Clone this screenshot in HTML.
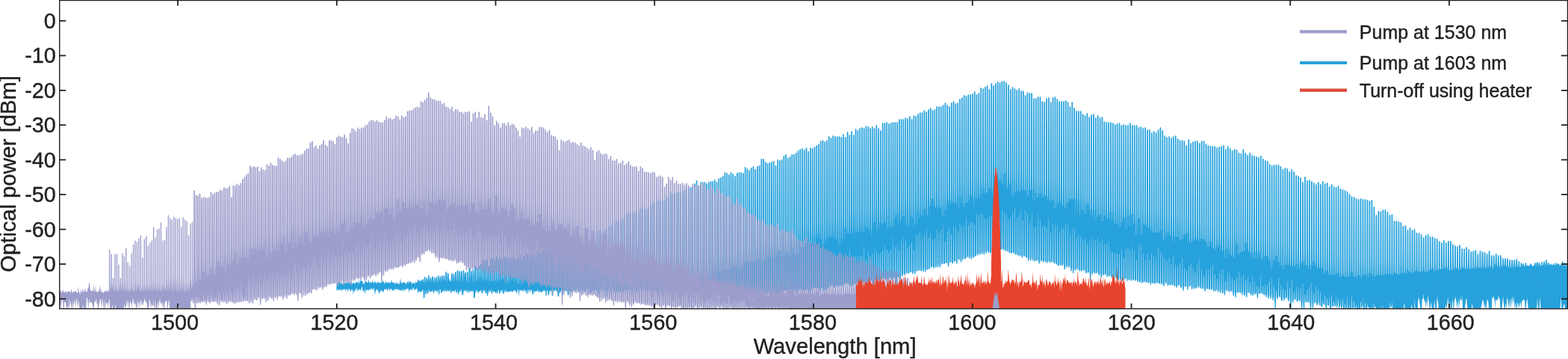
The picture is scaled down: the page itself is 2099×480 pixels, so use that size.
<!DOCTYPE html>
<html lang="en">
<head>
<meta charset="utf-8">
<title>Optical spectra</title>
<style>
html,body{margin:0;padding:0;background:#fff;}
body{width:2099px;height:480px;overflow:hidden;}
svg{display:block;}
text{font-family:"Liberation Sans",sans-serif;fill:#231f20;stroke:#231f20;stroke-width:0.4px;}
.tk text{font-size:28.8px;}
.lb{font-size:29.2px;}
.lg text{font-size:25px;}
</style>
</head>
<body>
<svg width="2099" height="480" viewBox="0 0 2099 480">
<rect width="2099" height="480" fill="#fff"/>
<defs><clipPath id="c"><rect x="79.7" y="0.5" width="2018.8" height="412.3"/></clipPath></defs>
<g clip-path="url(#c)" stroke-linejoin="round">
<g id="blue" fill="#27a2dc" stroke="#27a2dc">
<path d="M450.5 377.7L451.3 378.9L452.1 379.2L452.9 379.2L453.7 376.8L454.5 378.2L455.3 375.4L456.1 379.7L456.9 377.4L457.7 378.2L458.5 380.5L459.3 378.5L460.1 376.6L460.9 378L461.7 379L462.5 376.4L463.3 379.4L464.1 377.1L464.9 379.3L465.7 376.7L466.5 376.4L467.3 380.1L468.1 378.1L468.9 377.5L469.7 378.1L470.5 378.5L471.3 380.1L472.1 377.9L472.9 378.9L473.7 376.2L474.5 380.8L475.3 378.6L476.1 377.9L476.9 377.3L477.7 376.8L478.5 379L479.3 375.3L480.1 381.1L480.9 374.1L481.7 379.2L482.5 374.1L483.3 375.3L484.1 376.1L484.9 374.4L485.7 378.7L486.5 378.5L487.3 381.2L488.1 377.3L488.9 375.6L489.7 377L490.5 376.1L491.3 377.9L492.1 377.7L492.9 377L493.7 373.1L494.5 378.4L495.3 376.4L496.1 379.6L496.9 376L497.7 378.6L498.5 374.7L499.3 378.2L500.1 377.1L500.9 379.5L501.7 374.6L502.5 377.4L503.3 376.7L504.1 379.7L504.9 377.2L505.7 377.7L506.5 377.4L507.3 376.6L508.1 379.6L508.9 377.7L509.7 377L510.5 379.6L511.3 372.2L512.1 377.9L512.9 375.1L513.7 376.6L514.5 379.7L515.3 378.5L516.1 377L516.9 376.2L517.7 377.9L518.5 378L519.3 378.2L520.1 377.6L520.9 377L521.7 379.4L522.5 377.3L523.3 377.9L524.1 373.2L524.9 378L525.7 377.7L526.5 377.3L527.3 379.9L528.1 376.3L528.9 379.5L529.7 378.9L530.5 378.8L531.3 376.9L532.1 378.9L532.9 379.9L533.7 379L534.5 380.6L535.3 376.7L536.1 371.7L536.9 378.5L537.7 379.1L538.5 377.4L539.3 378.4L540.1 376.7L540.9 377.6L541.7 378.3L542.5 377.8L543.3 380.2L544.1 378.9L544.9 377.2L545.7 376.1L546.5 379.8L547.3 375L548.1 376.5L548.9 378.1L549.7 375.6L550.5 376.8L551.3 380.2L552.1 379.3L552.9 377.2L553.7 378.4L554.5 378.4L555.3 380.1L556.1 376.9L556.9 376.4L557.7 377.9L558.5 378.1L559.3 373.8L560.1 373.8L560.9 375.9L561.7 375.1L562.5 376.4L563.3 378.2L564.1 374.2L564.9 376.4L565.7 376.6L566.5 375.3L567.3 379L568.1 377.6L568.9 374.5L569.7 378.3L570.5 377L571.3 375.3L572.1 375.7L572.9 377L573.7 380L574.5 375.6L575.3 377.4L576.1 377.2L576.9 376.7L577.7 377.8L578.5 378.6L579.3 377.7L580.1 378.1L580.9 377.2L581.7 378L582.5 378L583.3 378L584.1 378.6L584.9 379.1L585.7 378.3L586.5 378.1L587.3 376.7L588.1 376L588.9 372.7L589.7 377.8L590.5 382.3L591.3 377.3L592.1 374.8L592.9 377.4L593.7 374.8L594.5 377L595.3 376.3L596.1 377.7L596.9 379.5L597.7 379.1L598.5 377.7L599.3 378.1L600.1 378.2L600.9 378.4L601.7 371.8L602.5 375.9L603.3 376.7L604.1 376.7L604.9 376.3L605.7 376.4L606.5 376L607.3 377.3L608.1 375.6L608.9 376.1L609.7 378.1L610.5 375.9L611.3 379.3L612.1 375.8L612.9 378.2L613.7 377.9L614.5 379.7L615.3 374.8L616.1 378.2L616.9 372.5L617.7 373.8L618.5 379.8L619.3 378.8L620.1 378L620.9 375.9L621.7 379.2L622.5 378.2L623.3 377.3L624.1 377.1L624.9 376.8L625.7 378.9L626.5 379.3L627.3 376.2L628.1 377.4L628.9 375.8L629.7 377.6L630.5 376.2L631.3 375.2L632.1 376L632.9 378.4L633.7 377.3L634.5 376.5L635.3 375.9L636.1 380.6L636.9 375.7L637.7 377.7L638.5 375.2L639.3 376.4L640.1 374L640.9 378.6L641.7 378.4L642.5 377.5L643.3 379.2L644.1 379.8L644.9 375.6L645.7 379.7L646.5 376.9L647.3 376.9L648.1 377.8L648.9 378.3L649.7 376.6L650.5 376.2L651.3 377.2L652.1 376.9L652.9 374.8L653.7 376.7L654.5 379.1L655.3 380.9L656.1 372.4L656.9 372L657.7 376.5L658.5 376.9L659.3 379.9L660.1 379.9L660.9 379.6L661.7 377L662.5 376.8L663.3 376.1L664.1 377.4L664.9 378.4L665.7 377.6L666.5 376.5L667.3 379.5L668.1 380.9L668.9 377.8L669.7 377.9L670.5 379.9L671.3 378.4L672.1 376.9L672.9 377.1L673.7 379.8L674.5 379.7L675.3 377.7L676.1 378.2L676.9 378L677.7 379.1L678.5 380.2L679.3 378.8L680.1 374.4L680.9 379.3L681.7 379.7L682.5 377.6L683.3 376.4L684.1 376.1L684.9 379.7L685.7 378.1L686.5 380.1L687.3 380.8L688.1 376.8L688.9 378.2L689.7 377L690.5 372.1L691.3 380.7L692.1 376.9L692.9 378.6L693.7 380.9L694.5 379.5L695.3 377.9L696.1 379.9L696.9 379.5L697.7 382.3L698.5 373.4L699.3 379.1L700.1 379.9L700.9 379.5L701.7 378.6L702.5 380.3L703.3 376.3L704.1 376.9L704.9 381.9L705.7 382.5L706.5 380L707.3 379.9L708.1 378.7L708.9 376.7L709.7 375L710.5 380.9L711.3 380.7L712.1 374.9L712.9 378.1L713.7 380.6L714.5 377.7L715.3 380.1L716.1 377L716.9 376.5L717.7 378.3L718.5 378.4L719.3 380.2L720.1 376L720.9 380.5L721.7 378.7L722.5 376.9L723.3 379.1L724.1 380.1L724.9 378.5L725.7 377.2L726.5 382.1L727.3 378.3L728.1 377.1L728.9 379.1L729.7 379.5L730.5 378.6L731.3 378.4L732.1 378.8L732.9 380.1L733.7 380.9L734.5 379.9L735.3 379.8L736.1 380.7L736.9 377.7L737.7 379.8L738.5 381.7L739.3 378.5L740.1 376.8L740.9 379.8L741.7 381.3L742.5 377.8L743.3 377.9L744.1 381.5L744.9 378.8L745.7 378.4L746.5 379.7L747.3 374.2L748.1 380.7L748.9 382.2L749.7 379.5L750.5 376.1L751.3 375.6L752.1 379.6L752.9 382.8L753.7 379.8L754.5 380L755.3 381.2L756.1 378.8L756.9 376.7L757.7 377L758.5 379.4L759.3 379.2L759.3 388.1L758.5 386.5L757.7 383.6L756.9 388.7L756.1 386.1L755.3 387.9L754.5 387.4L753.7 388L752.9 387.6L752.1 389.7L751.3 386.4L750.5 384.8L749.7 384L748.9 389.6L748.1 386.5L747.3 388.2L746.5 388.2L745.7 390.9L744.9 389L744.1 386.4L743.3 386L742.5 387.5L741.7 385.2L740.9 385.3L740.1 387.4L739.3 386.6L738.5 388.3L737.7 387.6L736.9 389.8L736.1 387.4L735.3 389.4L734.5 391.3L733.7 386.7L732.9 388.9L732.1 387.9L731.3 384.8L730.5 389.4L729.7 388.7L728.9 388.1L728.1 386.4L727.3 389L726.5 387.3L725.7 383.9L724.9 391.7L724.1 389.8L723.3 388.9L722.5 388.5L721.7 388.2L720.9 385.1L720.1 388.9L719.3 385.3L718.5 388L717.7 385.7L716.9 388.9L716.1 389.5L715.3 389.2L714.5 388.4L713.7 388.8L712.9 389.1L712.1 387.6L711.3 385.6L710.5 385.9L709.7 386.1L708.9 386.5L708.1 394.5L707.3 383.8L706.5 386.7L705.7 390.4L704.9 388.6L704.1 387.5L703.3 386.9L702.5 385.2L701.7 386.3L700.9 386.9L700.1 385.6L699.3 385.4L698.5 389.2L697.7 387.1L696.9 388.5L696.1 387.3L695.3 389.1L694.5 397.2L693.7 387L692.9 386.5L692.1 390.2L691.3 392.6L690.5 387.4L689.7 386.1L688.9 388.2L688.1 386.9L687.3 385L686.5 384.8L685.7 387.3L684.9 386.4L684.1 388.1L683.3 387L682.5 386.6L681.7 384.1L680.9 386.8L680.1 388.1L679.3 384.9L678.5 387.7L677.7 387.2L676.9 387.7L676.1 388.6L675.3 388.3L674.5 387.7L673.7 390L672.9 388.7L672.1 386.5L671.3 388.6L670.5 387.9L669.7 386.9L668.9 386.8L668.1 387L667.3 387.7L666.5 387.2L665.7 388.6L664.9 386.3L664.1 388.8L663.3 388.1L662.5 388.5L661.7 388.4L660.9 385.8L660.1 384.9L659.3 387.2L658.5 386.2L657.7 385.5L656.9 387.3L656.1 384.6L655.3 387.7L654.5 387.3L653.7 388.8L652.9 395.4L652.1 387.5L651.3 386.2L650.5 391.8L649.7 390.5L648.9 385.7L648.1 385.4L647.3 385.2L646.5 388.3L645.7 387.3L644.9 389.6L644.1 388.5L643.3 386.7L642.5 386.4L641.7 390L640.9 389.2L640.1 387.1L639.3 388.6L638.5 388.2L637.7 388.1L636.9 386.4L636.1 390.2L635.3 388L634.5 389.1L633.7 388.5L632.9 386.1L632.1 389.2L631.3 387.9L630.5 389L629.7 389.4L628.9 387.6L628.1 388.9L627.3 386.4L626.5 388.5L625.7 386.1L624.9 387.1L624.1 390.2L623.3 388.4L622.5 385.1L621.7 390.1L620.9 388.3L620.1 390.7L619.3 388.1L618.5 389L617.7 385.2L616.9 388.8L616.1 388.3L615.3 389.8L614.5 387.7L613.7 388.6L612.9 384L612.1 388.9L611.3 388.9L610.5 386.9L609.7 387.1L608.9 385.8L608.1 386.9L607.3 387.3L606.5 388.3L605.7 388.9L604.9 389.1L604.1 384.1L603.3 386.7L602.5 384.2L601.7 389.5L600.9 385.9L600.1 390.1L599.3 387L598.5 388.9L597.7 387.8L596.9 384.9L596.1 386.9L595.3 389.9L594.5 388L593.7 382.8L592.9 385.1L592.1 387.4L591.3 390L590.5 390.9L589.7 386.4L588.9 386.9L588.1 387.2L587.3 388.5L586.5 385.6L585.7 390.3L584.9 388.3L584.1 389.4L583.3 386.6L582.5 389.3L581.7 388.7L580.9 388.3L580.1 389.3L579.3 387.6L578.5 387.9L577.7 386L576.9 387.6L576.1 383.3L575.3 387.5L574.5 385L573.7 389.1L572.9 387.7L572.1 387.1L571.3 387.8L570.5 386.9L569.7 388.9L568.9 386.2L568.1 392.8L567.3 387.1L566.5 387.1L565.7 387.3L564.9 385.7L564.1 390.9L563.3 390.9L562.5 388.6L561.7 387.9L560.9 386.2L560.1 386L559.3 393.5L558.5 387.8L557.7 384.7L556.9 387.6L556.1 386.3L555.3 387.8L554.5 387.9L553.7 384.7L552.9 384.7L552.1 389L551.3 385.8L550.5 389.2L549.7 386.2L548.9 387.3L548.1 387.4L547.3 391.5L546.5 385.7L545.7 385.2L544.9 386.5L544.1 387L543.3 385.7L542.5 389.3L541.7 386.8L540.9 386.9L540.1 390.8L539.3 385.3L538.5 389.4L537.7 386.9L536.9 389.8L536.1 387.3L535.3 388.3L534.5 388.3L533.7 386.2L532.9 387.7L532.1 387.8L531.3 385.3L530.5 387.3L529.7 387.1L528.9 386.5L528.1 388.9L527.3 386.1L526.5 388.8L525.7 388.6L524.9 388.9L524.1 386.3L523.3 386.3L522.5 386.6L521.7 390L520.9 385.2L520.1 386L519.3 388.2L518.5 388.4L517.7 385.2L516.9 388L516.1 386L515.3 386.5L514.5 387L513.7 389.6L512.9 390.9L512.1 389.7L511.3 387.2L510.5 389.9L509.7 388L508.9 388.9L508.1 392.4L507.3 392.4L506.5 389.2L505.7 388.3L504.9 386.9L504.1 386.6L503.3 388.9L502.5 390.2L501.7 395.8L500.9 384.5L500.1 386.3L499.3 388.8L498.5 386.3L497.7 384.7L496.9 388.5L496.1 385.5L495.3 387.6L494.5 386.5L493.7 389.2L492.9 387L492.1 388.6L491.3 387.5L490.5 387.3L489.7 392.2L488.9 384.9L488.1 394.4L487.3 387.3L486.5 389.8L485.7 389.5L484.9 384.8L484.1 383L483.3 388.8L482.5 388.2L481.7 386.8L480.9 386L480.1 389.9L479.3 386.9L478.5 389.5L477.7 384.3L476.9 387.1L476.1 389.6L475.3 385.6L474.5 390.8L473.7 387.9L472.9 394.6L472.1 387.7L471.3 387.6L470.5 386.7L469.7 389.8L468.9 389.8L468.1 387L467.3 385.8L466.5 387.2L465.7 391.1L464.9 386.3L464.1 386.8L463.3 387L462.5 390L461.7 386.2L460.9 386.5L460.1 388.3L459.3 386.2L458.5 388.2L457.7 386.7L456.9 390.5L456.1 385.7L455.3 387.8L454.5 387.6L453.7 388.6L452.9 386.1L452.1 388.1L451.3 387.4L450.5 389.5Z" stroke="none"/>
<path d="M1770 380.9L1770.9 383L1771.8 381.4L1772.7 380.9L1773.6 379.2L1774.5 378.7L1775.4 379.4L1776.3 377.6L1777.2 377.1L1778.1 378.3L1779 375.5L1779.9 378.2L1780.8 379.5L1781.7 375.1L1782.6 377.3L1783.5 376.2L1784.4 378.3L1785.3 376.9L1786.2 378L1787.1 375.4L1788 376.4L1788.9 374.6L1789.8 375.2L1790.7 374.2L1791.6 373.8L1792.5 376.3L1793.4 376.1L1794.3 375L1795.2 375.2L1796.1 375.1L1797 375.2L1797.9 371.9L1798.8 375.3L1799.7 372.9L1800.6 369.9L1801.5 375.8L1802.4 372.1L1803.3 376.5L1804.2 372.8L1805.1 372L1806 375.4L1806.9 371.7L1807.8 373.7L1808.7 370.7L1809.6 373.8L1810.5 370.9L1811.4 371.1L1812.3 376L1813.2 370.4L1814.1 372.7L1815 374.2L1815.9 372.4L1816.8 372.1L1817.7 367.8L1818.6 371.3L1819.5 374L1820.4 368.8L1821.3 370.1L1822.2 373.4L1823.1 372.9L1824 370.1L1824.9 371L1825.8 370.1L1826.7 371.3L1827.6 370.8L1828.5 371.7L1829.4 370.6L1830.3 370.8L1831.2 372.1L1832.1 370.9L1833 368.1L1833.9 368.5L1834.8 369.1L1835.7 372.1L1836.6 368.2L1837.5 369.5L1838.4 365.4L1839.3 368.1L1840.2 369.7L1841.1 371L1842 370.6L1842.9 367.8L1843.8 371.9L1844.7 368.4L1845.6 370.3L1846.5 367.9L1847.4 370.6L1848.3 369.2L1849.2 368L1850.1 368.8L1851 366L1851.9 368.6L1852.8 366.5L1853.7 367.4L1854.6 369.9L1855.5 367.5L1856.4 366.3L1857.3 365.7L1858.2 367.7L1859.1 365.4L1860 365.9L1860.9 367.8L1861.8 366.8L1862.7 367.8L1863.6 367.7L1864.5 368.7L1865.4 366.5L1866.3 365.9L1867.2 368.5L1868.1 369.1L1869 367.5L1869.9 368.1L1870.8 368.2L1871.7 367.8L1872.6 367.5L1873.5 367.4L1874.4 365.5L1875.3 365.3L1876.2 367.1L1877.1 367.7L1878 367.5L1878.9 365.9L1879.8 364L1880.7 366.8L1881.6 364.3L1882.5 367.4L1883.4 363.8L1884.3 366.7L1885.2 366.7L1886.1 365.9L1887 368.7L1887.9 362L1888.8 366.7L1889.7 365.3L1890.6 364.4L1891.5 365.2L1892.4 364.2L1893.3 364.5L1894.2 363L1895.1 363.1L1896 367.2L1896.9 366.9L1897.8 364L1898.7 364.8L1899.6 361.7L1900.5 366.1L1901.4 362.5L1902.3 364L1903.2 366.4L1904.1 363.1L1905 365L1905.9 362.5L1906.8 364.3L1907.7 363.6L1908.6 365L1909.5 364.5L1910.4 363.5L1911.3 363.1L1912.2 364.1L1913.1 364.1L1914 359.9L1914.9 364.2L1915.8 360.5L1916.7 363.8L1917.6 362.5L1918.5 362L1919.4 363.4L1920.3 361.7L1921.2 362.1L1922.1 362.5L1923 360.3L1923.9 359.8L1924.8 363.9L1925.7 361.9L1926.6 362.2L1927.5 362.7L1928.4 362.8L1929.3 361.4L1930.2 362.2L1931.1 361.6L1932 361L1932.9 361.1L1933.8 360.3L1934.7 361.8L1935.6 363.2L1936.5 364.5L1937.4 360.2L1938.3 360.1L1939.2 360.1L1940.1 361.1L1941 362.4L1941.9 359.7L1942.8 361.3L1943.7 360.9L1944.6 359.8L1945.5 359.4L1946.4 361.6L1947.3 361.5L1948.2 360.6L1949.1 360.8L1950 358L1950.9 358.2L1951.8 360.8L1952.7 360.3L1953.6 361.2L1954.5 361.2L1955.4 358.9L1956.3 360.9L1957.2 357.8L1958.1 359L1959 356.9L1959.9 360.7L1960.8 357.1L1961.7 361L1962.6 357.2L1963.5 358.8L1964.4 359.2L1965.3 363.9L1966.2 357.9L1967.1 360L1968 361L1968.9 359.3L1969.8 357.3L1970.7 358.9L1971.6 359.2L1972.5 359.1L1973.4 359.8L1974.3 356.7L1975.2 355.3L1976.1 360.6L1977 355.5L1977.9 359L1978.8 358.9L1979.7 358L1980.6 356.8L1981.5 357.8L1982.4 358.2L1983.3 357.2L1984.2 357.9L1985.1 360.3L1986 355L1986.9 359.8L1987.8 358.8L1988.7 359.8L1989.6 358.8L1990.5 360L1991.4 357L1992.3 357L1993.2 357.6L1994.1 360.4L1995 356.7L1995.9 360.1L1996.8 356.4L1997.7 357.7L1998.6 360.6L1999.5 358.1L2000.4 356.6L2001.3 351.3L2002.2 358.1L2003.1 357.1L2004 359.3L2004.9 356L2005.8 356.9L2006.7 357.6L2007.6 358.2L2008.5 353.6L2009.4 358.2L2010.3 357.8L2011.2 355.8L2012.1 357L2013 355L2013.9 354.6L2014.8 358.5L2015.7 355.5L2016.6 357.7L2017.5 356.2L2018.4 357.4L2019.3 356L2020.2 358.9L2021.1 354.1L2022 357.4L2022.9 358.9L2023.8 354.9L2024.7 354.3L2025.6 357.9L2026.5 356.8L2027.4 356L2028.3 358.2L2029.2 356.6L2030.1 357.3L2031 356.1L2031.9 355.8L2032.8 356.9L2033.7 355.5L2034.6 358.4L2035.5 356.3L2036.4 355.4L2037.3 353.3L2038.2 353.5L2039.1 357.1L2040 355.3L2040.9 355.9L2041.8 356.1L2042.7 357.5L2043.6 356L2044.5 354.6L2045.4 354.7L2046.3 355.7L2047.2 354.4L2048.1 357.1L2049 354.6L2049.9 352.4L2050.8 355.2L2051.7 356.1L2052.6 356.6L2053.5 353.4L2054.4 356.5L2055.3 356.7L2056.2 355.3L2057.1 355.8L2058 356.1L2058.9 351.4L2059.8 357L2060.7 355.8L2061.6 354.8L2062.5 355.7L2063.4 356.4L2064.3 355.9L2065.2 354.6L2066.1 353.6L2067 354L2067.9 357L2068.8 353.5L2069.7 355.9L2070.6 354.1L2071.5 353L2072.4 354.4L2073.3 354.8L2074.2 353.9L2075.1 354.4L2076 352.9L2076.9 352.3L2077.8 355.4L2078.7 354.1L2079.6 354.2L2080.5 354.4L2081.4 354.3L2082.3 355.8L2083.2 354L2084.1 355L2085 356.3L2085.9 354.2L2086.8 354.7L2087.7 355.5L2088.6 352.7L2089.5 354.9L2090.4 353.4L2091.3 351.8L2092.2 352.4L2093.1 355.7L2094 353.4L2094.9 354.7L2095.8 355.6L2096.7 355.4L2097.6 351L2098.5 354.2L2098.5 413L2097.6 413L2096.7 413L2095.8 413L2094.9 413L2094 405.8L2093.1 408.1L2092.2 413L2091.3 413L2090.4 413L2089.5 394.4L2088.6 413L2087.7 413L2086.8 413L2085.9 413L2085 413L2084.1 413L2083.2 413L2082.3 413L2081.4 413L2080.5 413L2079.6 413L2078.7 413L2077.8 413L2076.9 413L2076 413L2075.1 413L2074.2 413L2073.3 413L2072.4 413L2071.5 413L2070.6 413L2069.7 413L2068.8 413L2067.9 413L2067 413L2066.1 413L2065.2 413L2064.3 413L2063.4 413L2062.5 413L2061.6 395.7L2060.7 413L2059.8 413L2058.9 413L2058 397.8L2057.1 413L2056.2 413L2055.3 413L2054.4 413L2053.5 413L2052.6 413L2051.7 413L2050.8 413L2049.9 413L2049 413L2048.1 413L2047.2 413L2046.3 413L2045.4 409.6L2044.5 399.3L2043.6 402.3L2042.7 413L2041.8 413L2040.9 401.4L2040 401.1L2039.1 400.1L2038.2 403L2037.3 401.7L2036.4 413L2035.5 403.9L2034.6 405.4L2033.7 413L2032.8 404.1L2031.9 413L2031 402.1L2030.1 413L2029.2 413L2028.3 404.1L2027.4 413L2026.5 396.9L2025.6 405.4L2024.7 393.7L2023.8 413L2022.9 396.2L2022 406.5L2021.1 413L2020.2 400.5L2019.3 413L2018.4 399.8L2017.5 398.1L2016.6 413L2015.7 405L2014.8 413L2013.9 413L2013 406.7L2012.1 393.3L2011.2 405.6L2010.3 413L2009.4 413L2008.5 413L2007.6 397.4L2006.7 397L2005.8 393.2L2004.9 400L2004 399.6L2003.1 403L2002.2 399.2L2001.3 413L2000.4 395.2L1999.5 397.1L1998.6 394.9L1997.7 393.9L1996.8 413L1995.9 413L1995 413L1994.1 413L1993.2 413L1992.3 404.6L1991.4 396.5L1990.5 403.9L1989.6 413L1988.7 413L1987.8 405L1986.9 413L1986 404.4L1985.1 399.6L1984.2 403.6L1983.3 406L1982.4 413L1981.5 413L1980.6 413L1979.7 413L1978.8 413L1977.9 413L1977 413L1976.1 413L1975.2 413L1974.3 413L1973.4 413L1972.5 413L1971.6 413L1970.7 405.3L1969.8 413L1968.9 413L1968 413L1967.1 413L1966.2 413L1965.3 413L1964.4 413L1963.5 400.6L1962.6 398.4L1961.7 406.3L1960.8 413L1959.9 413L1959 413L1958.1 413L1957.2 393L1956.3 396L1955.4 400.5L1954.5 396.7L1953.6 413L1952.7 398.5L1951.8 413L1950.9 402L1950 413L1949.1 398L1948.2 396.3L1947.3 394.9L1946.4 413L1945.5 413L1944.6 395.1L1943.7 413L1942.8 413L1941.9 413L1941 402.4L1940.1 401.8L1939.2 413L1938.3 396L1937.4 406.2L1936.5 413L1935.6 406.5L1934.7 413L1933.8 413L1932.9 413L1932 413L1931.1 413L1930.2 413L1929.3 413L1928.4 413L1927.5 413L1926.6 413L1925.7 413L1924.8 394L1923.9 394L1923 413L1922.1 413L1921.2 413L1920.3 400.4L1919.4 413L1918.5 413L1917.6 413L1916.7 413L1915.8 401.8L1914.9 413L1914 413L1913.1 406L1912.2 399.9L1911.3 393.3L1910.4 413L1909.5 393.4L1908.6 413L1907.7 403.2L1906.8 402.7L1905.9 393.2L1905 394.2L1904.1 393.6L1903.2 413L1902.3 413L1901.4 413L1900.5 405.5L1899.6 399.1L1898.7 394.2L1897.8 413L1896.9 413L1896 413L1895.1 413L1894.2 393.7L1893.3 413L1892.4 413L1891.5 413L1890.6 413L1889.7 406.4L1888.8 413L1887.9 413L1887 413L1886.1 413L1885.2 413L1884.3 413L1883.4 413L1882.5 413L1881.6 413L1880.7 413L1879.8 404.1L1878.9 413L1878 413L1877.1 413L1876.2 413L1875.3 413L1874.4 413L1873.5 413L1872.6 413L1871.7 413L1870.8 413L1869.9 413L1869 413L1868.1 413L1867.2 413L1866.3 413L1865.4 401.6L1864.5 413L1863.6 406L1862.7 400.9L1861.8 413L1860.9 401.5L1860 413L1859.1 413L1858.2 413L1857.3 413L1856.4 400.8L1855.5 413L1854.6 413L1853.7 413L1852.8 413L1851.9 413L1851 408L1850.1 413L1849.2 403.9L1848.3 413L1847.4 413L1846.5 408.2L1845.6 413L1844.7 413L1843.8 413L1842.9 413L1842 413L1841.1 406.6L1840.2 413L1839.3 406.1L1838.4 397.1L1837.5 404.3L1836.6 413L1835.7 401.7L1834.8 413L1833.9 413L1833 413L1832.1 398.5L1831.2 413L1830.3 405.7L1829.4 401.5L1828.5 413L1827.6 406.1L1826.7 399.5L1825.8 407.3L1824.9 413L1824 395.5L1823.1 398.3L1822.2 404.5L1821.3 402.8L1820.4 413L1819.5 404.9L1818.6 413L1817.7 395.2L1816.8 413L1815.9 413L1815 404.2L1814.1 413L1813.2 401L1812.3 404.1L1811.4 405.9L1810.5 413L1809.6 394.4L1808.7 399L1807.8 399.7L1806.9 413L1806 401.9L1805.1 413L1804.2 413L1803.3 393.6L1802.4 402.4L1801.5 413L1800.6 405.9L1799.7 405.6L1798.8 405.8L1797.9 398.3L1797 404.1L1796.1 413L1795.2 394.8L1794.3 406.4L1793.4 396.7L1792.5 404.5L1791.6 399.2L1790.7 401.5L1789.8 413L1788.9 406.3L1788 391.3L1787.1 400.1L1786.2 403.1L1785.3 403.8L1784.4 399.4L1783.5 394.1L1782.6 396.2L1781.7 393L1780.8 400.9L1779.9 405.8L1779 390.8L1778.1 392.1L1777.2 394.2L1776.3 400.7L1775.4 397.2L1774.5 398.9L1773.6 395.1L1772.7 393.5L1771.8 390.3L1770.9 404.1L1770 401.5Z" stroke="none"/>
<path d="M562.3 381L564.9 381L564.9 378L567.5 378L567.5 379L570 379L570 378L572.6 378L572.6 375L575.2 375L575.2 377L577.8 377L577.8 378L580.4 378L580.4 379L582.9 379L582.9 378L585.5 378L585.5 382L588.1 382L588.1 380L590.7 380L590.7 376L593.3 376L593.3 375L595.9 375L595.9 376L598.5 376L598.5 377L601 377L601 379L603.6 379L603.6 383L606.2 383L606.2 376L608.8 376L608.8 374L611.4 374L611.4 376L614 376L614 378L616.6 378L616.6 379L619.2 379L619.2 377L621.8 377L621.8 381L624.4 381L624.4 379L627 379L627 381L629.6 381L629.6 380L632.2 380L632.2 380L634.8 380L634.8 380L637.4 380L637.4 376L640 376L640 371L642.6 371L642.6 381L645.2 381L645.2 374L647.8 374L647.8 375L650.4 375L650.4 379L653 379L653 382L655.6 382L655.6 380L658.2 380L658.2 376L660.8 376L660.8 379L663.4 379L663.4 375L666 375L666 376L668.7 376L668.7 381L671.3 381L671.3 374L673.9 374L673.9 372L676.5 372L676.5 375L679.1 375L679.1 379L681.7 379L681.7 375L684.3 375L684.3 376L686.9 376L686.9 378L689.6 378L689.6 372L692.2 372L692.2 383L694.8 383L694.8 374L697.4 374L697.4 381L700 381L700 373L702.7 373L702.7 377L705.3 377L705.3 378L707.9 378L707.9 379L710.5 379L710.5 380L713.2 380L713.2 377L715.8 377L715.8 372L718.4 372L718.4 377L721 377L721 376L723.7 376L723.7 375L726.3 375L726.3 379L728.9 379L728.9 373L731.6 373L731.6 382L734.2 382L734.2 377L736.8 377L736.8 376L739.5 376L739.5 378L742.1 378L742.1 379L744.7 379L744.7 375L747.4 375L747.4 378L750 378L750 377L752.6 377L752.6 375L755.3 375L755.3 377L757.9 377L757.9 375L760.5 375L760.5 377L763.2 377L763.2 375L765.8 375L765.8 378L768.5 378L768.5 379L771.1 379L771.1 380L773.8 380L773.8 378L776.4 378L776.4 374L779.1 374L779.1 375L781.7 375L781.7 373L784.3 373L784.3 379L787 379L787 373L789.6 373L789.6 379L792.3 379L792.3 378L794.9 378L794.9 375L797.6 375L797.6 375L800.2 375L800.2 375L802.9 375L802.9 375L805.6 375L805.6 375L808.2 375L808.2 372L810.9 372L810.9 380L813.5 380L813.5 377L816.2 377L816.2 377L818.8 377L818.8 379L821.5 379L821.5 375L824.2 375L824.2 374L826.8 374L826.8 372L829.5 372L829.5 373L832.1 373L832.1 376L834.8 376L834.8 375L837.5 375L837.5 373L840.1 373L840.1 373L842.8 373L842.8 371L845.5 371L845.5 371L848.1 371L848.1 376L850.8 376L850.8 375L853.5 375L853.5 373L856.2 373L856.2 374L858.8 374L858.8 377L861.5 377L861.5 375L864.2 375L864.2 375L866.8 375L866.8 371L869.5 371L869.5 375L872.2 375L872.2 371L874.9 371L874.9 375L877.5 375L877.5 372L880.2 372L880.2 376L882.9 376L882.9 373L885.6 373L885.6 369L888.3 369L888.3 373L891 373L891 374L893.6 374L893.6 375L896.3 375L896.3 376L899 376L899 374L901.7 374L901.7 377L904.4 377L904.4 369L907.1 369L907.1 372L909.7 372L909.7 369L912.4 369L912.4 371L915.1 371L915.1 369L917.8 369L917.8 370L920.5 370L920.5 375L923.2 375L923.2 372L925.9 372L925.9 375L928.6 375L928.6 373L931.3 373L931.3 374L934 374L934 375L936.7 375L936.7 369L939.4 369L939.4 369L942.1 369L942.1 372L944.8 372L944.8 369L947.5 369L947.5 366L950.2 366L950.2 374L952.9 374L952.9 362L955.6 362L955.6 365L958.3 365L958.3 365L961 365L961 363L963.7 363L963.7 364L966.4 364L966.4 362L969.1 362L969.1 362L971.8 362L971.8 361L974.5 361L974.5 359L977.2 359L977.2 360L979.9 360L979.9 355L982.7 355L982.7 358L985.4 358L985.4 354L988.1 354L988.1 359L990.8 359L990.8 359L993.5 359L993.5 353L996.2 353L996.2 350L998.9 350L998.9 349L1001.7 349L1001.7 351L1004.4 351L1004.4 351L1007.1 351L1007.1 351L1009.8 351L1009.8 352L1012.5 352L1012.5 348L1015.3 348L1015.3 346L1018 346L1018 356L1020.7 356L1020.7 347L1023.4 347L1023.4 347L1026.2 347L1026.2 343L1028.9 343L1028.9 345L1031.6 345L1031.6 343L1034.3 343L1034.3 345L1037.1 345L1037.1 341L1039.8 341L1039.8 335L1042.5 335L1042.5 335L1045.3 335L1045.3 343L1048 343L1048 341L1050.7 341L1050.7 337L1053.5 337L1053.5 339L1056.2 339L1056.2 342L1058.9 342L1058.9 331L1061.7 331L1061.7 340L1064.4 340L1064.4 342L1067.2 342L1067.2 339L1069.9 339L1069.9 330L1072.6 330L1072.6 334L1075.4 334L1075.4 330L1078.1 330L1078.1 324L1080.9 324L1080.9 325L1083.6 325L1083.6 325L1086.3 325L1086.3 325L1089.1 325L1089.1 326L1091.8 326L1091.8 317L1094.6 317L1094.6 313L1097.3 313L1097.3 319L1100.1 319L1100.1 329L1102.8 329L1102.8 322L1105.6 322L1105.6 324L1108.3 324L1108.3 317L1111.1 317L1111.1 316L1113.9 316L1113.9 318L1116.6 318L1116.6 320L1119.4 320L1119.4 320L1122.1 320L1122.1 329L1124.9 329L1124.9 324L1127.6 324L1127.6 320L1130.4 320L1130.4 305L1133.2 305L1133.2 312L1135.9 312L1135.9 312L1138.7 312L1138.7 306L1141.4 306L1141.4 313L1144.2 313L1144.2 309L1147 309L1147 310L1149.7 310L1149.7 311L1152.5 311L1152.5 305L1155.3 305L1155.3 311L1158 311L1158 304L1160.8 304L1160.8 307L1163.6 307L1163.6 308L1166.4 308L1166.4 319L1169.1 319L1169.1 297L1171.9 297L1171.9 313L1174.7 313L1174.7 304L1177.5 304L1177.5 297L1180.2 297L1180.2 300L1183 300L1183 297L1185.8 297L1185.8 306L1188.6 306L1188.6 304L1191.3 304L1191.3 303L1194.1 303L1194.1 304L1196.9 304L1196.9 291L1199.7 291L1199.7 286L1202.5 286L1202.5 299L1205.3 299L1205.3 294L1208 294L1208 289L1210.8 289L1210.8 301L1213.6 301L1213.6 305L1216.4 305L1216.4 301L1219.2 301L1219.2 290L1222 290L1222 304L1224.8 304L1224.8 300L1227.6 300L1227.6 283L1230.4 283L1230.4 291L1233.1 291L1233.1 288L1235.9 288L1235.9 280L1238.7 280L1238.7 289L1241.5 289L1241.5 288L1244.3 288L1244.3 275L1247.1 275L1247.1 266L1249.9 266L1249.9 277L1252.7 277L1252.7 279L1255.5 279L1255.5 275L1258.3 275L1258.3 278L1261.1 278L1261.1 288L1263.9 288L1263.9 281L1266.7 281L1266.7 273L1269.5 273L1269.5 268L1272.4 268L1272.4 272L1275.2 272L1275.2 270L1278 270L1278 272L1280.8 272L1280.8 278L1283.6 278L1283.6 263L1286.4 263L1286.4 272L1289.2 272L1289.2 277L1292 277L1292 271L1294.8 271L1294.8 269L1297.7 269L1297.7 261L1300.5 261L1300.5 263L1303.3 263L1303.3 276L1306.1 276L1306.1 265L1308.9 265L1308.9 265L1311.7 265L1311.7 260L1314.6 260L1314.6 250L1317.4 250L1317.4 259L1320.2 259L1320.2 257L1323 257L1323 251L1325.9 251L1325.9 260L1328.7 260L1328.7 254L1331.5 254L1331.5 238L1334.3 238L1334.3 244L1337.2 244L1337.2 240L1340 240L1340 246L1342.8 246L1342.8 232L1345.6 232L1345.6 251L1348.5 251L1348.5 252L1351.3 252L1351.3 245L1354.1 245L1354.1 262L1357 262L1357 257L1359.8 257L1359.8 255L1362.7 255L1362.7 256L1365.5 256L1365.5 255L1368.3 255L1368.3 253L1371.2 253L1371.2 255L1374 255L1374 262L1376.8 262L1376.8 254L1379.7 254L1379.7 254L1382.5 254L1382.5 268L1385.4 268L1385.4 258L1388.2 258L1388.2 264L1391.1 264L1391.1 258L1393.9 258L1393.9 264L1396.8 264L1396.8 261L1399.6 261L1399.6 262L1402.5 262L1402.5 267L1405.3 267L1405.3 270L1408.2 270L1408.2 267L1411 267L1411 278L1413.9 278L1413.9 272L1416.7 272L1416.7 269L1419.6 269L1419.6 273L1422.4 273L1422.4 275L1425.3 275L1425.3 279L1428.2 279L1428.2 271L1431 271L1431 266L1433.9 266L1433.9 267L1436.7 267L1436.7 266L1439.6 266L1439.6 285L1442.5 285L1442.5 268L1445.3 268L1445.3 288L1448.2 288L1448.2 281L1451.1 281L1451.1 286L1453.9 286L1453.9 273L1456.8 273L1456.8 281L1459.7 281L1459.7 290L1462.5 290L1462.5 280L1465.4 280L1465.4 295L1468.3 295L1468.3 290L1471.1 290L1471.1 287L1474 287L1474 296L1476.9 296L1476.9 288L1479.8 288L1479.8 291L1482.6 291L1482.6 293L1485.5 293L1485.5 284L1488.4 284L1488.4 294L1491.3 294L1491.3 299L1494.2 299L1494.2 299L1497 299L1497 304L1499.9 304L1499.9 297L1502.8 297L1502.8 291L1505.7 291L1505.7 307L1508.6 307L1508.6 288L1511.5 288L1511.5 302L1514.3 302L1514.3 286L1517.2 286L1517.2 299L1520.1 299L1520.1 314L1523 314L1523 292L1525.9 292L1525.9 313L1528.8 313L1528.8 301L1531.7 301L1531.7 300L1534.6 300L1534.6 304L1537.5 304L1537.5 304L1540.4 304L1540.4 309L1543.3 309L1543.3 311L1546.2 311L1546.2 311L1549.1 311L1549.1 311L1552 311L1552 308L1554.9 308L1554.9 321L1557.8 321L1557.8 318L1560.7 318L1560.7 311L1563.6 311L1563.6 314L1566.5 314L1566.5 316L1569.4 316L1569.4 324L1572.3 324L1572.3 316L1575.2 316L1575.2 317L1578.1 317L1578.1 321L1581 321L1581 320L1583.9 320L1583.9 314L1586.8 314L1586.8 312L1589.7 312L1589.7 325L1592.7 325L1592.7 323L1595.6 323L1595.6 323L1598.5 323L1598.5 321L1601.4 321L1601.4 319L1604.3 319L1604.3 322L1607.2 322L1607.2 319L1610.2 319L1610.2 320L1613.1 320L1613.1 324L1616 324L1616 330L1618.9 330L1618.9 323L1621.8 323L1621.8 332L1624.8 332L1624.8 334L1627.7 334L1627.7 330L1630.6 330L1630.6 327L1633.5 327L1633.5 335L1636.5 335L1636.5 336L1639.4 336L1639.4 345L1642.3 345L1642.3 333L1645.3 333L1645.3 340L1648.2 340L1648.2 342L1651.1 342L1651.1 345L1654.1 345L1654.1 326L1657 326L1657 340L1659.9 340L1659.9 337L1662.9 337L1662.9 336L1665.8 336L1665.8 325L1668.7 325L1668.7 335L1671.7 335L1671.7 338L1674.6 338L1674.6 345L1677.6 345L1677.6 337L1680.5 337L1680.5 346L1683.5 346L1683.5 336L1686.4 336L1686.4 344L1689.3 344L1689.3 348L1692.3 348L1692.3 342L1695.2 342L1695.2 343L1698.2 343L1698.2 348L1701.1 348L1701.1 358L1704.1 358L1704.1 348L1707 348L1707 342L1710 342L1710 350L1713 350L1713 355L1715.9 355L1715.9 359L1718.9 359L1718.9 354L1721.8 354L1721.8 354L1724.8 354L1724.8 354L1727.7 354L1727.7 356L1730.7 356L1730.7 356L1733.7 356L1733.7 353L1736.6 353L1736.6 359L1739.6 359L1739.6 353L1742.5 353L1742.5 349L1745.5 349L1745.5 355L1748.5 355L1748.5 355L1751.4 355L1751.4 360L1754.4 360L1754.4 355L1757.4 355L1757.4 350L1760.3 350L1760.3 355L1763.3 355L1763.3 359L1766.3 359L1766.3 358L1769.3 358L1769.3 359L1772.2 359L1772.2 366L1775.2 366L1775.2 362L1778.2 362L1778.2 367L1781.2 367L1781.2 367L1784.1 367L1784.1 368L1787.1 368L1787.1 366L1790.1 366L1790.1 365L1793.1 365L1793.1 370L1796.1 370L1796.1 367L1799.1 367L1799.1 370L1802 370L1802 370L1805 370L1805 369L1808 369L1808 364L1811 364L1811 370L1814 370L1814 371L1817 371L1817 368L1820 368L1820 372L1823 372L1823 368L1825.9 368L1825.9 367L1828.9 367L1828.9 370L1831.9 370L1831.9 365L1834.9 365L1834.9 369L1837.9 369L1837.9 373L1840.9 373L1840.9 369L1843.9 369L1843.9 367L1846.9 367L1846.9 369L1849.9 369L1849.9 370L1852.9 370L1852.9 367L1855.9 367L1855.9 367L1858.9 367L1858.9 368L1861.9 368L1861.9 369L1864.9 369L1864.9 365L1867.9 365L1867.9 366L1871 366L1871 369L1874 369L1874 366L1877 366L1877 365L1880 365L1880 370L1883 370L1883 362L1886 362L1886 364L1889 364L1889 366L1892 366L1892 367L1895.1 367L1895.1 362L1898.1 362L1898.1 364L1901.1 364L1901.1 365L1904.1 365L1904.1 362L1907.1 362L1907.1 364L1910.1 364L1910.1 363L1913.2 363L1913.2 361L1916.2 361L1916.2 359L1919.2 359L1919.2 363L1922.2 363L1922.2 363L1925.3 363L1925.3 360L1928.3 360L1928.3 360L1931.3 360L1931.3 359L1934.4 359L1934.4 357L1937.4 357L1937.4 361L1940.4 361L1940.4 362L1943.4 362L1943.4 363L1946.5 363L1946.5 358L1949.5 358L1949.5 362L1952.6 362L1952.6 361L1955.6 361L1955.6 359L1958.6 359L1958.6 361L1961.7 361L1961.7 359L1964.7 359L1964.7 363L1967.7 363L1967.7 359L1970.8 359L1970.8 361L1973.8 361L1973.8 365L1976.9 365L1976.9 360L1979.9 360L1979.9 359L1983 359L1983 360L1986 360L1986 358L1989.1 358L1989.1 359L1992.1 359L1992.1 361L1995.2 361L1995.2 356L1998.2 356L1998.2 361L2001.3 361L2001.3 357L2004.3 357L2004.3 355L2007.4 355L2007.4 362L2010.4 362L2010.4 355L2013.5 355L2013.5 357L2016.5 357L2016.5 359L2019.6 359L2019.6 358L2022.7 358L2022.7 361L2025.7 361L2025.7 358L2028.8 358L2028.8 357L2031.8 357L2031.8 357L2034.9 357L2034.9 357L2038 357L2038 359L2041 359L2041 356L2044.1 356L2044.1 359L2047.2 359L2047.2 358L2050.2 358L2050.2 356L2053.3 356L2053.3 358L2056.4 358L2056.4 352L2059.5 352L2059.5 357L2062.5 357L2062.5 355L2065.6 355L2065.6 355L2068.7 355L2068.7 352L2071.8 352L2071.8 357L2074.8 357L2074.8 361L2077.9 361L2077.9 356L2081 356L2081 356L2084.1 356L2084.1 353L2087.2 353L2087.2 359L2090.2 359L2090.2 357L2093.3 357L2093.3 396L2090.2 396L2090.2 391L2087.2 391L2087.2 387L2084.1 387L2084.1 393L2081 393L2081 392L2077.9 392L2077.9 390L2074.8 390L2074.8 392L2071.8 392L2071.8 386L2068.7 386L2068.7 389L2065.6 389L2065.6 392L2062.5 392L2062.5 387L2059.5 387L2059.5 391L2056.4 391L2056.4 391L2053.3 391L2053.3 387L2050.2 387L2050.2 390L2047.2 390L2047.2 387L2044.1 387L2044.1 386L2041 386L2041 389L2038 389L2038 393L2034.9 393L2034.9 391L2031.8 391L2031.8 392L2028.8 392L2028.8 392L2025.7 392L2025.7 387L2022.7 387L2022.7 390L2019.6 390L2019.6 393L2016.5 393L2016.5 392L2013.5 392L2013.5 390L2010.4 390L2010.4 394L2007.4 394L2007.4 390L2004.3 390L2004.3 395L2001.3 395L2001.3 391L1998.2 391L1998.2 395L1995.2 395L1995.2 395L1992.1 395L1992.1 396L1989.1 396L1989.1 388L1986 388L1986 395L1983 395L1983 385L1979.9 385L1979.9 390L1976.9 390L1976.9 394L1973.8 394L1973.8 391L1970.8 391L1970.8 388L1967.7 388L1967.7 393L1964.7 393L1964.7 388L1961.7 388L1961.7 394L1958.6 394L1958.6 390L1955.6 390L1955.6 387L1952.6 387L1952.6 387L1949.5 387L1949.5 390L1946.5 390L1946.5 392L1943.4 392L1943.4 392L1940.4 392L1940.4 393L1937.4 393L1937.4 393L1934.4 393L1934.4 390L1931.3 390L1931.3 390L1928.3 390L1928.3 395L1925.3 395L1925.3 386L1922.2 386L1922.2 391L1919.2 391L1919.2 391L1916.2 391L1916.2 387L1913.2 387L1913.2 392L1910.1 392L1910.1 390L1907.1 390L1907.1 392L1904.1 392L1904.1 392L1901.1 392L1901.1 389L1898.1 389L1898.1 390L1895.1 390L1895.1 392L1892 392L1892 389L1889 389L1889 395L1886 395L1886 392L1883 392L1883 389L1880 389L1880 391L1877 391L1877 389L1874 389L1874 389L1871 389L1871 390L1867.9 390L1867.9 387L1864.9 387L1864.9 392L1861.9 392L1861.9 389L1858.9 389L1858.9 386L1855.9 386L1855.9 396L1852.9 396L1852.9 392L1849.9 392L1849.9 390L1846.9 390L1846.9 389L1843.9 389L1843.9 390L1840.9 390L1840.9 391L1837.9 391L1837.9 385L1834.9 385L1834.9 386L1831.9 386L1831.9 394L1828.9 394L1828.9 392L1825.9 392L1825.9 393L1823 393L1823 391L1820 391L1820 398L1817 398L1817 392L1814 392L1814 389L1811 389L1811 388L1808 388L1808 391L1805 391L1805 390L1802 390L1802 390L1799.1 390L1799.1 387L1796.1 387L1796.1 391L1793.1 391L1793.1 388L1790.1 388L1790.1 390L1787.1 390L1787.1 382L1784.1 382L1784.1 390L1781.2 390L1781.2 391L1778.2 391L1778.2 389L1775.2 389L1775.2 387L1772.2 387L1772.2 392L1769.3 392L1769.3 391L1766.3 391L1766.3 387L1763.3 387L1763.3 383L1760.3 383L1760.3 392L1757.4 392L1757.4 378L1754.4 378L1754.4 384L1751.4 384L1751.4 388L1748.5 388L1748.5 394L1745.5 394L1745.5 379L1742.5 379L1742.5 385L1739.6 385L1739.6 387L1736.6 387L1736.6 383L1733.7 383L1733.7 391L1730.7 391L1730.7 374L1727.7 374L1727.7 384L1724.8 384L1724.8 375L1721.8 375L1721.8 388L1718.9 388L1718.9 386L1715.9 386L1715.9 381L1713 381L1713 372L1710 372L1710 389L1707 389L1707 382L1704.1 382L1704.1 372L1701.1 372L1701.1 376L1698.2 376L1698.2 381L1695.2 381L1695.2 380L1692.3 380L1692.3 382L1689.3 382L1689.3 368L1686.4 368L1686.4 384L1683.5 384L1683.5 382L1680.5 382L1680.5 376L1677.6 376L1677.6 370L1674.6 370L1674.6 377L1671.7 377L1671.7 370L1668.7 370L1668.7 374L1665.8 374L1665.8 367L1662.9 367L1662.9 369L1659.9 369L1659.9 364L1657 364L1657 370L1654.1 370L1654.1 375L1651.1 375L1651.1 372L1648.2 372L1648.2 367L1645.3 367L1645.3 363L1642.3 363L1642.3 376L1639.4 376L1639.4 360L1636.5 360L1636.5 361L1633.5 361L1633.5 365L1630.6 365L1630.6 373L1627.7 373L1627.7 367L1624.8 367L1624.8 354L1621.8 354L1621.8 357L1618.9 357L1618.9 361L1616 361L1616 359L1613.1 359L1613.1 368L1610.2 368L1610.2 359L1607.2 359L1607.2 347L1604.3 347L1604.3 353L1601.4 353L1601.4 364L1598.5 364L1598.5 358L1595.6 358L1595.6 352L1592.7 352L1592.7 356L1589.7 356L1589.7 362L1586.8 362L1586.8 358L1583.9 358L1583.9 346L1581 346L1581 352L1578.1 352L1578.1 356L1575.2 356L1575.2 354L1572.3 354L1572.3 343L1569.4 343L1569.4 353L1566.5 353L1566.5 345L1563.6 345L1563.6 349L1560.7 349L1560.7 346L1557.8 346L1557.8 341L1554.9 341L1554.9 337L1552 337L1552 332L1549.1 332L1549.1 344L1546.2 344L1546.2 342L1543.3 342L1543.3 339L1540.4 339L1540.4 347L1537.5 347L1537.5 339L1534.6 339L1534.6 348L1531.7 348L1531.7 339L1528.8 339L1528.8 328L1525.9 328L1525.9 326L1523 326L1523 348L1520.1 348L1520.1 335L1517.2 335L1517.2 330L1514.3 330L1514.3 335L1511.5 335L1511.5 332L1508.6 332L1508.6 332L1505.7 332L1505.7 345L1502.8 345L1502.8 334L1499.9 334L1499.9 340L1497 340L1497 339L1494.2 339L1494.2 339L1491.3 339L1491.3 337L1488.4 337L1488.4 337L1485.5 337L1485.5 322L1482.6 322L1482.6 326L1479.8 326L1479.8 326L1476.9 326L1476.9 320L1474 320L1474 324L1471.1 324L1471.1 318L1468.3 318L1468.3 321L1465.4 321L1465.4 321L1462.5 321L1462.5 316L1459.7 316L1459.7 323L1456.8 323L1456.8 325L1453.9 325L1453.9 319L1451.1 319L1451.1 321L1448.2 321L1448.2 316L1445.3 316L1445.3 313L1442.5 313L1442.5 318L1439.6 318L1439.6 305L1436.7 305L1436.7 305L1433.9 305L1433.9 313L1431 313L1431 301L1428.2 301L1428.2 300L1425.3 300L1425.3 306L1422.4 306L1422.4 303L1419.6 303L1419.6 311L1416.7 311L1416.7 302L1413.9 302L1413.9 301L1411 301L1411 299L1408.2 299L1408.2 311L1405.3 311L1405.3 291L1402.5 291L1402.5 304L1399.6 304L1399.6 302L1396.8 302L1396.8 303L1393.9 303L1393.9 295L1391.1 295L1391.1 283L1388.2 283L1388.2 303L1385.4 303L1385.4 304L1382.5 304L1382.5 285L1379.7 285L1379.7 296L1376.8 296L1376.8 285L1374 285L1374 282L1371.2 282L1371.2 294L1368.3 294L1368.3 280L1365.5 280L1365.5 285L1362.7 285L1362.7 291L1359.8 291L1359.8 278L1357 278L1357 283L1354.1 283L1354.1 291L1351.3 291L1351.3 294L1348.5 294L1348.5 286L1345.6 286L1345.6 284L1342.8 284L1342.8 280L1340 280L1340 296L1337.2 296L1337.2 280L1334.3 280L1334.3 277L1331.5 277L1331.5 293L1328.7 293L1328.7 288L1325.9 288L1325.9 288L1323 288L1323 293L1320.2 293L1320.2 292L1317.4 292L1317.4 287L1314.6 287L1314.6 285L1311.7 285L1311.7 287L1308.9 287L1308.9 286L1306.1 286L1306.1 300L1303.3 300L1303.3 297L1300.5 297L1300.5 297L1297.7 297L1297.7 301L1294.8 301L1294.8 291L1292 291L1292 301L1289.2 301L1289.2 303L1286.4 303L1286.4 299L1283.6 299L1283.6 309L1280.8 309L1280.8 303L1278 303L1278 302L1275.2 302L1275.2 313L1272.4 313L1272.4 304L1269.5 304L1269.5 309L1266.7 309L1266.7 323L1263.9 323L1263.9 301L1261.1 301L1261.1 307L1258.3 307L1258.3 312L1255.5 312L1255.5 306L1252.7 306L1252.7 319L1249.9 319L1249.9 321L1247.1 321L1247.1 313L1244.3 313L1244.3 318L1241.5 318L1241.5 307L1238.7 307L1238.7 312L1235.9 312L1235.9 317L1233.1 317L1233.1 310L1230.4 310L1230.4 313L1227.6 313L1227.6 314L1224.8 314L1224.8 334L1222 334L1222 324L1219.2 324L1219.2 327L1216.4 327L1216.4 332L1213.6 332L1213.6 322L1210.8 322L1210.8 317L1208 317L1208 321L1205.3 321L1205.3 334L1202.5 334L1202.5 326L1199.7 326L1199.7 330L1196.9 330L1196.9 318L1194.1 318L1194.1 333L1191.3 333L1191.3 338L1188.6 338L1188.6 334L1185.8 334L1185.8 329L1183 329L1183 335L1180.2 335L1180.2 338L1177.5 338L1177.5 340L1174.7 340L1174.7 336L1171.9 336L1171.9 332L1169.1 332L1169.1 339L1166.4 339L1166.4 343L1163.6 343L1163.6 336L1160.8 336L1160.8 347L1158 347L1158 328L1155.3 328L1155.3 342L1152.5 342L1152.5 342L1149.7 342L1149.7 343L1147 343L1147 342L1144.2 342L1144.2 347L1141.4 347L1141.4 354L1138.7 354L1138.7 334L1135.9 334L1135.9 346L1133.2 346L1133.2 351L1130.4 351L1130.4 351L1127.6 351L1127.6 349L1124.9 349L1124.9 349L1122.1 349L1122.1 349L1119.4 349L1119.4 349L1116.6 349L1116.6 363L1113.9 363L1113.9 358L1111.1 358L1111.1 351L1108.3 351L1108.3 349L1105.6 349L1105.6 352L1102.8 352L1102.8 356L1100.1 356L1100.1 352L1097.3 352L1097.3 363L1094.6 363L1094.6 353L1091.8 353L1091.8 353L1089.1 353L1089.1 358L1086.3 358L1086.3 362L1083.6 362L1083.6 354L1080.9 354L1080.9 361L1078.1 361L1078.1 363L1075.4 363L1075.4 356L1072.6 356L1072.6 364L1069.9 364L1069.9 375L1067.2 375L1067.2 372L1064.4 372L1064.4 363L1061.7 363L1061.7 364L1058.9 364L1058.9 364L1056.2 364L1056.2 363L1053.5 363L1053.5 366L1050.7 366L1050.7 371L1048 371L1048 369L1045.3 369L1045.3 370L1042.5 370L1042.5 374L1039.8 374L1039.8 377L1037.1 377L1037.1 374L1034.3 374L1034.3 370L1031.6 370L1031.6 374L1028.9 374L1028.9 372L1026.2 372L1026.2 375L1023.4 375L1023.4 374L1020.7 374L1020.7 375L1018 375L1018 372L1015.3 372L1015.3 378L1012.5 378L1012.5 376L1009.8 376L1009.8 378L1007.1 378L1007.1 376L1004.4 376L1004.4 376L1001.7 376L1001.7 376L998.9 376L998.9 378L996.2 378L996.2 376L993.5 376L993.5 379L990.8 379L990.8 380L988.1 380L988.1 381L985.4 381L985.4 384L982.7 384L982.7 379L979.9 379L979.9 383L977.2 383L977.2 381L974.5 381L974.5 381L971.8 381L971.8 386L969.1 386L969.1 384L966.4 384L966.4 385L963.7 385L963.7 385L961 385L961 389L958.3 389L958.3 386L955.6 386L955.6 385L952.9 385L952.9 386L950.2 386L950.2 387L947.5 387L947.5 387L944.8 387L944.8 386L942.1 386L942.1 387L939.4 387L939.4 386L936.7 386L936.7 385L934 385L934 383L931.3 383L931.3 386L928.6 386L928.6 389L925.9 389L925.9 385L923.2 385L923.2 387L920.5 387L920.5 388L917.8 388L917.8 388L915.1 388L915.1 385L912.4 385L912.4 389L909.7 389L909.7 387L907.1 387L907.1 389L904.4 389L904.4 384L901.7 384L901.7 388L899 388L899 392L896.3 392L896.3 388L893.6 388L893.6 389L891 389L891 384L888.3 384L888.3 385L885.6 385L885.6 388L882.9 388L882.9 391L880.2 391L880.2 390L877.5 390L877.5 389L874.9 389L874.9 387L872.2 387L872.2 388L869.5 388L869.5 387L866.8 387L866.8 389L864.2 389L864.2 384L861.5 384L861.5 386L858.8 386L858.8 386L856.2 386L856.2 388L853.5 388L853.5 389L850.8 389L850.8 384L848.1 384L848.1 387L845.5 387L845.5 387L842.8 387L842.8 387L840.1 387L840.1 389L837.5 389L837.5 383L834.8 383L834.8 389L832.1 389L832.1 390L829.5 390L829.5 387L826.8 387L826.8 391L824.2 391L824.2 390L821.5 390L821.5 383L818.8 383L818.8 383L816.2 383L816.2 385L813.5 385L813.5 388L810.9 388L810.9 383L808.2 383L808.2 384L805.6 384L805.6 386L802.9 386L802.9 389L800.2 389L800.2 388L797.6 388L797.6 387L794.9 387L794.9 388L792.3 388L792.3 391L789.6 391L789.6 386L787 386L787 386L784.3 386L784.3 389L781.7 389L781.7 388L779.1 388L779.1 386L776.4 386L776.4 384L773.8 384L773.8 387L771.1 387L771.1 388L768.5 388L768.5 383L765.8 383L765.8 390L763.2 390L763.2 388L760.5 388L760.5 385L757.9 385L757.9 388L755.3 388L755.3 385L752.6 385L752.6 387L750 387L750 386L747.4 386L747.4 384L744.7 384L744.7 384L742.1 384L742.1 388L739.5 388L739.5 387L736.8 387L736.8 386L734.2 386L734.2 383L731.6 383L731.6 385L728.9 385L728.9 387L726.3 387L726.3 384L723.7 384L723.7 384L721 384L721 385L718.4 385L718.4 389L715.8 389L715.8 388L713.2 388L713.2 387L710.5 387L710.5 387L707.9 387L707.9 385L705.3 385L705.3 387L702.7 387L702.7 380L700 380L700 385L697.4 385L697.4 383L694.8 383L694.8 383L692.2 383L692.2 388L689.6 388L689.6 387L686.9 387L686.9 390L684.3 390L684.3 389L681.7 389L681.7 390L679.1 390L679.1 387L676.5 387L676.5 379L673.9 379L673.9 386L671.3 386L671.3 387L668.7 387L668.7 385L666 385L666 384L663.4 384L663.4 390L660.8 390L660.8 388L658.2 388L658.2 387L655.6 387L655.6 385L653 385L653 385L650.4 385L650.4 387L647.8 387L647.8 387L645.2 387L645.2 383L642.6 383L642.6 384L640 384L640 388L637.4 388L637.4 391L634.8 391L634.8 382L632.2 382L632.2 387L629.6 387L629.6 388L627 388L627 386L624.4 386L624.4 382L621.8 382L621.8 385L619.2 385L619.2 383L616.6 383L616.6 385L614 385L614 386L611.4 386L611.4 384L608.8 384L608.8 389L606.2 389L606.2 387L603.6 387L603.6 388L601 388L601 387L598.5 387L598.5 386L595.9 386L595.9 383L593.3 383L593.3 386L590.7 386L590.7 385L588.1 385L588.1 387L585.5 387L585.5 386L582.9 386L582.9 388L580.4 388L580.4 386L577.8 386L577.8 390L575.2 390L575.2 386L572.6 386L572.6 388L570 388L570 385L567.5 385L567.5 387L564.9 387L564.9 389L562.3 389Z" stroke="none"/>
<path d="M559.72 390L560.21 389L560.91 377L561.11 377L561.81 390L562.29 389L562.78 388L563.48 375L563.78 375L564.14 379L564.38 385L564.87 388L565.16 387L565.36 381L566.06 374L566.36 374L566.72 378L566.96 388L567.45 398L567.94 397L568.18 378L568.54 371L568.94 371L569.3 380L569.54 381L569.74 386L570.03 393L570.52 392L570.76 382L571.12 372L571.42 372L572.12 388L572.61 392L573.1 391L573.34 377L573.7 369L574.1 369L574.46 380L574.7 386L575.19 389L575.48 387L575.68 384L575.92 376L576.28 372L576.68 372L577.04 378L577.28 384L577.48 386L577.77 389L578.26 388L578.5 374L578.86 370L579.26 370L579.62 377L579.86 385L580.35 391L580.85 390L581.09 383L581.45 372L581.85 372L582.21 377L582.45 387L582.94 388L583.23 387L583.43 379L583.67 378L584.03 371L584.43 371L584.79 377L585.03 387L585.52 390L585.81 388L586.01 382L586.25 377L586.61 369L587.01 369L587.37 384L587.61 393L588.11 387L588.4 386L588.6 381L589.3 370L589.6 370L589.96 373L590.2 385L590.69 391L591.19 390L591.43 379L591.79 369L592.19 369L592.55 380L592.79 389L593.28 389L593.77 388L594.01 374L594.37 369L594.77 369L595.13 378L595.37 385L595.87 389L596.36 386L596.6 382L596.96 364L597.36 364L597.72 371L597.96 389L598.46 389L598.95 386L599.19 382L599.55 366L599.95 366L600.31 374L600.55 381L600.75 389L601.04 389L601.54 388L602.24 376L602.44 376L603.14 383L603.34 384L603.63 391L604.13 390L604.37 372L604.73 366L605.13 366L605.49 386L605.73 387L606.23 389L606.72 385L606.96 372L607.32 367L607.72 367L608.08 374L608.32 387L608.82 389L609.11 387L609.31 380L609.55 379L609.91 364L610.31 364L610.67 378L610.91 391L611.41 389L611.71 390L611.91 383L612.15 379L612.51 362L612.91 362L613.27 376L613.51 393L614 390L614.5 389L614.74 377L615.1 363L615.5 363L615.86 371L616.1 384L616.3 389L616.6 388L616.89 386L617.09 384L617.33 378L617.69 363L618.09 363L618.45 376L618.69 392L619.19 394L619.69 393L619.93 379L620.29 362L620.69 362L621.05 369L621.29 377L621.49 387L621.79 388L622.29 387L622.53 370L622.89 365L623.29 365L623.65 382L623.89 383L624.09 388L624.38 389L624.88 388L625.12 377L625.48 364L625.88 364L626.24 379L626.48 391L626.98 389L627.48 386L627.72 381L627.88 370L627.98 363L628.05 359L628.48 359L628.84 371L629.08 382L629.28 390L629.58 389L630.08 388L630.32 372L630.68 363L631.08 363L631.44 378L631.68 388L632.18 389L632.68 388L632.92 372L633.28 361L633.68 361L634.04 372L634.28 391L634.78 398L635.28 397L635.52 381L635.68 370L635.78 363L635.85 356L636.31 356L636.38 364L636.48 384L636.64 384L636.88 385L637.38 388L637.88 386L638.12 374L638.48 359L638.91 359L638.98 367L639.08 376L639.24 381L639.48 383L639.68 387L639.98 391L640.48 390L640.72 378L640.88 375L640.98 362L641.05 356L641.48 356L641.84 372L642.08 388L642.58 389L643.08 387L643.32 377L643.48 371L643.58 358L643.65 354L644.11 354L644.18 360L644.28 370L644.44 379L644.68 385L645.19 392L645.69 391L645.93 375L646.09 368L646.19 355L646.26 348L646.72 348L646.79 352L646.89 364L647.05 375L647.29 382L647.49 387L647.79 389L648.09 386L648.29 384L648.53 378L648.69 375L648.79 359L648.86 350L649.32 350L649.39 356L649.49 361L649.65 371L649.89 386L650.39 392L650.9 391L651.14 387L651.3 375L651.4 364L651.47 348L651.93 348L652 354L652.1 370L652.26 375L652.5 395L653 388L653.3 387L653.5 380L653.74 375L654.1 356L654.5 356L654.86 375L655.1 390L655.61 389L656.11 388L656.35 380L656.51 378L656.61 358L656.68 346L657.14 346L657.21 354L657.31 373L657.47 377L657.71 387L658.21 392L658.72 391L658.96 378L659.12 376L659.22 353L659.29 346L659.75 346L659.82 357L659.92 371L660.08 381L660.32 389L660.82 389L661.13 388L661.33 382L661.57 380L661.73 374L661.83 356L661.9 348L662.36 348L662.43 355L662.53 370L662.69 373L662.93 390L663.43 391L663.93 390L664.17 389L664.33 376L664.43 356L664.5 344L664.96 344L665.03 355L665.13 371L665.29 378L665.53 392L666.04 388L666.35 388L666.55 383L666.79 379L666.95 377L667.05 357L667.12 348L667.58 348L667.65 359L667.75 370L667.91 375L668.15 388L668.65 392L669.16 391L669.4 372L669.56 371L669.66 354L669.73 344L670.19 344L670.26 352L670.36 368L670.52 373L670.76 389L671.26 388L671.57 386L671.77 383L672.01 382L672.17 371L672.27 354L672.34 347L672.8 347L672.87 354L672.97 371L673.13 373L673.37 391L673.87 392L674.38 391L674.62 384L674.78 376L674.88 355L674.95 344L675.41 344L675.48 351L675.58 370L675.74 372L675.98 382L676.18 387L676.49 390L676.79 386L676.99 381L677.23 376L677.39 372L677.49 351L677.56 344L678.02 344L678.09 355L678.19 371L678.35 377L678.59 390L679.1 389L679.61 387L679.85 386L680.01 377L680.11 359L680.18 346L680.64 346L680.71 358L680.81 372L680.97 382L681.21 388L681.72 390L682.22 389L682.46 375L682.62 365L682.72 349L682.79 344L683.25 344L683.32 356L683.42 371L683.58 376L683.82 386L684.33 388L684.64 387L684.84 380L685.08 375L685.24 366L685.34 355L685.41 346L685.87 346L685.94 357L686.04 362L686.2 374L686.44 386L686.95 389L687.26 387L687.46 380L687.7 375L687.86 370L687.96 356L688.03 344L688.49 344L688.56 357L688.66 374L688.82 379L689.06 387L689.57 389L690.07 386L690.31 385L690.47 381L690.57 359L690.64 348L691.1 348L691.17 362L691.27 375L691.43 382L691.67 391L692.18 388L692.69 386L692.93 382L693.09 378L693.19 357L693.26 346L693.72 346L693.79 359L693.89 382L694.05 384L694.29 385L694.8 388L695.31 386L695.55 383L695.71 379L695.81 352L695.88 341L696.34 341L696.41 351L696.51 372L696.67 380L696.91 381L697.11 385L697.42 388L697.93 385L698.17 383L698.33 380L698.43 361L698.5 347L698.96 347L699.03 355L699.13 371L699.29 375L699.53 386L700.04 389L700.55 387L700.79 378L700.95 367L701.05 352L701.12 343L701.58 343L701.65 354L701.75 370L701.91 379L702.15 384L702.35 387L702.66 389L703.18 388L703.42 376L703.58 371L703.68 355L703.75 339L704.21 339L704.28 350L704.38 370L704.54 377L704.78 386L705.29 392L705.8 391L706.04 377L706.2 376L706.3 354L706.37 341L706.83 341L706.9 355L707 380L707.16 386L707.4 387L707.91 387L708.22 387L708.42 384L708.66 379L708.82 368L708.92 351L708.99 341L709.45 341L709.52 354L709.62 370L709.78 376L710.02 382L710.22 386L710.53 389L711.05 385L711.29 378L711.45 372L711.55 349L711.62 342L712.08 342L712.15 352L712.25 372L712.41 375L712.65 389L713.16 393L713.67 392L713.91 376L714.07 369L714.17 352L714.24 341L714.7 341L714.77 350L714.87 367L715.03 375L715.27 385L715.78 390L716.3 389L716.54 371L716.7 360L716.8 353L716.87 345L717.33 345L717.4 352L717.5 367L717.66 372L717.9 388L718.41 389L718.92 387L719.16 373L719.32 373L719.42 348L719.49 337L719.95 337L720.02 350L720.12 363L720.28 377L720.52 387L721.04 390L721.55 389L721.79 376L721.95 366L722.05 351L722.12 340L722.58 340L722.65 355L722.75 374L722.91 383L723.15 389L723.67 390L723.98 386L724.18 380L724.42 373L724.58 362L724.68 349L724.75 337L725.21 337L725.28 349L725.38 370L725.54 375L725.78 390L726.29 389L726.81 388L727.05 371L727.21 366L727.31 346L727.38 335L727.84 335L727.91 349L728.01 368L728.17 379L728.41 383L728.61 387L728.92 388L729.24 388L729.44 384L729.68 375L729.84 366L729.94 346L730.01 335L730.47 335L730.54 350L730.64 368L730.8 379L731.04 395L731.56 389L732.07 387L732.31 372L732.47 363L732.57 347L732.64 335L733.1 335L733.17 345L733.27 368L733.43 373L733.67 378L733.87 388L734.19 394L734.7 393L734.94 377L735.1 369L735.2 350L735.27 337L735.73 337L735.8 346L735.9 370L736.06 373L736.3 388L736.82 389L737.14 387L737.34 380L737.58 376L737.74 370L737.84 351L737.91 336L738.37 336L738.44 350L738.54 368L738.7 376L738.94 388L739.45 395L739.97 394L740.21 376L740.37 367L740.47 349L740.54 337L741 337L741.07 347L741.17 372L741.33 373L741.57 386L742.09 389L742.6 388L742.84 381L743 369L743.1 353L743.17 337L743.63 337L743.7 351L743.8 373L743.96 382L744.2 383L744.4 387L744.72 388L745.04 387L745.24 382L745.48 377L745.64 368L745.74 351L745.81 336L746.27 336L746.34 351L746.44 364L746.6 369L746.84 393L747.36 396L747.87 395L748.11 378L748.27 371L748.37 347L748.44 335L748.9 335L748.97 350L749.07 367L749.23 378L749.47 391L749.99 389L750.51 388L750.75 374L750.91 366L751.01 346L751.08 333L751.54 333L751.61 344L751.71 364L751.87 375L752.11 387L752.63 395L753.15 394L753.39 381L753.55 378L753.65 347L753.72 333L754.18 333L754.25 348L754.35 372L754.51 375L754.75 385L755.27 389L755.59 388L755.79 381L756.03 375L756.19 371L756.29 345L756.36 332L756.82 332L756.89 346L756.99 371L757.15 379L757.39 386L757.91 388L758.23 389L758.43 383L758.67 375L758.83 369L758.93 344L759 331L759.46 331L759.53 345L759.63 374L759.79 384L760.03 391L760.55 394L761.07 393L761.31 377L761.47 373L761.57 343L761.64 329L762.1 329L762.17 342L762.27 371L762.43 377L762.67 380L762.87 386L763.19 390L763.51 387L763.71 382L763.95 375L764.11 362L764.21 344L764.28 330L764.74 330L764.81 347L764.91 369L765.07 380L765.31 389L765.83 390L766.15 388L766.35 383L766.59 376L766.75 366L766.85 342L766.92 329L767.38 329L767.45 341L767.55 378L767.71 382L767.95 383L768.15 388L768.47 389L768.99 388L769.23 377L769.39 363L769.49 345L769.56 331L770.02 331L770.09 344L770.19 365L770.35 368L770.59 389L771.12 389L771.64 386L771.88 381L772.04 371L772.14 345L772.21 327L772.67 327L772.74 341L772.84 362L773 375L773.24 377L773.44 386L773.76 390L774.28 389L774.52 382L774.68 372L774.78 342L774.85 326L775.31 326L775.38 344L775.48 374L775.64 383L775.88 384L776.08 386L776.41 391L776.93 390L777.17 378L777.33 362L777.43 341L777.5 322L777.96 322L778.03 340L778.13 369L778.29 381L778.53 389L779.05 389L779.57 387L779.81 382L779.97 372L780.07 344L780.14 323L780.6 323L780.67 337L780.77 367L780.93 371L781.17 388L781.7 387L782.02 386L782.22 382L782.46 371L782.62 360L782.72 340L782.79 324L783.25 324L783.32 343L783.42 365L783.58 380L783.82 389L784.35 389L784.67 387L784.87 383L785.11 377L785.27 370L785.37 338L785.44 324L785.9 324L785.97 342L786.07 367L786.23 378L786.47 388L786.99 389L787.32 387L787.52 383L787.76 372L787.92 361L788.02 336L788.09 320L788.55 320L788.62 337L788.72 370L788.88 372L789.12 392L789.64 390L790.17 389L790.41 374L790.57 363L790.67 336L790.74 322L791.2 322L791.27 339L791.37 372L791.53 382L791.77 385L792.29 390L792.82 389L793.06 381L793.22 372L793.32 339L793.39 319L793.85 319L793.92 337L794.02 372L794.18 384L794.42 389L794.94 389L795.47 388L795.71 375L795.87 361L795.97 337L796.04 318L796.5 318L796.57 332L796.67 366L796.83 372L797.07 379L797.27 386L797.6 389L798.12 387L798.36 382L798.52 376L798.62 335L798.69 314L799.15 314L799.22 333L799.32 367L799.48 380L799.72 389L800.25 395L800.78 394L801.02 372L801.18 357L801.28 334L801.35 309L801.81 309L801.88 329L801.98 360L802.14 372L802.38 391L802.9 388L803.23 388L803.43 380L803.67 369L803.83 353L803.93 327L804 309L804.46 309L804.53 330L804.63 363L804.79 377L805.03 389L805.56 389L806.08 385L806.32 373L806.48 365L806.58 330L806.65 311L807.11 311L807.18 328L807.28 361L807.44 374L807.68 382L807.88 389L808.21 390L808.74 389L808.98 379L809.14 367L809.24 328L809.31 307L809.77 307L809.84 331L809.94 365L810.1 378L810.34 391L810.87 389L811.2 385L811.4 383L811.64 375L811.8 362L811.9 327L811.97 307L812.43 307L812.5 331L812.6 358L812.76 375L813 396L813.53 389L814.05 388L814.29 376L814.45 369L814.55 329L814.62 303L815.08 303L815.15 322L815.25 365L815.41 377L815.65 389L816.18 395L816.71 394L816.95 374L817.11 362L817.21 325L817.28 302L817.74 302L817.81 320L817.91 366L818.07 376L818.31 388L818.84 391L819.37 390L819.61 380L819.77 361L819.87 325L819.94 298L820.4 298L820.47 319L820.57 360L820.73 375L820.97 382L821.17 386L821.5 389L821.83 388L822.03 382L822.27 374L822.43 367L822.53 323L822.6 300L823.06 300L823.13 322L823.23 359L823.39 372L823.63 389L824.16 389L824.49 388L824.69 382L824.93 368L825.09 352L825.19 318L825.26 295L825.72 295L825.79 320L825.89 362L826.05 382L826.29 383L826.49 387L826.82 393L827.35 392L827.59 377L827.75 362L827.85 321L827.92 296L828.38 296L828.45 320L828.55 362L828.71 375L828.95 390L829.48 390L830.02 389L830.26 373L830.42 356L830.52 318L830.59 295L831.05 295L831.12 318L831.22 355L831.38 371L831.62 385L831.82 386L832.15 390L832.68 389L832.92 376L833.08 362L833.18 318L833.25 292L833.71 292L833.78 317L833.88 358L834.04 377L834.28 391L834.81 392L835.34 391L835.58 379L835.74 356L835.84 315L835.91 289L836.37 289L836.44 316L836.54 357L836.7 372L836.94 385L837.14 387L837.48 389L838.01 388L838.25 372L838.41 359L838.51 313L838.58 287L839.04 287L839.11 315L839.21 369L839.37 382L839.61 389L840.14 389L840.47 386L840.67 384L840.91 380L841.07 363L841.17 313L841.24 284L841.7 284L841.77 315L841.87 361L842.03 383L842.27 384L842.47 387L842.81 388L843.14 388L843.34 383L843.58 377L843.74 360L843.84 314L843.91 286L844.37 286L844.44 309L844.54 360L844.7 371L844.94 384L845.14 388L845.48 394L846.01 393L846.25 375L846.41 356L846.51 309L846.58 284L847.04 284L847.11 310L847.21 358L847.37 373L847.61 386L848.14 392L848.68 391L848.92 370L849.08 353L849.18 311L849.25 286L849.71 286L849.78 315L849.88 358L850.04 374L850.28 389L850.81 389L851.35 388L851.59 368L851.75 353L851.85 308L851.92 282L852.38 282L852.45 309L852.55 362L852.71 373L852.95 388L853.48 392L853.82 387L854.02 382L854.26 381L854.42 360L854.52 317L854.59 284L855.05 284L855.12 312L855.22 363L855.38 378L855.62 383L855.82 386L856.15 390L856.49 387L856.69 382L856.93 376L857.09 358L857.19 311L857.26 279L857.72 279L857.79 308L857.89 362L858.05 380L858.29 381L858.49 386L858.82 389L859.36 387L859.6 375L859.76 357L859.86 305L859.93 276L860.39 276L860.46 305L860.56 361L860.72 380L860.96 382L861.16 386L861.5 389L862.03 385L862.27 371L862.43 349L862.53 303L862.6 278L863.06 278L863.13 309L863.23 358L863.39 378L863.63 384L863.83 386L864.17 390L864.71 386L864.95 376L865.11 365L865.21 307L865.28 280L865.74 280L865.81 306L865.91 358L866.07 373L866.31 385L866.84 392L867.38 391L867.62 377L867.78 361L867.88 306L867.95 278L868.41 278L868.48 308L868.58 351L868.74 372L868.98 384L869.18 387L869.52 388L869.86 386L870.06 384L870.3 373L870.46 351L870.56 306L870.63 277L871.09 277L871.16 307L871.26 356L871.42 379L871.66 386L872.19 389L872.73 387L872.97 368L873.13 349L873.23 303L873.3 272L873.76 272L873.83 303L873.93 356L874.09 376L874.33 392L874.87 388L875.21 388L875.41 385L875.65 375L875.81 359L875.91 301L875.98 270L876.44 270L876.51 304L876.61 366L876.77 385L877.01 386L877.55 389L877.89 388L878.09 380L878.33 379L878.49 363L878.59 306L878.66 270L879.12 270L879.19 302L879.29 354L879.45 374L879.69 384L879.89 386L880.23 398L880.77 397L881.01 382L881.17 362L881.27 299L881.34 267L881.8 267L881.87 297L881.97 353L882.13 370L882.37 389L882.91 390L883.45 389L883.69 366L883.85 350L883.95 298L884.02 269L884.48 269L884.55 302L884.65 356L884.81 379L885.05 384L885.25 387L885.59 390L885.93 388L886.13 383L886.37 380L886.53 365L886.63 303L886.7 268L887.16 268L887.23 302L887.33 353L887.49 372L887.73 384L887.93 387L888.27 393L888.81 392L889.05 373L889.21 356L889.31 297L889.38 268L889.84 268L889.91 298L890.01 351L890.17 375L890.41 384L890.61 388L890.95 389L891.29 385L891.49 385L891.73 367L891.89 351L891.99 292L892.06 262L892.52 262L892.59 297L892.69 353L892.85 374L893.09 387L893.63 389L894.17 388L894.41 371L894.57 353L894.67 298L894.74 265L895.2 265L895.27 298L895.37 365L895.53 379L895.77 383L895.97 387L896.32 389L896.86 386L897.1 365L897.26 349L897.36 290L897.43 257L897.89 257L897.96 289L898.06 353L898.22 374L898.46 391L899 389L899.54 388L899.78 374L899.94 350L900.04 296L900.11 259L900.57 259L900.64 292L900.74 342L900.9 368L901.14 386L901.69 390L902.03 388L902.23 385L902.47 373L902.63 347L902.73 292L902.8 259L903.26 259L903.33 296L903.43 352L903.59 378L903.83 389L904.37 389L904.92 387L905.16 371L905.32 349L905.42 292L905.49 258L905.95 258L906.02 291L906.12 349L906.28 368L906.52 390L907.06 390L907.6 389L907.84 373L908 355L908.1 291L908.17 257L908.63 257L908.7 291L908.8 355L908.96 370L909.2 387L909.75 391L910.29 390L910.53 376L910.69 351L910.79 296L910.86 259L911.32 259L911.39 289L911.49 343L911.65 371L911.89 388L912.44 390L912.98 389L913.22 367L913.38 348L913.48 289L913.55 255L914.01 255L914.08 291L914.18 359L914.34 375L914.58 385L914.78 388L915.13 390L915.47 390L915.67 382L915.91 368L916.07 343L916.17 285L916.24 255L916.7 255L916.77 290L916.87 354L917.03 376L917.27 385L917.47 390L917.82 388L918.16 388L918.36 382L918.6 370L918.76 353L918.86 285L918.93 251L919.39 251L919.46 287L919.56 350L919.72 375L919.96 385L920.16 387L920.51 392L921.05 391L921.29 371L921.45 349L921.55 289L921.62 252L922.08 252L922.15 288L922.25 351L922.41 376L922.65 392L923.2 390L923.75 388L923.99 376L924.15 356L924.25 291L924.32 251L924.78 251L924.85 285L924.95 348L925.11 367L925.35 390L925.89 391L926.44 390L926.68 371L926.84 350L926.94 285L927.01 250L927.47 250L927.54 286L927.64 347L927.8 367L928.04 389L928.59 391L929.13 389L929.37 372L929.53 351L929.63 283L929.7 246L930.16 246L930.23 285L930.33 351L930.49 378L930.73 383L930.93 390L931.28 395L931.83 390L932.07 371L932.23 348L932.33 277L932.4 242L932.86 242L932.93 283L933.03 352L933.19 372L933.43 394L933.98 390L934.53 388L934.77 368L934.93 346L935.03 283L935.1 249L935.56 249L935.63 288L935.73 353L935.89 376L936.13 383L936.33 389L936.68 391L937.22 388L937.46 373L937.62 356L937.72 286L937.79 244L938.25 244L938.32 281L938.42 344L938.58 368L938.82 381L939.02 392L939.37 389L939.72 389L939.92 384L940.16 367L940.32 345L940.42 279L940.49 244L940.95 244L941.02 284L941.12 349L941.28 371L941.52 394L942.07 390L942.42 390L942.62 387L942.86 373L943.02 349L943.12 285L943.19 244L943.65 244L943.72 281L943.82 351L943.98 370L944.22 387L944.42 391L944.77 391L945.12 390L945.32 387L945.56 363L945.72 348L945.82 282L945.89 246L946.35 246L946.42 286L946.52 354L946.68 373L946.92 377L947.12 390L947.47 400L947.82 390L948.02 383L948.26 372L948.42 344L948.52 280L948.59 244L949.05 244L949.12 282L949.22 349L949.38 367L949.62 388L950.17 392L950.52 389L950.72 387L950.96 362L951.12 341L951.22 279L951.29 243L951.75 243L951.82 278L951.92 341L952.08 364L952.32 390L952.87 391L953.22 390L953.42 388L953.66 367L953.82 343L953.92 283L953.99 243L954.45 243L954.52 278L954.62 346L954.78 366L955.02 386L955.22 389L955.58 391L955.93 390L956.13 383L956.37 360L956.53 340L956.63 275L956.7 241L957.16 241L957.23 277L957.33 341L957.49 368L957.73 384L957.93 391L958.28 392L958.63 390L958.83 386L959.07 364L959.23 343L959.33 281L959.4 244L959.86 244L959.93 280L960.03 336L960.19 355L960.43 383L960.63 390L960.98 394L961.34 389L961.54 386L961.78 361L961.94 335L962.04 275L962.11 239L962.57 239L962.64 277L962.74 343L962.9 363L963.14 385L963.34 391L963.69 393L964.04 392L964.24 383L964.48 361L964.64 344L964.74 275L964.81 238L965.27 238L965.34 270L965.44 341L965.6 361L965.84 381L966.04 391L966.4 393L966.75 392L966.95 386L967.19 357L967.35 336L967.45 271L967.52 236L967.98 236L968.05 271L968.15 339L968.31 360L968.55 388L968.75 392L969.1 394L969.46 391L969.66 377L969.9 367L970.06 341L970.16 273L970.23 231L970.69 231L970.76 265L970.86 331L971.02 351L971.26 386L971.46 391L971.81 392L972.17 392L972.37 383L972.61 358L972.77 332L972.87 271L972.94 232L973.4 232L973.47 273L973.57 345L973.73 367L973.97 382L974.17 392L974.52 390L974.88 391L975.08 383L975.32 364L975.48 341L975.58 273L975.65 234L976.11 234L976.18 271L976.28 334L976.44 360L976.68 393L977.23 392L977.59 392L977.79 380L978.03 356L978.19 333L978.29 270L978.36 231L978.82 231L978.89 267L978.99 338L979.15 360L979.39 383L979.59 391L979.94 392L980.3 392L980.5 381L980.74 366L980.9 339L981 274L981.07 233L981.53 233L981.6 268L981.7 338L981.86 362L982.1 377L982.3 392L982.65 394L983.01 391L983.21 387L983.45 359L983.61 336L983.71 272L983.78 236L984.24 236L984.31 271L984.41 334L984.57 357L984.81 385L985.01 393L985.36 394L985.72 391L985.92 382L986.16 361L986.32 339L986.42 269L986.49 232L986.95 232L987.02 273L987.12 333L987.28 353L987.52 381L987.72 392L988.08 396L988.44 392L988.64 384L988.88 351L989.04 328L989.14 264L989.21 231L989.67 231L989.74 265L989.84 337L990 358L990.24 380L990.44 394L990.79 394L991.15 391L991.35 378L991.59 358L991.75 337L991.85 269L991.92 231L992.38 231L992.45 268L992.55 334L992.71 355L992.95 379L993.15 391L993.51 393L993.87 394L994.07 376L994.31 360L994.47 343L994.57 272L994.64 232L995.1 232L995.17 266L995.27 333L995.43 351L995.67 382L995.87 393L996.22 393L996.58 392L996.78 383L997.02 351L997.18 329L997.28 261L997.35 224L997.81 224L997.88 267L997.98 337L998.14 361L998.38 387L998.58 393L998.94 392L999.3 393L999.5 380L999.74 353L999.9 333L1000 263L1000.07 226L1000.53 226L1000.6 264L1000.7 334L1000.86 358L1001.1 382L1001.3 392L1001.66 391L1002.02 391L1002.22 382L1002.46 356L1002.62 335L1002.72 266L1002.79 228L1003.25 228L1003.32 264L1003.42 324L1003.58 345L1003.82 385L1004.02 393L1004.38 391L1004.74 391L1004.94 379L1005.18 359L1005.34 332L1005.44 266L1005.51 225L1005.97 225L1006.04 260L1006.14 325L1006.3 350L1006.54 385L1006.74 392L1007.1 394L1007.46 394L1007.66 374L1007.9 354L1008.06 329L1008.16 261L1008.23 223L1008.69 223L1008.76 259L1008.86 332L1009.02 348L1009.26 377L1009.46 391L1009.82 395L1010.18 390L1010.38 372L1010.62 341L1010.78 317L1010.88 257L1010.95 227L1011.41 227L1011.48 261L1011.58 328L1011.74 344L1011.98 385L1012.18 391L1012.54 391L1012.9 393L1013.1 379L1013.34 349L1013.5 326L1013.6 264L1013.67 223L1014.13 223L1014.2 261L1014.3 328L1014.46 350L1014.7 377L1014.9 392L1015.26 391L1015.62 390L1015.82 370L1016.06 349L1016.22 324L1016.32 264L1016.39 222L1016.85 222L1016.92 262L1017.02 325L1017.18 345L1017.42 375L1017.62 391L1017.98 393L1018.35 390L1018.55 375L1018.79 343L1018.95 317L1019.05 253L1019.12 213L1019.58 213L1019.65 254L1019.75 325L1019.91 353L1020.15 370L1020.35 391L1020.71 391L1021.07 391L1021.27 378L1021.51 344L1021.67 320L1021.77 256L1021.84 213L1022.3 213L1022.37 253L1022.47 317L1022.63 343L1022.87 374L1023.07 391L1023.43 392L1023.79 391L1023.99 375L1024.23 345L1024.39 318L1024.49 255L1024.56 217L1025.02 217L1025.09 254L1025.19 322L1025.35 344L1025.59 376L1025.79 392L1026.16 393L1026.52 390L1026.72 375L1026.96 343L1027.12 322L1027.22 255L1027.29 219L1027.75 219L1027.82 257L1027.92 326L1028.08 343L1028.32 380L1028.52 390L1028.88 388L1029.25 389L1029.45 373L1029.69 340L1029.85 317L1029.95 255L1030.02 218L1030.48 218L1030.55 256L1030.65 321L1030.81 341L1031.05 375L1031.25 387L1031.61 392L1031.98 388L1032.18 367L1032.42 337L1032.58 314L1032.68 254L1032.75 217L1033.21 217L1033.28 256L1033.38 318L1033.54 343L1033.78 366L1033.98 389L1034.34 391L1034.7 390L1034.9 372L1035.14 343L1035.3 320L1035.4 254L1035.47 216L1035.93 216L1036 255L1036.1 315L1036.26 339L1036.5 371L1036.7 389L1037.07 394L1037.43 389L1037.63 366L1037.87 343L1038.03 319L1038.13 259L1038.2 222L1038.66 222L1038.73 257L1038.83 325L1038.99 340L1039.23 368L1039.43 390L1039.8 392L1040.17 388L1040.37 365L1040.61 337L1040.77 310L1040.87 250L1040.94 214L1041.4 214L1041.47 249L1041.57 321L1041.73 344L1041.97 377L1042.17 388L1042.53 393L1042.9 390L1043.1 365L1043.34 344L1043.5 323L1043.6 255L1043.67 215L1044.13 215L1044.2 254L1044.3 322L1044.46 340L1044.7 363L1044.9 390L1045.26 390L1045.63 389L1045.83 365L1046.07 331L1046.23 312L1046.33 251L1046.4 214L1046.86 214L1046.93 253L1047.03 313L1047.19 341L1047.43 376L1047.63 388L1048 390L1048.36 388L1048.56 370L1048.8 340L1048.96 314L1049.06 247L1049.13 209L1049.59 209L1049.66 247L1049.76 309L1049.92 338L1050.16 368L1050.36 387L1050.73 388L1051.1 388L1051.3 371L1051.54 336L1051.7 319L1051.8 244L1051.87 207L1052.33 207L1052.4 249L1052.5 320L1052.66 342L1052.9 373L1053.1 387L1053.46 388L1053.83 386L1054.03 368L1054.27 337L1054.43 316L1054.53 248L1054.6 212L1055.06 212L1055.13 250L1055.23 315L1055.39 337L1055.63 369L1055.83 386L1056.2 388L1056.57 388L1056.77 364L1057.01 344L1057.17 321L1057.27 253L1057.34 210L1057.8 210L1057.87 250L1057.97 310L1058.13 329L1058.37 365L1058.57 387L1058.94 388L1059.3 388L1059.5 364L1059.74 333L1059.9 314L1060 245L1060.07 207L1060.53 207L1060.6 247L1060.7 318L1060.86 342L1061.1 370L1061.3 387L1061.67 389L1062.04 387L1062.24 375L1062.48 331L1062.64 308L1062.74 240L1062.81 207L1063.27 207L1063.34 243L1063.44 307L1063.6 333L1063.84 366L1064.04 387L1064.41 386L1064.78 388L1064.98 367L1065.22 330L1065.38 312L1065.48 245L1065.55 205L1066.01 205L1066.08 243L1066.18 314L1066.34 333L1066.58 368L1066.78 387L1067.15 391L1067.52 386L1067.72 364L1067.96 338L1068.12 310L1068.22 243L1068.29 202L1068.75 202L1068.82 242L1068.92 299L1069.08 323L1069.32 373L1069.52 387L1069.89 385L1070.26 386L1070.46 353L1070.7 335L1070.86 311L1070.96 240L1071.03 200L1071.49 200L1071.56 238L1071.66 317L1071.82 334L1072.06 365L1072.26 385L1072.63 387L1073 385L1073.2 364L1073.44 328L1073.6 303L1073.7 237L1073.77 199L1074.23 199L1074.3 236L1074.4 307L1074.56 330L1074.8 360L1075 386L1075.37 388L1075.74 385L1075.94 360L1076.18 327L1076.34 302L1076.44 239L1076.51 201L1076.97 201L1077.04 240L1077.14 301L1077.3 329L1077.54 353L1077.74 387L1078.12 388L1078.49 386L1078.69 363L1078.93 330L1079.09 309L1079.19 238L1079.26 198L1079.72 198L1079.79 235L1079.89 301L1080.05 323L1080.29 364L1080.49 386L1080.86 386L1081.23 385L1081.43 357L1081.67 325L1081.83 301L1081.93 241L1082 203L1082.46 203L1082.53 243L1082.63 306L1082.79 327L1083.03 361L1083.23 385L1083.6 390L1083.98 386L1084.18 358L1084.42 327L1084.58 303L1084.68 234L1084.75 198L1085.21 198L1085.28 238L1085.38 303L1085.54 327L1085.78 362L1085.98 382L1086.35 387L1086.72 384L1086.92 356L1087.16 325L1087.32 302L1087.42 236L1087.49 199L1087.95 199L1088.02 235L1088.12 300L1088.28 321L1088.52 360L1088.72 385L1089.1 381L1089.47 383L1089.67 357L1089.91 320L1090.07 298L1090.17 231L1090.24 197L1090.7 197L1090.77 235L1090.87 302L1091.03 321L1091.27 356L1091.47 384L1091.84 385L1092.22 384L1092.42 365L1092.66 323L1092.82 297L1092.92 233L1092.99 195L1093.45 195L1093.52 229L1093.62 299L1093.78 321L1094.02 359L1094.22 385L1094.59 385L1094.96 383L1095.16 357L1095.4 325L1095.56 301L1095.66 237L1095.73 193L1096.19 193L1096.26 231L1096.36 295L1096.52 322L1096.76 350L1096.96 383L1097.34 387L1097.71 384L1097.91 362L1098.15 317L1098.31 296L1098.41 227L1098.48 189L1098.94 189L1099.01 228L1099.11 300L1099.27 321L1099.51 352L1099.71 384L1100.09 385L1100.46 383L1100.66 349L1100.9 320L1101.06 294L1101.16 230L1101.23 188L1101.69 188L1101.76 228L1101.86 301L1102.02 321L1102.26 349L1102.46 383L1102.84 389L1103.22 383L1103.42 355L1103.66 324L1103.82 301L1103.92 229L1103.99 190L1104.45 190L1104.52 230L1104.62 299L1104.78 322L1105.02 355L1105.22 384L1105.59 387L1105.97 383L1106.17 355L1106.41 324L1106.57 302L1106.67 225L1106.74 188L1107.2 188L1107.27 229L1107.37 299L1107.53 324L1107.77 345L1107.97 383L1108.34 385L1108.72 382L1108.92 356L1109.16 312L1109.32 288L1109.42 219L1109.49 183L1109.95 183L1110.02 223L1110.12 294L1110.28 321L1110.52 350L1110.72 382L1111.1 383L1111.47 383L1111.67 348L1111.91 317L1112.07 294L1112.17 226L1112.24 185L1112.7 185L1112.77 228L1112.87 298L1113.03 317L1113.27 356L1113.47 380L1113.85 381L1114.23 381L1114.43 344L1114.67 314L1114.83 294L1114.93 223L1115 182L1115.46 182L1115.53 220L1115.63 293L1115.79 315L1116.03 349L1116.23 383L1116.61 384L1116.99 381L1117.19 354L1117.43 318L1117.59 298L1117.69 227L1117.76 183L1118.22 183L1118.29 224L1118.39 298L1118.55 323L1118.79 356L1118.99 382L1119.36 382L1119.74 380L1119.94 358L1120.18 317L1120.34 290L1120.44 228L1120.51 183L1120.97 183L1121.04 223L1121.14 297L1121.3 322L1121.54 358L1121.74 381L1122.12 383L1122.5 380L1122.7 351L1122.94 315L1123.1 292L1123.2 220L1123.27 183L1123.73 183L1123.8 219L1123.9 284L1124.06 314L1124.3 347L1124.5 379L1124.88 381L1125.26 382L1125.46 347L1125.7 318L1125.86 294L1125.96 225L1126.03 184L1126.49 184L1126.56 225L1126.66 297L1126.82 319L1127.06 349L1127.26 379L1127.64 382L1128.02 379L1128.22 345L1128.46 311L1128.62 295L1128.72 221L1128.79 180L1129.25 180L1129.32 220L1129.42 287L1129.58 315L1129.82 349L1130.02 379L1130.4 380L1130.78 378L1130.98 347L1131.22 321L1131.38 297L1131.48 224L1131.55 184L1132.01 184L1132.08 224L1132.18 287L1132.34 314L1132.58 345L1132.78 378L1133.16 378L1133.54 378L1133.74 344L1133.98 318L1134.14 291L1134.24 219L1134.31 177L1134.77 177L1134.84 218L1134.94 292L1135.1 314L1135.34 342L1135.54 376L1135.92 380L1136.3 379L1136.5 343L1136.74 317L1136.9 293L1137 221L1137.07 181L1137.53 181L1137.6 217L1137.7 284L1137.86 308L1138.1 340L1138.3 377L1138.68 382L1139.06 379L1139.26 347L1139.5 308L1139.66 280L1139.76 215L1139.83 176L1140.29 176L1140.36 212L1140.46 281L1140.62 303L1140.86 339L1141.06 378L1141.45 381L1141.83 378L1142.03 341L1142.27 314L1142.43 296L1142.53 223L1142.6 181L1143.06 181L1143.13 217L1143.23 281L1143.39 301L1143.63 341L1143.83 378L1144.21 379L1144.59 377L1144.79 339L1145.03 309L1145.19 284L1145.29 212L1145.36 173L1145.82 173L1145.89 212L1145.99 286L1146.15 307L1146.39 350L1146.59 377L1146.97 378L1147.36 375L1147.56 339L1147.8 313L1147.96 288L1148.06 218L1148.13 175L1148.59 175L1148.66 218L1148.76 290L1148.92 313L1149.16 340L1149.36 377L1149.74 377L1150.12 378L1150.32 346L1150.56 307L1150.72 282L1150.82 212L1150.89 172L1151.35 172L1151.42 214L1151.52 286L1151.68 313L1151.92 344L1152.12 376L1152.51 379L1152.89 376L1153.09 341L1153.33 304L1153.49 284L1153.59 209L1153.66 171L1154.12 171L1154.19 212L1154.29 281L1154.45 309L1154.69 338L1154.89 377L1155.28 374L1155.66 376L1155.86 341L1156.1 305L1156.26 285L1156.36 213L1156.43 172L1156.89 172L1156.96 209L1157.06 282L1157.22 303L1157.46 334L1157.66 376L1158.04 375L1158.43 376L1158.63 334L1158.87 309L1159.03 285L1159.13 210L1159.2 169L1159.66 169L1159.73 210L1159.83 275L1159.99 308L1160.23 345L1160.43 375L1160.81 379L1161.2 375L1161.4 332L1161.64 311L1161.8 289L1161.9 214L1161.97 170L1162.43 170L1162.5 212L1162.6 282L1162.76 308L1163 343L1163.2 375L1163.59 376L1163.97 374L1164.17 331L1164.41 305L1164.57 287L1164.67 212L1164.74 172L1165.2 172L1165.27 213L1165.37 282L1165.53 306L1165.77 336L1165.97 374L1166.36 374L1166.74 375L1166.94 334L1167.18 309L1167.34 287L1167.44 209L1167.51 170L1167.97 170L1168.04 211L1168.14 278L1168.3 301L1168.54 345L1168.74 374L1169.13 382L1169.52 374L1169.72 345L1169.96 307L1170.12 284L1170.22 214L1170.29 172L1170.75 172L1170.82 207L1170.92 274L1171.08 294L1171.32 335L1171.52 371L1171.9 374L1172.29 374L1172.49 330L1172.73 302L1172.89 278L1172.99 208L1173.06 168L1173.52 168L1173.59 206L1173.69 279L1173.85 299L1174.09 336L1174.29 375L1174.68 375L1175.06 373L1175.26 334L1175.5 297L1175.66 271L1175.76 207L1175.83 172L1176.29 172L1176.36 211L1176.46 288L1176.62 307L1176.86 334L1177.06 373L1177.45 371L1177.84 374L1178.04 336L1178.28 303L1178.44 279L1178.54 215L1178.61 175L1179.07 175L1179.14 217L1179.24 280L1179.4 303L1179.64 328L1179.84 373L1180.23 370L1180.62 372L1180.82 331L1181.06 302L1181.22 280L1181.32 206L1181.39 165L1181.85 165L1181.92 205L1182.02 273L1182.18 300L1182.42 331L1182.62 369L1183.01 372L1183.39 371L1183.59 329L1183.83 299L1183.99 275L1184.09 205L1184.16 165L1184.62 165L1184.69 203L1184.79 276L1184.95 303L1185.19 331L1185.39 371L1185.78 373L1186.17 372L1186.37 327L1186.61 296L1186.77 271L1186.87 202L1186.94 164L1187.4 164L1187.47 200L1187.57 274L1187.73 302L1187.97 334L1188.17 371L1188.56 373L1188.95 371L1189.15 321L1189.39 301L1189.55 280L1189.65 205L1189.72 166L1190.18 166L1190.25 207L1190.35 275L1190.51 302L1190.75 327L1190.95 371L1191.34 371L1191.73 370L1191.93 333L1192.17 302L1192.33 269L1192.43 207L1192.5 165L1192.96 165L1193.03 205L1193.13 280L1193.29 303L1193.53 330L1193.73 371L1194.12 374L1194.51 370L1194.71 332L1194.95 303L1195.11 278L1195.21 205L1195.28 164L1195.74 164L1195.81 205L1195.91 271L1196.07 292L1196.31 333L1196.51 369L1196.9 371L1197.3 368L1197.5 327L1197.74 301L1197.9 278L1198 204L1198.07 164L1198.53 164L1198.6 203L1198.7 277L1198.86 296L1199.1 326L1199.3 367L1199.69 379L1200.08 368L1200.28 331L1200.52 298L1200.68 275L1200.78 206L1200.85 164L1201.31 164L1201.38 206L1201.48 271L1201.64 297L1201.88 331L1202.08 368L1202.47 370L1202.86 369L1203.06 324L1203.3 300L1203.46 275L1203.56 204L1203.63 160L1204.09 160L1204.16 201L1204.26 270L1204.42 301L1204.66 322L1204.86 370L1205.25 373L1205.65 366L1205.85 329L1206.09 293L1206.25 268L1206.35 199L1206.42 160L1206.88 160L1206.95 200L1207.05 269L1207.21 291L1207.45 327L1207.65 366L1208.04 369L1208.43 366L1208.63 327L1208.87 295L1209.03 275L1209.13 199L1209.2 160L1209.66 160L1209.73 197L1209.83 269L1209.99 293L1210.23 328L1210.43 365L1210.83 367L1211.22 367L1211.42 316L1211.66 295L1211.82 269L1211.92 201L1211.99 158L1212.45 158L1212.52 197L1212.62 267L1212.78 293L1213.02 322L1213.22 364L1213.61 365L1214.01 365L1214.21 315L1214.45 294L1214.61 268L1214.71 199L1214.78 159L1215.24 159L1215.31 202L1215.41 267L1215.57 292L1215.81 323L1216.01 365L1216.4 365L1216.8 363L1217 325L1217.24 296L1217.4 276L1217.5 197L1217.57 156L1218.03 156L1218.1 195L1218.2 266L1218.36 289L1218.6 323L1218.8 364L1219.19 362L1219.58 363L1219.78 319L1220.02 291L1220.18 266L1220.28 200L1220.35 160L1220.81 160L1220.88 200L1220.98 277L1221.14 298L1221.38 317L1221.58 362L1221.98 366L1222.37 362L1222.57 322L1222.81 287L1222.97 265L1223.07 195L1223.14 155L1223.6 155L1223.67 196L1223.77 273L1223.93 295L1224.17 323L1224.37 362L1224.77 366L1225.17 362L1225.37 317L1225.61 286L1225.77 262L1225.87 192L1225.94 156L1226.4 156L1226.47 194L1226.57 269L1226.73 295L1226.97 322L1227.17 362L1227.56 362L1227.96 361L1228.16 317L1228.4 287L1228.56 262L1228.66 197L1228.73 153L1229.19 153L1229.26 199L1229.36 268L1229.52 298L1229.76 316L1229.96 361L1230.35 360L1230.75 361L1230.95 316L1231.19 287L1231.35 264L1231.45 192L1231.52 151L1231.98 151L1232.05 190L1232.15 267L1232.31 288L1232.55 320L1232.75 361L1233.15 362L1233.55 360L1233.75 320L1233.99 283L1234.15 257L1234.25 189L1234.32 151L1234.78 151L1234.85 193L1234.95 262L1235.11 287L1235.35 319L1235.55 358L1235.94 363L1236.34 360L1236.54 308L1236.78 287L1236.94 258L1237.04 191L1237.11 148L1237.57 148L1237.64 189L1237.74 258L1237.9 289L1238.14 320L1238.34 358L1238.74 363L1239.14 360L1239.34 311L1239.58 287L1239.74 263L1239.84 191L1239.91 150L1240.37 150L1240.44 187L1240.54 261L1240.7 283L1240.94 314L1241.14 360L1241.53 359L1241.93 360L1242.13 316L1242.37 280L1242.53 265L1242.63 188L1242.7 147L1243.16 147L1243.23 190L1243.33 262L1243.49 289L1243.73 307L1243.93 359L1244.33 359L1244.73 356L1244.93 315L1245.17 284L1245.33 262L1245.43 189L1245.5 145L1245.96 145L1246.03 189L1246.13 259L1246.29 287L1246.53 312L1246.73 356L1247.13 357L1247.53 355L1247.73 311L1247.97 290L1248.13 269L1248.23 188L1248.3 148L1248.76 148L1248.83 192L1248.93 265L1249.09 287L1249.33 316L1249.53 356L1249.93 358L1250.33 357L1250.53 311L1250.77 284L1250.93 266L1251.03 187L1251.1 147L1251.56 147L1251.63 189L1251.73 263L1251.89 286L1252.13 314L1252.33 355L1252.73 357L1253.13 355L1253.33 312L1253.57 278L1253.73 254L1253.83 185L1253.9 143L1254.36 143L1254.43 183L1254.53 250L1254.69 278L1254.93 311L1255.13 354L1255.53 357L1255.93 354L1256.13 314L1256.37 283L1256.53 259L1256.63 184L1256.7 143L1257.16 143L1257.23 182L1257.33 260L1257.49 286L1257.73 307L1257.93 352L1258.33 357L1258.73 354L1258.93 304L1259.17 285L1259.33 255L1259.43 186L1259.5 143L1259.96 143L1260.03 184L1260.13 259L1260.29 286L1260.53 308L1260.73 352L1261.13 353L1261.54 352L1261.74 310L1261.98 282L1262.14 255L1262.24 187L1262.31 141L1262.77 141L1262.84 184L1262.94 257L1263.1 279L1263.34 310L1263.54 352L1263.94 352L1264.34 352L1264.54 305L1264.78 278L1264.94 253L1265.04 173L1265.11 138L1265.57 138L1265.64 182L1265.74 255L1265.9 283L1266.14 302L1266.34 351L1266.74 351L1267.15 351L1267.35 305L1267.59 277L1267.75 252L1267.85 185L1267.92 141L1268.38 141L1268.45 181L1268.55 254L1268.71 280L1268.95 306L1269.15 352L1269.55 356L1269.95 351L1270.15 301L1270.39 274L1270.55 247L1270.65 185L1270.72 143L1271.18 143L1271.25 185L1271.35 256L1271.51 273L1271.75 310L1271.95 350L1272.35 350L1272.76 350L1272.96 300L1273.2 277L1273.36 252L1273.46 179L1273.53 138L1273.99 138L1274.06 182L1274.16 257L1274.32 280L1274.56 311L1274.76 351L1275.16 352L1275.57 350L1275.77 311L1276.01 267L1276.17 239L1276.27 176L1276.34 136L1276.8 136L1276.87 184L1276.97 254L1277.13 280L1277.37 307L1277.57 349L1277.97 349L1278.37 348L1278.57 298L1278.81 272L1278.97 255L1279.07 180L1279.14 139L1279.6 139L1279.67 178L1279.77 246L1279.93 271L1280.17 304L1280.37 348L1280.78 352L1281.18 348L1281.38 307L1281.62 273L1281.78 255L1281.88 175L1281.95 138L1282.41 138L1282.48 179L1282.58 242L1282.74 268L1282.98 305L1283.18 346L1283.59 344L1283.99 347L1284.19 303L1284.43 275L1284.59 240L1284.69 180L1284.76 133L1285.22 133L1285.29 175L1285.39 247L1285.55 269L1285.79 294L1285.99 345L1286.4 350L1286.81 346L1287.01 299L1287.25 268L1287.41 241L1287.51 175L1287.58 131L1288.04 131L1288.11 175L1288.21 244L1288.37 269L1288.61 300L1288.81 347L1289.21 344L1289.62 344L1289.82 297L1290.06 266L1290.22 244L1290.32 168L1290.39 128L1290.85 128L1290.92 169L1291.02 244L1291.18 274L1291.42 307L1291.62 346L1292.03 343L1292.43 345L1292.63 296L1292.87 271L1293.03 249L1293.13 172L1293.2 129L1293.66 129L1293.73 174L1293.83 245L1293.99 270L1294.23 302L1294.43 344L1294.84 343L1295.25 342L1295.45 293L1295.69 266L1295.85 237L1295.95 169L1296.02 127L1296.48 127L1296.55 173L1296.65 244L1296.81 268L1297.05 296L1297.25 343L1297.65 345L1298.06 342L1298.26 295L1298.5 272L1298.66 244L1298.76 167L1298.83 127L1299.29 127L1299.36 169L1299.46 242L1299.62 269L1299.86 295L1300.06 342L1300.47 346L1300.88 341L1301.08 289L1301.32 264L1301.48 241L1301.58 166L1301.65 126L1302.11 126L1302.18 167L1302.28 239L1302.44 265L1302.68 288L1302.88 342L1303.29 344L1303.7 343L1303.9 298L1304.14 269L1304.3 246L1304.4 168L1304.47 123L1304.93 123L1305 166L1305.1 232L1305.26 262L1305.5 294L1305.7 342L1306.1 342L1306.51 339L1306.71 295L1306.95 263L1307.11 239L1307.21 163L1307.28 127L1307.74 127L1307.81 169L1307.91 233L1308.07 259L1308.31 286L1308.51 338L1308.92 341L1309.33 338L1309.53 291L1309.77 256L1309.93 232L1310.03 168L1310.1 125L1310.56 125L1310.63 169L1310.73 244L1310.89 262L1311.13 288L1311.33 338L1311.74 340L1312.15 338L1312.35 291L1312.59 258L1312.75 236L1312.85 160L1312.92 118L1313.38 118L1313.45 162L1313.55 237L1313.71 261L1313.95 292L1314.15 336L1314.56 339L1314.97 337L1315.17 291L1315.41 262L1315.57 237L1315.67 158L1315.74 119L1316.2 119L1316.27 164L1316.37 239L1316.53 263L1316.77 292L1316.97 337L1317.38 340L1317.8 336L1318 294L1318.24 260L1318.4 237L1318.5 160L1318.57 117L1319.03 117L1319.1 159L1319.2 239L1319.36 264L1319.6 291L1319.8 336L1320.21 338L1320.62 335L1320.82 289L1321.06 260L1321.22 234L1321.32 158L1321.39 115L1321.85 115L1321.92 160L1322.02 229L1322.18 258L1322.42 289L1322.62 335L1323.03 337L1323.44 337L1323.64 287L1323.88 259L1324.04 234L1324.14 161L1324.21 120L1324.67 120L1324.74 158L1324.84 227L1325 249L1325.24 293L1325.44 336L1325.85 338L1326.27 337L1326.47 295L1326.71 248L1326.87 222L1326.97 153L1327.04 112L1327.5 112L1327.57 154L1327.67 220L1327.83 250L1328.07 282L1328.27 335L1328.68 334L1329.09 332L1329.29 277L1329.53 248L1329.69 221L1329.79 155L1329.86 115L1330.32 115L1330.39 157L1330.49 231L1330.65 248L1330.89 283L1331.09 334L1331.51 337L1331.92 333L1332.12 286L1332.36 242L1332.52 216L1332.62 151L1332.69 112L1333.15 112L1333.22 151L1333.32 223L1333.48 249L1333.72 285L1333.92 334L1334.33 336L1334.75 333L1334.95 284L1335.19 246L1335.35 218L1335.45 150L1335.52 110L1335.98 110L1336.05 148L1336.15 229L1336.31 253L1336.55 289L1336.75 331L1337.16 334L1337.57 332L1337.77 283L1338.01 245L1338.17 221L1338.27 152L1338.34 111L1338.8 111L1338.87 154L1338.97 217L1339.13 243L1339.37 288L1339.57 333L1339.99 331L1340.4 333L1340.6 291L1340.84 247L1341 223L1341.1 148L1341.17 109L1341.63 109L1341.7 150L1341.8 219L1341.96 244L1342.2 285L1342.4 332L1342.82 333L1343.23 333L1343.43 283L1343.67 250L1343.83 222L1343.93 151L1344 109L1344.46 109L1344.53 151L1344.63 223L1344.79 245L1345.03 281L1345.23 334L1345.65 335L1346.07 334L1346.27 279L1346.51 245L1346.67 220L1346.77 151L1346.84 111L1347.3 111L1347.37 150L1347.47 221L1347.63 247L1347.87 294L1348.07 335L1348.48 333L1348.9 336L1349.1 277L1349.34 248L1349.5 234L1349.6 156L1349.67 114L1350.13 114L1350.2 155L1350.3 225L1350.46 250L1350.7 291L1350.9 335L1351.31 338L1351.73 336L1351.93 284L1352.17 254L1352.33 231L1352.43 160L1352.5 120L1352.96 120L1353.03 155L1353.13 227L1353.29 252L1353.53 280L1353.73 338L1354.15 338L1354.56 336L1354.76 283L1355 251L1355.16 224L1355.26 157L1355.33 117L1355.79 117L1355.86 157L1355.96 224L1356.12 253L1356.36 291L1356.56 337L1356.98 338L1357.4 338L1357.6 285L1357.84 251L1358 229L1358.1 156L1358.17 119L1358.63 119L1358.7 158L1358.8 227L1358.96 253L1359.2 282L1359.4 340L1359.82 340L1360.24 339L1360.44 291L1360.68 252L1360.84 228L1360.94 161L1361.01 121L1361.47 121L1361.54 165L1361.64 223L1361.8 250L1362.04 290L1362.24 340L1362.65 341L1363.07 341L1363.27 295L1363.51 263L1363.67 237L1363.77 165L1363.84 119L1364.3 119L1364.37 163L1364.47 231L1364.63 257L1364.87 289L1365.07 340L1365.49 342L1365.91 340L1366.11 290L1366.35 258L1366.51 235L1366.61 166L1366.68 122L1367.14 122L1367.21 164L1367.31 227L1367.47 249L1367.71 288L1367.91 341L1368.33 344L1368.75 342L1368.95 292L1369.19 255L1369.35 232L1369.45 160L1369.52 122L1369.98 122L1370.05 165L1370.15 236L1370.31 261L1370.55 290L1370.75 341L1371.17 342L1371.59 342L1371.79 292L1372.03 258L1372.19 240L1372.29 169L1372.36 128L1372.82 128L1372.89 165L1372.99 236L1373.15 259L1373.39 282L1373.59 343L1374.01 344L1374.43 344L1374.63 293L1374.87 253L1375.03 232L1375.13 163L1375.2 124L1375.66 124L1375.73 166L1375.83 232L1375.99 261L1376.23 287L1376.43 345L1376.85 348L1377.27 344L1377.47 289L1377.71 262L1377.87 236L1377.97 166L1378.04 125L1378.5 125L1378.57 166L1378.67 239L1378.83 261L1379.07 297L1379.27 344L1379.69 348L1380.11 344L1380.31 296L1380.55 260L1380.71 232L1380.81 168L1380.88 125L1381.34 125L1381.41 164L1381.51 238L1381.67 258L1381.91 295L1382.11 344L1382.53 348L1382.96 344L1383.16 295L1383.4 258L1383.56 235L1383.66 170L1383.73 132L1384.19 132L1384.26 171L1384.36 233L1384.52 257L1384.76 306L1384.96 347L1385.38 349L1385.8 347L1386 300L1386.24 259L1386.4 238L1386.5 173L1386.57 132L1387.03 132L1387.1 177L1387.2 251L1387.36 277L1387.6 286L1387.8 348L1388.22 348L1388.65 347L1388.85 299L1389.09 265L1389.25 244L1389.35 170L1389.42 130L1389.88 130L1389.95 173L1390.05 245L1390.21 272L1390.45 299L1390.65 349L1391.07 352L1391.49 346L1391.69 299L1391.93 261L1392.09 236L1392.19 168L1392.26 130L1392.72 130L1392.79 169L1392.89 236L1393.05 260L1393.29 292L1393.49 349L1393.92 348L1394.34 347L1394.54 294L1394.78 262L1394.94 245L1395.04 174L1395.11 136L1395.57 136L1395.64 172L1395.74 239L1395.9 259L1396.14 298L1396.34 349L1396.76 350L1397.19 348L1397.39 298L1397.63 266L1397.79 242L1397.89 176L1397.96 137L1398.42 137L1398.49 176L1398.59 249L1398.75 273L1398.99 301L1399.19 348L1399.61 349L1400.04 350L1400.24 302L1400.48 274L1400.64 246L1400.74 174L1400.81 132L1401.27 132L1401.34 173L1401.44 243L1401.6 267L1401.84 297L1402.04 351L1402.46 350L1402.89 349L1403.09 306L1403.33 274L1403.49 250L1403.59 172L1403.66 131L1404.12 131L1404.19 172L1404.29 240L1404.45 263L1404.69 293L1404.89 349L1405.31 347L1405.74 351L1405.94 301L1406.18 270L1406.34 245L1406.44 178L1406.51 137L1406.97 137L1407.04 175L1407.14 241L1407.3 272L1407.54 299L1407.74 350L1408.16 349L1408.59 349L1408.79 302L1409.03 267L1409.19 242L1409.29 171L1409.36 131L1409.82 131L1409.89 170L1409.99 243L1410.15 269L1410.39 308L1410.59 350L1411.02 349L1411.44 352L1411.64 296L1411.88 281L1412.04 255L1412.14 173L1412.21 130L1412.67 130L1412.74 170L1412.84 237L1413 261L1413.24 307L1413.44 351L1413.87 352L1414.3 353L1414.5 304L1414.74 271L1414.9 243L1415 175L1415.07 133L1415.53 133L1415.6 174L1415.7 251L1415.86 270L1416.1 308L1416.3 354L1416.72 355L1417.15 354L1417.35 310L1417.59 270L1417.75 242L1417.85 174L1417.92 136L1418.38 136L1418.45 175L1418.55 252L1418.71 271L1418.95 304L1419.15 354L1419.58 354L1420.01 354L1420.21 303L1420.45 266L1420.61 239L1420.71 173L1420.78 136L1421.24 136L1421.31 176L1421.41 246L1421.57 274L1421.81 300L1422.01 355L1422.44 352L1422.86 353L1423.06 305L1423.3 275L1423.46 258L1423.56 181L1423.63 136L1424.09 136L1424.16 175L1424.26 248L1424.42 276L1424.66 300L1424.86 355L1425.29 360L1425.72 355L1425.92 303L1426.16 276L1426.32 247L1426.42 175L1426.49 135L1426.95 135L1427.02 180L1427.12 250L1427.28 278L1427.52 304L1427.72 354L1428.15 357L1428.58 355L1428.78 309L1429.02 280L1429.18 256L1429.28 182L1429.35 137L1429.81 137L1429.88 181L1429.98 249L1430.14 275L1430.38 305L1430.58 355L1431.01 357L1431.44 354L1431.64 315L1431.88 274L1432.04 256L1432.14 182L1432.21 143L1432.67 143L1432.74 180L1432.84 250L1433 275L1433.24 305L1433.44 356L1433.87 362L1434.3 358L1434.5 310L1434.74 276L1434.9 246L1435 177L1435.07 137L1435.53 137L1435.6 179L1435.7 255L1435.86 281L1436.1 315L1436.3 357L1436.73 365L1437.16 358L1437.36 307L1437.6 271L1437.76 249L1437.86 183L1437.93 145L1438.39 145L1438.46 188L1438.56 252L1438.72 274L1438.96 310L1439.16 359L1439.59 361L1440.02 359L1440.22 314L1440.46 277L1440.62 255L1440.72 190L1440.79 149L1441.25 149L1441.32 184L1441.42 247L1441.58 274L1441.82 308L1442.02 357L1442.46 360L1442.89 359L1443.09 312L1443.33 275L1443.49 250L1443.59 190L1443.66 149L1444.12 149L1444.19 186L1444.29 256L1444.45 275L1444.69 317L1444.89 360L1445.32 362L1445.75 362L1445.95 319L1446.19 275L1446.35 247L1446.45 185L1446.52 149L1446.98 149L1447.05 186L1447.15 254L1447.31 279L1447.55 314L1447.75 360L1448.18 362L1448.62 359L1448.82 322L1449.06 275L1449.22 256L1449.32 187L1449.39 153L1449.85 153L1449.92 189L1450.02 256L1450.18 279L1450.42 316L1450.62 361L1451.05 360L1451.48 361L1451.68 317L1451.92 278L1452.08 259L1452.18 192L1452.25 155L1452.71 155L1452.78 195L1452.88 264L1453.04 282L1453.28 317L1453.48 362L1453.92 365L1454.35 363L1454.55 321L1454.79 285L1454.95 261L1455.05 191L1455.12 152L1455.58 152L1455.65 192L1455.75 264L1455.91 283L1456.15 318L1456.35 364L1456.79 364L1457.22 363L1457.42 326L1457.66 281L1457.82 262L1457.92 193L1457.99 157L1458.45 157L1458.52 193L1458.62 269L1458.78 288L1459.02 323L1459.22 363L1459.65 376L1460.09 360L1460.29 318L1460.53 287L1460.69 263L1460.79 194L1460.86 154L1461.32 154L1461.39 198L1461.49 264L1461.65 292L1461.89 327L1462.09 366L1462.52 364L1462.96 363L1463.16 328L1463.4 288L1463.56 263L1463.66 192L1463.73 153L1464.19 153L1464.26 191L1464.36 258L1464.52 282L1464.76 325L1464.96 363L1465.39 365L1465.83 365L1466.03 318L1466.27 287L1466.43 263L1466.53 199L1466.6 158L1467.06 158L1467.13 195L1467.23 256L1467.39 281L1467.63 326L1467.83 365L1468.27 364L1468.7 363L1468.9 324L1469.14 291L1469.3 265L1469.4 198L1469.47 155L1469.93 155L1470 199L1470.1 264L1470.26 288L1470.5 327L1470.7 366L1471.14 367L1471.57 367L1471.77 325L1472.01 291L1472.17 268L1472.27 198L1472.34 158L1472.8 158L1472.87 202L1472.97 268L1473.13 294L1473.37 323L1473.57 364L1474.01 371L1474.45 366L1474.65 319L1474.89 286L1475.05 263L1475.15 196L1475.22 157L1475.68 157L1475.75 196L1475.85 261L1476.01 283L1476.25 325L1476.45 366L1476.89 368L1477.32 365L1477.52 317L1477.76 293L1477.92 269L1478.02 199L1478.09 163L1478.55 163L1478.62 202L1478.72 266L1478.88 289L1479.12 326L1479.32 367L1479.76 367L1480.2 365L1480.4 325L1480.64 283L1480.8 259L1480.9 198L1480.97 164L1481.43 164L1481.5 200L1481.6 272L1481.76 295L1482 321L1482.2 370L1482.64 369L1483.08 368L1483.28 325L1483.52 294L1483.68 268L1483.78 204L1483.85 164L1484.31 164L1484.38 202L1484.48 265L1484.64 288L1484.88 329L1485.08 369L1485.52 368L1485.95 367L1486.15 322L1486.39 301L1486.55 279L1486.65 206L1486.72 164L1487.18 164L1487.25 203L1487.35 273L1487.51 299L1487.75 330L1487.95 369L1488.39 371L1488.83 370L1489.03 325L1489.27 294L1489.43 273L1489.53 205L1489.6 165L1490.06 165L1490.13 205L1490.23 271L1490.39 295L1490.63 333L1490.83 369L1491.27 371L1491.71 369L1491.91 329L1492.15 291L1492.31 269L1492.41 203L1492.48 167L1492.94 167L1493.01 206L1493.11 266L1493.27 294L1493.51 334L1493.71 371L1494.15 372L1494.59 369L1494.79 331L1495.03 295L1495.19 269L1495.29 204L1495.36 166L1495.82 166L1495.89 198L1495.99 260L1496.15 287L1496.39 328L1496.59 372L1497.03 374L1497.47 372L1497.67 336L1497.91 294L1498.07 271L1498.17 201L1498.24 165L1498.7 165L1498.77 205L1498.87 275L1499.03 297L1499.27 332L1499.47 371L1499.92 374L1500.36 370L1500.56 331L1500.8 296L1500.96 271L1501.06 208L1501.13 168L1501.59 168L1501.66 205L1501.76 269L1501.92 295L1502.16 333L1502.36 373L1502.8 375L1503.24 373L1503.44 328L1503.68 301L1503.84 279L1503.94 207L1504.01 167L1504.47 167L1504.54 207L1504.64 269L1504.8 295L1505.04 333L1505.24 373L1505.68 373L1506.13 372L1506.33 330L1506.57 298L1506.73 276L1506.83 208L1506.9 168L1507.36 168L1507.43 205L1507.53 267L1507.69 293L1507.93 330L1508.13 371L1508.57 372L1509.01 375L1509.21 327L1509.45 302L1509.61 275L1509.71 205L1509.78 168L1510.24 168L1510.31 204L1510.41 276L1510.57 295L1510.81 337L1511.01 373L1511.45 374L1511.9 373L1512.1 336L1512.34 304L1512.5 276L1512.6 207L1512.67 165L1513.13 165L1513.2 208L1513.3 276L1513.46 301L1513.7 334L1513.9 373L1514.34 375L1514.79 373L1514.99 336L1515.23 303L1515.39 280L1515.49 210L1515.56 168L1516.02 168L1516.09 204L1516.19 277L1516.35 300L1516.59 341L1516.79 374L1517.23 374L1517.67 372L1517.87 334L1518.11 305L1518.27 278L1518.37 210L1518.44 168L1518.9 168L1518.97 203L1519.07 274L1519.23 295L1519.47 337L1519.67 375L1520.12 372L1520.56 374L1520.76 334L1521 302L1521.16 279L1521.26 208L1521.33 168L1521.79 168L1521.86 207L1521.96 267L1522.12 302L1522.36 336L1522.56 374L1523.01 376L1523.45 375L1523.65 339L1523.89 301L1524.05 275L1524.15 210L1524.22 171L1524.68 171L1524.75 211L1524.85 279L1525.01 301L1525.25 339L1525.45 377L1525.9 377L1526.34 375L1526.54 340L1526.78 307L1526.94 282L1527.04 211L1527.11 170L1527.57 170L1527.64 209L1527.74 276L1527.9 299L1528.14 340L1528.34 374L1528.79 378L1529.24 376L1529.44 340L1529.68 297L1529.84 278L1529.94 211L1530.01 172L1530.47 172L1530.54 208L1530.64 287L1530.8 307L1531.04 341L1531.24 377L1531.68 376L1532.13 375L1532.33 335L1532.57 303L1532.73 280L1532.83 214L1532.9 171L1533.36 171L1533.43 209L1533.53 281L1533.69 303L1533.93 346L1534.13 377L1534.58 377L1535.02 376L1535.22 343L1535.46 306L1535.62 286L1535.72 213L1535.79 174L1536.25 174L1536.32 212L1536.42 283L1536.58 310L1536.82 340L1537.02 378L1537.47 377L1537.92 377L1538.12 337L1538.36 306L1538.52 283L1538.62 214L1538.69 174L1539.15 174L1539.22 215L1539.32 283L1539.48 307L1539.72 342L1539.92 377L1540.37 380L1540.82 376L1541.02 338L1541.26 302L1541.42 279L1541.52 218L1541.59 178L1542.05 178L1542.12 221L1542.22 289L1542.38 317L1542.62 342L1542.82 378L1543.26 376L1543.71 378L1543.91 341L1544.15 312L1544.31 285L1544.41 214L1544.48 176L1544.94 176L1545.01 216L1545.11 281L1545.27 308L1545.51 340L1545.71 379L1546.16 375L1546.61 378L1546.81 346L1547.05 308L1547.21 284L1547.31 220L1547.38 178L1547.84 178L1547.91 216L1548.01 285L1548.17 310L1548.41 345L1548.61 376L1549.06 378L1549.51 378L1549.71 341L1549.95 309L1550.11 285L1550.21 215L1550.28 174L1550.74 174L1550.81 212L1550.91 285L1551.07 311L1551.31 342L1551.51 377L1551.96 379L1552.41 378L1552.61 343L1552.85 310L1553.01 288L1553.11 216L1553.18 171L1553.64 171L1553.71 211L1553.81 275L1553.97 306L1554.21 348L1554.41 378L1554.86 380L1555.31 377L1555.51 345L1555.75 301L1555.91 277L1556.01 214L1556.08 175L1556.54 175L1556.61 213L1556.71 286L1556.87 310L1557.11 338L1557.31 379L1557.76 382L1558.21 381L1558.41 343L1558.65 313L1558.81 288L1558.91 214L1558.98 182L1559.44 182L1559.51 223L1559.61 286L1559.77 309L1560.01 343L1560.21 378L1560.66 378L1561.12 378L1561.32 352L1561.56 309L1561.72 286L1561.82 222L1561.89 184L1562.35 184L1562.42 221L1562.52 295L1562.68 311L1562.92 342L1563.12 381L1563.57 381L1564.02 380L1564.22 346L1564.46 316L1564.62 296L1564.72 225L1564.79 183L1565.25 183L1565.32 218L1565.42 296L1565.58 315L1565.82 345L1566.02 381L1566.47 381L1566.93 380L1567.13 349L1567.37 311L1567.53 291L1567.63 225L1567.7 185L1568.16 185L1568.23 228L1568.33 291L1568.49 316L1568.73 339L1568.93 380L1569.38 381L1569.83 380L1570.03 346L1570.27 312L1570.43 288L1570.53 222L1570.6 183L1571.06 183L1571.13 219L1571.23 291L1571.39 312L1571.63 351L1571.83 381L1572.28 382L1572.74 382L1572.94 347L1573.18 318L1573.34 295L1573.44 223L1573.51 182L1573.97 182L1574.04 219L1574.14 287L1574.3 316L1574.54 346L1574.74 382L1575.19 384L1575.65 381L1575.85 349L1576.09 308L1576.25 286L1576.35 220L1576.42 186L1576.88 186L1576.95 223L1577.05 292L1577.21 313L1577.45 353L1577.65 381L1578.1 380L1578.55 381L1578.75 354L1578.99 309L1579.15 294L1579.25 223L1579.32 188L1579.78 188L1579.85 227L1579.95 298L1580.11 323L1580.35 351L1580.55 382L1581.01 384L1581.46 384L1581.66 348L1581.9 316L1582.06 296L1582.16 224L1582.23 188L1582.69 188L1582.76 225L1582.86 297L1583.02 321L1583.26 353L1583.46 382L1583.92 388L1584.38 382L1584.58 351L1584.82 318L1584.98 295L1585.08 228L1585.15 189L1585.61 189L1585.68 231L1585.78 298L1585.94 320L1586.18 354L1586.38 383L1586.83 382L1587.29 382L1587.49 350L1587.73 325L1587.89 301L1587.99 234L1588.06 195L1588.52 195L1588.59 231L1588.69 286L1588.85 312L1589.09 351L1589.29 382L1589.74 387L1590.2 381L1590.4 351L1590.64 321L1590.8 291L1590.9 228L1590.97 187L1591.43 187L1591.5 226L1591.6 298L1591.76 321L1592 347L1592.2 382L1592.66 382L1593.11 382L1593.31 359L1593.55 318L1593.71 295L1593.81 227L1593.88 192L1594.34 192L1594.41 233L1594.51 296L1594.67 322L1594.91 347L1595.11 382L1595.57 386L1596.03 383L1596.23 359L1596.47 322L1596.63 294L1596.73 232L1596.8 190L1597.26 190L1597.33 230L1597.43 298L1597.59 319L1597.83 356L1598.03 384L1598.49 386L1598.94 385L1599.14 352L1599.38 322L1599.54 293L1599.64 227L1599.71 189L1600.17 189L1600.24 225L1600.34 302L1600.5 322L1600.74 358L1600.94 384L1601.4 385L1601.86 385L1602.06 357L1602.3 320L1602.46 299L1602.56 232L1602.63 189L1603.09 189L1603.16 229L1603.26 296L1603.42 322L1603.66 362L1603.86 381L1604.32 383L1604.78 384L1604.98 362L1605.22 327L1605.38 303L1605.48 232L1605.55 192L1606.01 192L1606.08 230L1606.18 296L1606.34 319L1606.58 358L1606.78 383L1607.24 385L1607.7 385L1607.9 360L1608.14 321L1608.3 294L1608.4 226L1608.47 189L1608.93 189L1609 229L1609.1 297L1609.26 324L1609.5 359L1609.7 383L1610.16 386L1610.62 385L1610.82 361L1611.06 328L1611.22 308L1611.32 229L1611.39 189L1611.85 189L1611.92 228L1612.02 298L1612.18 322L1612.42 357L1612.62 386L1613.08 389L1613.54 384L1613.74 357L1613.98 329L1614.14 313L1614.24 236L1614.31 193L1614.77 193L1614.84 227L1614.94 300L1615.1 324L1615.34 361L1615.54 386L1616 386L1616.46 385L1616.66 363L1616.9 332L1617.06 300L1617.16 237L1617.23 195L1617.69 195L1617.76 239L1617.86 304L1618.02 332L1618.26 358L1618.46 386L1618.92 387L1619.38 386L1619.58 367L1619.82 324L1619.98 305L1620.08 235L1620.15 196L1620.61 196L1620.68 236L1620.78 305L1620.94 327L1621.18 362L1621.38 386L1621.84 387L1622.31 386L1622.51 359L1622.75 331L1622.91 303L1623.01 237L1623.08 196L1623.54 196L1623.61 232L1623.71 305L1623.87 326L1624.11 360L1624.31 385L1624.77 389L1625.23 386L1625.43 358L1625.67 335L1625.83 303L1625.93 236L1626 196L1626.46 196L1626.53 236L1626.63 307L1626.79 332L1627.03 364L1627.23 389L1627.69 386L1628.16 387L1628.36 368L1628.6 338L1628.76 313L1628.86 238L1628.93 198L1629.39 198L1629.46 237L1629.56 312L1629.72 332L1629.96 364L1630.16 386L1630.62 390L1631.08 388L1631.28 369L1631.52 333L1631.68 310L1631.78 237L1631.85 197L1632.31 197L1632.38 237L1632.48 308L1632.64 332L1632.88 364L1633.08 387L1633.55 391L1634.01 387L1634.21 363L1634.45 329L1634.61 306L1634.71 233L1634.78 196L1635.24 196L1635.31 239L1635.41 303L1635.57 332L1635.81 365L1636.01 388L1636.47 392L1636.94 390L1637.14 363L1637.38 334L1637.54 308L1637.64 236L1637.71 195L1638.17 195L1638.24 241L1638.34 316L1638.5 341L1638.74 375L1638.94 387L1639.4 394L1639.87 387L1640.07 366L1640.31 328L1640.47 307L1640.57 238L1640.64 200L1641.1 200L1641.17 240L1641.27 303L1641.43 333L1641.67 363L1641.87 388L1642.33 386L1642.8 388L1643 361L1643.24 337L1643.4 308L1643.5 238L1643.57 196L1644.03 196L1644.1 239L1644.2 304L1644.36 341L1644.6 370L1644.8 387L1645.26 390L1645.73 389L1645.93 366L1646.17 335L1646.33 312L1646.43 241L1646.5 199L1646.96 199L1647.03 241L1647.13 308L1647.29 337L1647.53 366L1647.73 389L1648.2 389L1648.66 389L1648.86 373L1649.1 340L1649.26 317L1649.36 244L1649.43 202L1649.89 202L1649.96 241L1650.06 315L1650.22 336L1650.46 371L1650.66 389L1651.13 395L1651.6 390L1651.8 373L1652.04 339L1652.2 315L1652.3 239L1652.37 200L1652.83 200L1652.9 243L1653 308L1653.16 330L1653.4 367L1653.6 391L1654.06 397L1654.53 390L1654.73 372L1654.97 326L1655.13 304L1655.23 239L1655.3 201L1655.76 201L1655.83 240L1655.93 304L1656.09 333L1656.33 365L1656.53 390L1657 391L1657.47 389L1657.67 369L1657.91 344L1658.07 321L1658.17 249L1658.24 205L1658.7 205L1658.77 244L1658.87 313L1659.03 337L1659.27 375L1659.47 390L1659.93 391L1660.4 391L1660.6 379L1660.84 342L1661 314L1661.1 245L1661.17 206L1661.63 206L1661.7 248L1661.8 313L1661.96 342L1662.2 374L1662.4 390L1662.87 394L1663.34 389L1663.54 375L1663.78 338L1663.94 313L1664.04 242L1664.11 200L1664.57 200L1664.64 241L1664.74 310L1664.9 338L1665.14 374L1665.34 390L1665.81 395L1666.28 392L1666.48 372L1666.72 334L1666.88 312L1666.98 240L1667.05 205L1667.51 205L1667.58 244L1667.68 318L1667.84 338L1668.08 368L1668.28 392L1668.75 397L1669.22 389L1669.42 369L1669.66 333L1669.82 306L1669.92 246L1669.99 208L1670.45 208L1670.52 250L1670.62 312L1670.78 340L1671.02 377L1671.22 391L1671.69 390L1672.16 391L1672.36 368L1672.6 346L1672.76 320L1672.86 245L1672.93 205L1673.39 205L1673.46 243L1673.56 318L1673.72 340L1673.96 374L1674.16 392L1674.63 394L1675.1 392L1675.3 383L1675.54 339L1675.7 316L1675.8 247L1675.87 208L1676.33 208L1676.4 252L1676.5 332L1676.66 352L1676.9 377L1677.1 395L1677.57 393L1678.04 392L1678.24 381L1678.48 339L1678.64 316L1678.74 248L1678.81 209L1679.27 209L1679.34 252L1679.44 316L1679.6 342L1679.84 380L1680.04 392L1680.51 393L1681.18 391L1681.42 343L1681.58 312L1681.68 251L1681.75 210L1682.21 210L1682.28 249L1682.38 318L1682.54 344L1682.78 380L1682.98 392L1683.46 398L1683.93 392L1684.13 378L1684.37 351L1684.53 327L1684.63 252L1684.7 211L1685.16 211L1685.23 250L1685.33 315L1685.49 339L1685.73 381L1685.93 392L1686.4 389L1686.87 392L1687.07 381L1687.31 341L1687.47 320L1687.57 248L1687.64 209L1688.1 209L1688.17 247L1688.27 323L1688.43 346L1688.67 380L1688.87 391L1689.35 386L1689.82 393L1690.02 381L1690.26 349L1690.42 320L1690.52 256L1690.59 213L1691.05 213L1691.12 257L1691.22 321L1691.38 346L1691.62 375L1691.82 392L1692.29 394L1692.77 394L1692.97 387L1693.21 339L1693.37 316L1693.47 252L1693.54 215L1694 215L1694.07 254L1694.17 315L1694.33 342L1694.57 382L1694.77 394L1695.24 397L1695.72 394L1695.92 376L1696.16 352L1696.32 329L1696.42 259L1696.49 216L1696.95 216L1697.02 254L1697.12 326L1697.28 351L1697.52 385L1697.72 393L1698.19 399L1698.67 395L1698.87 384L1699.11 350L1699.27 326L1699.37 258L1699.44 220L1699.9 220L1699.97 259L1700.07 333L1700.23 351L1700.47 375L1700.67 394L1701.14 399L1701.62 394L1701.82 382L1702.06 341L1702.22 320L1702.32 257L1702.39 222L1702.85 222L1702.92 256L1703.02 324L1703.18 350L1703.42 384L1703.62 396L1704.09 401L1704.57 397L1704.77 381L1705.01 350L1705.17 327L1705.27 259L1705.34 221L1705.8 221L1705.87 259L1705.97 331L1706.13 356L1706.37 379L1706.57 396L1707.04 412L1707.52 395L1707.72 381L1707.96 344L1708.12 324L1708.22 258L1708.29 221L1708.75 221L1708.82 262L1708.92 335L1709.08 353L1709.32 382L1709.52 396L1710 399L1710.47 396L1710.67 377L1710.91 349L1711.07 324L1711.17 258L1711.24 221L1711.7 221L1711.77 259L1711.87 323L1712.03 346L1712.27 378L1712.47 396L1712.95 395L1713.43 397L1713.63 386L1713.87 352L1714.03 328L1714.13 263L1714.2 223L1714.66 223L1714.73 261L1714.83 317L1714.99 347L1715.23 388L1715.43 399L1715.91 402L1716.38 398L1716.58 384L1716.82 348L1716.98 323L1717.08 262L1717.15 227L1717.61 227L1717.68 263L1717.78 327L1717.94 352L1718.18 383L1718.38 397L1718.86 401L1719.34 399L1719.54 384L1719.78 353L1719.94 327L1720.04 264L1720.11 225L1720.57 225L1720.64 263L1720.74 328L1720.9 352L1721.14 392L1721.34 398L1721.82 398L1722.3 397L1722.5 384L1722.74 354L1722.9 331L1723 265L1723.07 226L1723.53 226L1723.6 264L1723.7 325L1723.86 349L1724.1 384L1724.3 399L1724.78 402L1725.26 398L1725.46 379L1725.7 349L1725.86 329L1725.96 263L1726.03 230L1726.49 230L1726.56 268L1726.66 333L1726.82 356L1727.06 382L1727.26 399L1727.74 413L1728.22 401L1728.42 384L1728.66 350L1728.82 335L1728.92 262L1728.99 227L1729.45 227L1729.52 266L1729.62 332L1729.78 353L1730.02 380L1730.22 401L1730.7 404L1731.18 399L1731.38 378L1731.62 357L1731.78 341L1731.88 267L1731.95 230L1732.41 230L1732.48 268L1732.58 337L1732.74 358L1732.98 386L1733.18 400L1733.66 400L1734.14 398L1734.34 385L1734.58 357L1734.74 335L1734.84 273L1734.91 235L1735.37 235L1735.44 266L1735.54 330L1735.7 351L1735.94 387L1736.14 401L1736.62 403L1737.1 402L1737.3 388L1737.54 358L1737.7 333L1737.8 272L1737.87 236L1738.33 236L1738.4 274L1738.5 335L1738.66 355L1738.9 385L1739.1 401L1739.58 397L1740.06 402L1740.26 388L1740.5 361L1740.66 339L1740.76 275L1740.83 238L1741.29 238L1741.36 274L1741.46 343L1741.62 361L1741.86 385L1742.06 403L1742.55 412L1743.03 403L1743.23 389L1743.47 358L1743.63 337L1743.73 279L1743.8 244L1744.26 244L1744.33 275L1744.43 336L1744.59 352L1744.83 383L1745.03 404L1745.51 413L1745.99 401L1746.19 388L1746.43 353L1746.59 334L1746.69 274L1746.76 237L1747.22 237L1747.29 274L1747.39 340L1747.55 359L1747.79 388L1747.99 403L1748.48 401L1748.96 404L1749.16 385L1749.4 360L1749.56 332L1749.66 279L1749.73 242L1750.19 242L1750.26 273L1750.36 332L1750.52 352L1750.76 387L1750.96 403L1751.44 397L1751.93 404L1752.13 392L1752.37 351L1752.53 330L1752.63 274L1752.7 241L1753.16 241L1753.23 277L1753.33 344L1753.49 362L1753.73 384L1753.93 404L1754.41 414L1754.9 404L1755.1 386L1755.34 359L1755.5 340L1755.6 278L1755.67 243L1756.13 243L1756.2 279L1756.3 336L1756.46 356L1756.7 385L1756.9 405L1757.38 411L1757.86 404L1758.06 388L1758.3 350L1758.46 327L1758.56 276L1758.63 245L1759.09 245L1759.16 278L1759.26 336L1759.42 356L1759.66 380L1759.86 405L1760.35 403L1760.84 404L1761.04 378L1761.28 356L1761.44 335L1761.54 280L1761.61 247L1762.07 247L1762.14 280L1762.24 337L1762.4 358L1762.64 393L1762.84 407L1763.32 399L1763.81 407L1764.01 391L1764.25 363L1764.41 339L1764.51 280L1764.58 244L1765.04 244L1765.11 278L1765.21 339L1765.37 358L1765.61 386L1765.81 404L1766.29 404L1766.78 408L1766.98 393L1767.22 363L1767.38 341L1767.48 285L1767.55 247L1768.01 247L1768.08 282L1768.18 339L1768.34 364L1768.58 384L1768.78 408L1769.27 410L1769.75 409L1769.95 398L1770.19 363L1770.35 341L1770.45 279L1770.52 243L1770.98 243L1771.05 275L1771.15 338L1771.31 357L1771.55 391L1771.75 406L1772.24 403L1772.73 407L1772.93 390L1773.17 368L1773.33 342L1773.43 279L1773.5 246L1773.96 246L1774.03 281L1774.13 342L1774.29 361L1774.53 383L1774.73 408L1775.21 412L1775.7 406L1775.9 390L1776.14 362L1776.3 341L1776.4 278L1776.47 245L1776.93 245L1777 283L1777.1 337L1777.26 360L1777.5 394L1777.7 408L1778.19 407L1778.68 408L1778.88 391L1779.12 368L1779.28 346L1779.38 285L1779.45 250L1779.91 250L1779.98 284L1780.08 337L1780.24 360L1780.48 388L1780.68 409L1781.17 418L1781.66 409L1781.86 394L1782.1 364L1782.26 351L1782.36 279L1782.43 247L1782.89 247L1782.96 280L1783.06 336L1783.22 362L1783.46 387L1783.66 409L1784.15 404L1784.64 409L1784.84 389L1785.08 363L1785.24 339L1785.34 286L1785.41 250L1785.87 250L1785.94 281L1786.04 343L1786.2 363L1786.44 389L1786.64 408L1787.13 408L1787.61 409L1787.81 389L1788.05 366L1788.21 350L1788.31 285L1788.38 251L1788.84 251L1788.91 286L1789.01 349L1789.17 371L1789.41 386L1789.61 410L1790.11 403L1790.6 407L1790.8 385L1791.04 368L1791.2 341L1791.3 283L1791.37 249L1791.83 249L1791.9 284L1792 344L1792.16 366L1792.4 382L1792.6 411L1793.09 405L1793.58 409L1793.78 392L1794.02 371L1794.18 351L1794.28 292L1794.35 253L1794.81 253L1794.88 293L1794.98 361L1795.14 376L1795.38 396L1795.58 411L1796.07 410L1796.56 409L1796.76 390L1797 367L1797.16 346L1797.26 288L1797.33 254L1797.79 254L1797.86 289L1797.96 354L1798.12 378L1798.36 394L1798.56 410L1799.05 418L1799.54 411L1799.74 393L1799.98 370L1800.14 355L1800.24 290L1800.31 255L1800.77 255L1800.84 290L1800.94 356L1801.1 373L1801.34 389L1801.54 409L1802.04 420L1802.53 410L1802.73 396L1802.97 366L1803.13 344L1803.23 291L1803.3 257L1803.76 257L1803.83 294L1803.93 355L1804.09 376L1804.33 393L1804.53 410L1805.02 410L1805.51 412L1805.71 389L1805.95 367L1806.11 351L1806.21 296L1806.28 260L1806.74 260L1806.81 291L1806.91 339L1807.07 363L1807.31 390L1807.51 410L1808.01 417L1808.5 410L1808.7 391L1808.94 363L1809.1 344L1809.2 295L1809.27 263L1809.73 263L1809.8 293L1809.9 343L1810.06 366L1810.3 393L1810.5 411L1810.99 408L1811.49 411L1811.69 397L1811.93 372L1812.09 351L1812.19 294L1812.26 264L1812.72 264L1812.79 296L1812.89 358L1813.05 377L1813.29 392L1813.49 411L1813.98 407L1814.48 410L1814.68 392L1814.92 361L1815.08 346L1815.18 298L1815.25 266L1815.71 266L1815.78 301L1815.88 361L1816.04 377L1816.28 391L1816.48 411L1816.97 418L1817.47 411L1817.67 393L1817.91 370L1818.07 348L1818.17 295L1818.24 267L1818.7 267L1818.77 299L1818.87 349L1819.03 368L1819.27 397L1819.47 410L1819.96 416L1820.46 411L1820.66 395L1820.9 364L1821.06 346L1821.16 299L1821.23 266L1821.69 266L1821.76 295L1821.86 352L1822.02 366L1822.26 393L1822.46 411L1822.95 404L1823.45 409L1823.65 392L1823.89 364L1824.05 348L1824.15 298L1824.22 267L1824.68 267L1824.75 293L1824.85 350L1825.01 367L1825.25 389L1825.45 411L1825.95 416L1826.44 411L1826.64 394L1826.88 365L1827.04 346L1827.14 297L1827.21 267L1827.67 267L1827.74 298L1827.84 354L1828 367L1828.24 385L1828.44 412L1828.94 417L1829.44 410L1829.64 386L1829.88 367L1830.04 351L1830.14 299L1830.21 268L1830.67 268L1830.74 297L1830.84 353L1831 373L1831.24 388L1831.44 410L1831.93 408L1832.43 410L1832.63 391L1832.87 370L1833.03 355L1833.13 300L1833.2 269L1833.66 269L1833.73 297L1833.83 346L1833.99 365L1834.23 388L1834.43 412L1834.93 415L1835.43 411L1835.63 393L1835.87 361L1836.03 342L1836.13 297L1836.2 268L1836.66 268L1836.73 302L1836.83 352L1836.99 369L1837.23 388L1837.43 411L1837.93 417L1838.42 411L1838.62 392L1838.86 369L1839.02 348L1839.12 305L1839.19 277L1839.65 277L1839.72 303L1839.82 352L1839.98 368L1840.22 383L1840.42 410L1840.92 408L1841.42 409L1841.62 394L1841.86 369L1842.02 350L1842.12 312L1842.19 288L1842.65 288L1842.72 315L1842.82 361L1842.98 373L1843.22 391L1843.42 411L1843.92 415L1844.42 409L1844.62 384L1844.86 364L1845.02 349L1845.12 307L1845.19 283L1845.65 283L1845.72 310L1845.82 346L1845.98 367L1846.22 384L1846.42 410L1846.92 420L1847.42 412L1847.62 390L1847.86 371L1848.02 357L1848.12 311L1848.19 283L1848.65 283L1848.72 307L1848.82 352L1848.98 367L1849.22 392L1849.42 409L1849.92 415L1850.42 411L1850.62 385L1850.86 366L1851.02 353L1851.12 310L1851.19 281L1851.65 281L1851.72 307L1851.82 354L1851.98 367L1852.22 389L1852.42 410L1852.92 418L1853.42 411L1853.62 392L1853.86 363L1854.02 349L1854.12 306L1854.19 281L1854.65 281L1854.72 306L1854.82 354L1854.98 368L1855.22 389L1855.42 410L1855.93 412L1856.43 411L1856.63 393L1856.87 360L1857.03 348L1857.13 306L1857.2 284L1857.66 284L1857.73 309L1857.83 353L1857.99 366L1858.23 389L1858.43 411L1858.93 414L1859.43 411L1859.63 385L1859.87 362L1860.03 344L1860.13 311L1860.2 288L1860.66 288L1860.73 310L1860.83 351L1860.99 364L1861.23 389L1861.43 409L1861.93 403L1862.44 410L1862.64 389L1862.88 368L1863.04 355L1863.14 310L1863.21 287L1863.67 287L1863.74 309L1863.84 349L1864 363L1864.24 395L1864.44 409L1864.94 418L1865.44 409L1865.64 391L1865.88 371L1866.04 360L1866.14 319L1866.21 296L1866.67 296L1866.74 318L1866.84 361L1867 368L1867.24 398L1867.44 408L1867.95 402L1868.45 409L1868.65 393L1868.89 368L1869.05 355L1869.15 317L1869.22 296L1869.68 296L1869.75 321L1869.85 360L1870.01 374L1870.25 390L1870.45 409L1870.95 399L1871.46 409L1871.66 388L1871.9 377L1872.06 364L1872.16 320L1872.23 297L1872.69 297L1872.76 321L1872.86 353L1873.02 365L1873.26 392L1873.46 407L1873.96 404L1874.47 407L1874.67 392L1874.91 360L1875.07 354L1875.17 316L1875.24 298L1875.7 298L1875.77 317L1875.87 352L1876.03 363L1876.27 388L1876.47 404L1876.97 405L1877.48 406L1877.68 394L1877.92 359L1878.08 349L1878.18 320L1878.25 303L1878.71 303L1878.78 327L1878.88 361L1879.04 371L1879.28 387L1879.48 405L1879.98 404L1880.49 404L1880.69 395L1880.93 364L1881.09 350L1881.19 321L1881.26 302L1881.72 302L1881.79 319L1881.89 355L1882.05 365L1882.29 391L1882.49 403L1882.99 407L1883.5 402L1883.7 384L1883.94 363L1884.1 352L1884.2 325L1884.27 308L1884.73 308L1884.8 329L1884.9 358L1885.06 368L1885.3 389L1885.5 401L1886.01 405L1886.51 402L1886.71 379L1886.95 365L1887.11 357L1887.21 322L1887.28 305L1887.74 305L1887.81 322L1887.91 355L1888.07 367L1888.31 396L1888.51 402L1889.02 405L1889.53 401L1889.73 386L1889.97 367L1890.13 351L1890.23 323L1890.3 308L1890.76 308L1890.83 321L1890.93 352L1891.09 364L1891.33 394L1891.53 399L1892.04 399L1892.54 399L1892.74 391L1892.98 368L1893.14 350L1893.24 327L1893.31 307L1893.77 307L1893.84 325L1893.94 351L1894.1 365L1894.34 393L1894.54 399L1895.05 414L1895.56 400L1895.76 395L1896 360L1896.16 353L1896.26 328L1896.33 312L1896.79 312L1896.86 327L1896.96 351L1897.12 367L1897.36 388L1897.56 400L1898.07 400L1898.58 399L1898.78 392L1899.02 359L1899.18 352L1899.28 324L1899.35 312L1899.81 312L1899.88 331L1899.98 362L1900.14 373L1900.38 394L1900.58 399L1901.09 400L1901.6 399L1901.8 391L1902.04 366L1902.2 356L1902.3 331L1902.37 314L1902.83 314L1902.9 329L1903 355L1903.16 364L1903.4 389L1903.6 399L1904.11 398L1904.62 399L1904.82 393L1905.06 358L1905.22 353L1905.32 329L1905.39 318L1905.85 318L1905.92 332L1906.02 356L1906.18 365L1906.42 390L1906.62 399L1907.13 392L1907.64 399L1907.84 389L1908.08 364L1908.24 353L1908.34 328L1908.41 315L1908.87 315L1908.94 327L1909.04 352L1909.2 361L1909.44 393L1909.64 398L1910.15 404L1910.66 398L1910.86 386L1911.1 363L1911.26 362L1911.36 331L1911.43 314L1911.89 314L1911.96 331L1912.06 360L1912.22 366L1912.46 390L1912.66 400L1913.17 398L1913.68 398L1913.88 392L1914.12 358L1914.28 355L1914.38 332L1914.45 317L1914.91 317L1914.98 332L1915.08 353L1915.24 362L1915.48 392L1915.68 398L1916.19 405L1916.7 399L1916.9 391L1917.14 365L1917.3 358L1917.4 331L1917.47 317L1917.93 317L1918 329L1918.1 358L1918.26 360L1918.5 395L1918.7 397L1919.22 395L1919.73 398L1919.93 385L1920.17 362L1920.33 355L1920.43 335L1920.5 319L1920.96 319L1921.03 331L1921.13 350L1921.29 358L1921.53 387L1921.73 400L1922.24 396L1922.75 398L1922.95 388L1923.19 358L1923.35 353L1923.45 330L1923.52 320L1923.98 320L1924.05 335L1924.15 358L1924.31 364L1924.55 384L1924.75 398L1925.27 403L1925.98 402L1926.22 363L1926.38 355L1926.48 336L1926.55 323L1927.01 323L1927.08 338L1927.18 362L1927.34 369L1927.58 401L1928.3 403L1928.81 398L1929.01 388L1929.25 369L1929.41 363L1929.51 338L1929.58 325L1930.04 325L1930.11 332L1930.21 353L1930.37 354L1930.61 391L1930.81 399L1931.32 402L1931.84 400L1932.04 393L1932.28 356L1932.44 341L1932.54 331L1932.61 322L1933.07 322L1933.14 335L1933.24 362L1933.4 361L1933.64 398L1934.35 397L1934.87 399L1935.07 387L1935.31 362L1935.47 359L1935.57 336L1935.64 325L1936.1 325L1936.17 340L1936.27 352L1936.43 363L1936.67 395L1936.87 397L1937.38 392L1937.9 397L1938.1 391L1938.34 362L1938.5 356L1938.6 334L1938.67 323L1939.13 323L1939.2 335L1939.3 354L1939.46 359L1939.7 388L1939.9 397L1940.41 404L1940.93 399L1941.13 390L1941.37 366L1941.53 358L1941.63 336L1941.7 323L1942.16 323L1942.23 333L1942.33 350L1942.49 361L1942.73 398L1943.45 405L1943.96 401L1944.16 387L1944.4 361L1944.56 357L1944.66 337L1944.73 327L1945.19 327L1945.26 337L1945.36 358L1945.52 359L1945.76 386L1945.96 398L1946.48 400L1947.2 399L1947.44 356L1947.6 351L1947.7 338L1947.77 329L1948.23 329L1948.3 336L1948.4 354L1948.56 361L1948.8 388L1949 399L1949.52 400L1950.03 398L1950.23 393L1950.47 362L1950.63 365L1950.73 337L1950.8 330L1951.26 330L1951.33 341L1951.43 351L1951.59 361L1951.83 382L1952.03 398L1952.55 399L1953.27 397L1953.51 362L1953.67 361L1953.77 342L1953.84 328L1954.3 328L1954.37 337L1954.47 356L1954.63 363L1954.87 393L1955.07 397L1955.59 401L1956.11 400L1956.31 384L1956.55 358L1956.71 353L1956.81 342L1956.88 333L1957.34 333L1957.41 342L1957.51 353L1957.67 362L1957.91 394L1958.11 397L1958.63 401L1959.14 398L1959.34 394L1959.58 359L1959.74 358L1959.84 343L1959.91 333L1960.37 333L1960.44 342L1960.54 362L1960.7 367L1960.94 388L1961.14 398L1961.66 400L1962.18 396L1962.38 393L1962.62 358L1962.78 356L1962.88 341L1962.95 331L1963.41 331L1963.48 340L1963.58 348L1963.74 359L1963.98 396L1964.7 400L1965.42 397L1965.66 358L1965.82 352L1965.92 342L1965.99 334L1966.45 334L1966.52 348L1966.62 356L1966.78 361L1967.02 400L1967.75 398L1968.27 397L1968.47 393L1968.71 359L1968.87 356L1968.97 341L1969.04 337L1969.5 337L1969.57 343L1969.67 361L1969.83 366L1970.07 385L1970.27 397L1970.79 399L1971.31 399L1971.51 388L1971.75 359L1971.91 357L1972.01 342L1972.08 336L1972.54 336L1972.61 342L1972.71 353L1972.87 360L1973.11 391L1973.31 397L1973.83 399L1974.35 398L1974.55 391L1974.79 357L1974.95 356L1975.05 341L1975.12 335L1975.58 335L1975.65 345L1975.75 359L1975.91 368L1976.15 391L1976.35 398L1976.87 398L1977.4 399L1977.6 394L1977.84 357L1978.2 340L1978.63 340L1978.7 344L1978.8 357L1978.96 361L1979.2 379L1979.4 397L1979.92 399L1980.44 398L1980.64 392L1980.88 358L1981.04 357L1981.14 341L1981.21 336L1981.67 336L1981.74 344L1981.84 359L1982 363L1982.24 396L1982.97 408L1983.49 398L1983.69 389L1983.93 357L1984.29 337L1984.69 337L1985.05 355L1985.29 394L1985.49 396L1986.01 401L1986.74 396L1986.98 356L1987.34 338L1987.77 338L1987.84 343L1987.94 355L1988.1 359L1988.34 392L1988.54 399L1989.06 404L1989.58 399L1989.78 387L1990.02 360L1990.18 352L1990.28 344L1990.35 340L1990.78 340L1991.14 356L1991.38 398L1992.11 401L1992.83 395L1993.07 351L1993.43 336L1993.86 336L1993.93 342L1994.03 353L1994.19 359L1994.43 386L1994.63 398L1995.16 400L1995.89 399L1996.13 364L1996.29 362L1996.39 346L1996.46 342L1996.89 342L1997.25 352L1997.49 383L1997.69 396L1998.21 397L1998.74 398L1998.94 386L1999.18 363L1999.34 359L1999.44 350L1999.51 342L1999.94 342L2000.3 358L2000.54 391L2000.74 398L2001.26 401L2001.79 397L2001.99 386L2002.23 358L2002.59 340L2002.99 340L2003.35 356L2003.59 390L2003.79 396L2004.32 401L2004.84 398L2005.04 389L2005.28 359L2005.64 342L2006.04 342L2006.4 359L2006.64 393L2006.84 396L2007.37 399L2007.9 398L2008.1 392L2008.34 362L2008.7 342L2009.1 342L2009.46 355L2009.7 397L2010.43 399L2010.96 398L2011.16 391L2011.4 369L2011.56 359L2011.66 352L2011.73 346L2012.16 346L2012.52 355L2012.76 383L2012.96 398L2013.48 402L2014.01 398L2014.21 390L2014.45 352L2014.81 346L2015.21 346L2015.57 356L2015.81 393L2016.01 397L2016.54 394L2017.07 397L2017.27 385L2017.51 354L2017.87 346L2018.27 346L2018.63 362L2018.87 389L2019.07 398L2019.6 399L2020.13 399L2020.33 390L2020.57 358L2020.93 348L2021.33 348L2021.69 356L2021.93 398L2022.66 399L2023.19 397L2023.39 389L2023.63 357L2023.99 348L2024.39 348L2024.75 355L2024.99 397L2025.72 397L2026.45 395L2026.69 358L2027.05 348L2027.45 348L2027.81 355L2028.05 395L2028.78 399L2029.31 397L2029.51 389L2029.75 355L2030.11 347L2030.51 347L2030.87 357L2031.11 394L2031.31 398L2031.85 404L2032.38 397L2032.58 392L2032.82 364L2033.18 350L2033.58 350L2033.94 361L2034.18 392L2034.38 397L2034.91 398L2035.44 397L2035.64 382L2036.34 352L2036.64 352L2037 357L2037.24 391L2037.44 397L2037.97 400L2038.51 396L2038.71 390L2038.95 358L2039.31 353L2039.61 353L2040.31 384L2040.51 397L2041.04 398L2041.77 396L2042.01 358L2042.37 352L2042.77 352L2043.13 361L2043.37 389L2043.57 398L2044.11 397L2044.64 398L2044.84 390L2045.08 364L2045.44 356L2045.74 356L2046.44 389L2046.64 399L2047.18 404L2047.91 395L2048.15 361L2048.51 353L2048.81 353L2049.51 376L2049.71 396L2050.25 399L2050.98 398L2051.68 356L2051.88 356L2052.58 393L2052.78 397L2053.32 401L2053.85 397L2054.05 391L2054.29 362L2054.65 352L2055.05 352L2055.41 358L2055.65 390L2055.85 398L2056.39 412L2056.92 398L2057.12 383L2057.36 359L2057.72 351L2058.12 351L2058.48 363L2058.72 389L2058.92 397L2059.46 398L2060 396L2060.2 394L2060.9 352L2061.2 352L2061.56 356L2061.8 390L2062 398L2062.53 401L2063.27 395L2063.97 351L2064.27 351L2064.63 361L2064.87 387L2065.07 397L2065.61 405L2066.15 395L2066.35 386L2066.59 357L2066.95 350L2067.35 350L2067.71 358L2067.95 390L2068.15 397L2068.68 401L2069.22 397L2069.42 391L2069.66 361L2070.02 348L2070.32 348L2071.02 393L2071.22 399L2071.76 394L2072.3 396L2072.5 392L2073.2 352L2073.5 352L2073.86 356L2074.1 392L2074.3 397L2074.84 399L2075.58 395L2075.82 358L2076.18 354L2076.48 354L2077.18 386L2077.38 396L2077.92 399L2078.46 397L2078.66 386L2079.36 353L2079.56 353L2080.26 394L2080.46 396L2081 403L2081.54 395L2081.74 384L2081.98 355L2082.34 352L2082.74 352L2083.1 356L2083.34 389L2083.54 396L2084.08 397L2084.62 397L2084.82 392L2085.52 353L2085.72 353L2086.42 389L2086.62 395L2087.16 405L2087.7 396L2087.9 386L2088.6 356L2088.8 356L2089.5 385L2089.7 395L2090.24 400L2090.99 399L2091.69 350L2091.99 350L2092.35 357L2092.59 389L2092.79 398L2093.33 399L2094.07 395L2094.31 359L2094.67 352L2094.97 352L2095.67 392L2095.87 398" fill="none" stroke-width="1.3"/>
</g>
<g id="purple" fill="#9d9ecc" stroke="#9d9ecc">
<path d="M80 390.3L80.8 389.4L81.6 387.2L82.4 392.6L83.2 390.5L84 387.9L84.8 388.2L85.6 390.6L86.4 391.2L87.2 390.3L88 390.2L88.8 388.9L89.6 392.6L90.4 389L91.2 389.8L92 390.1L92.8 389.1L93.6 390.7L94.4 391.8L95.2 386.1L96 389.2L96.8 391.4L97.6 391.6L98.4 388.8L99.2 390.5L100 389.8L100.8 389.7L101.6 388.5L102.4 391L103.2 391.3L104 391.9L104.8 382.6L105.6 389.7L106.4 391.2L107.2 394.6L108 386L108.8 389.4L109.6 392.2L110.4 387.8L111.2 385.7L112 391L112.8 390.4L113.6 385.9L114.4 387.7L115.2 391.2L116 388.5L116.8 391.1L117.6 383.8L118.4 385.8L119.2 377.7L120 378.4L120.8 387.9L121.6 388.6L122.4 388.9L123.2 389.8L124 388L124.8 388.6L125.6 379.9L126.4 389.8L127.2 390.2L128 381.6L128.8 389.9L129.6 390.2L130.4 390.5L131.2 389.5L132 389.8L132.8 388.1L133.6 380.8L134.4 391L135.2 384.8L136 391.5L136.8 388.7L137.6 391.2L138.4 392.1L139.2 389.9L140 388.9L140.8 390.2L141.6 388.9L142.4 388.1L143.2 391.1L144 386.6L144.8 390.9L145.6 388.3L146.4 390.9L147.2 388.8L148 392.3L148.8 388.8L149.6 386.1L150.4 381.4L151.2 389.6L152 389.3L152.8 389.5L153.6 389L154.4 390L155.2 388.4L156 392.8L156.8 388.5L157.6 390.5L158.4 391.6L159.2 389.2L160 390.8L160.8 376.9L161.6 388L162.4 388.3L163.2 391.2L164 391.1L164.8 388.1L165.6 391.1L166.4 388.1L167.2 386.3L168 390.6L168.8 386.4L169.6 390.5L170.4 389L171.2 387.2L172 390.5L172.8 389.9L173.6 390L174.4 389.1L175.2 388.5L176 383.2L176.8 389.1L177.6 387.9L178.4 388.8L179.2 390.1L180 390.7L180.8 390.1L181.6 389.9L182.4 389.1L183.2 390.9L184 391.3L184.8 379.9L185.6 388.8L186.4 387.2L187.2 389L188 388.8L188.8 392.4L189.6 391.5L190.4 387.4L191.2 390.7L192 389.1L192.8 386.8L193.6 389.9L194.4 388.4L195.2 389.9L196 390.3L196.8 388.5L197.6 391.7L198.4 389.7L199.2 388.3L200 387L200.8 392.8L201.6 388.2L202.4 389.6L203.2 389.9L204 390.8L204.8 385.8L205.6 385.8L206.4 389.6L207.2 387.2L208 386.2L208.8 392.6L209.6 388.5L210.4 390.5L211.2 387.8L212 394L212.8 388.9L213.6 390.1L214.4 389.2L215.2 388.5L216 391.1L216.8 389.1L217.6 388L218.4 388.6L219.2 389L220 385.4L220.8 389.6L221.6 388.2L222.4 388.6L223.2 392.6L224 389L224.8 391.5L225.6 380.9L226.4 389.9L227.2 388.4L228 380L228.8 388.5L229.6 390.7L230.4 391.3L231.2 391L232 388.4L232.8 388.8L233.6 387.6L234.4 389.8L235.2 379.5L236 389.7L236.8 388.2L237.6 389.9L238.4 389.5L239.2 390.1L240 389.1L240.8 389.6L241.6 388.2L242.4 388.1L243.2 385.5L244 389.7L244.8 389.6L245.6 387.9L246.4 391.7L247.2 391.2L248 392L248.8 389.2L249.6 389L250.4 389.9L251.2 390.8L252 386.7L252.8 387.9L253.6 389.1L254.4 386.3L255.2 389L255.2 413L254.4 413L253.6 413L252.8 413L252 413L251.2 413L250.4 413L249.6 413L248.8 413L248 413L247.2 413L246.4 413L245.6 413L244.8 413L244 413L243.2 413L242.4 413L241.6 413L240.8 413L240 413L239.2 408.9L238.4 413L237.6 413L236.8 413L236 413L235.2 413L234.4 413L233.6 413L232.8 413L232 413L231.2 413L230.4 413L229.6 413L228.8 413L228 413L227.2 413L226.4 399L225.6 403.2L224.8 413L224 413L223.2 401.2L222.4 403.1L221.6 402.5L220.8 404.1L220 413L219.2 413L218.4 403.5L217.6 413L216.8 403.3L216 405.5L215.2 408L214.4 401.2L213.6 399L212.8 413L212 405L211.2 404L210.4 413L209.6 413L208.8 413L208 400.4L207.2 413L206.4 413L205.6 400.7L204.8 402.1L204 402.4L203.2 413L202.4 405L201.6 413L200.8 401.1L200 400.5L199.2 413L198.4 413L197.6 413L196.8 408.1L196 400.5L195.2 406.4L194.4 397.5L193.6 397.3L192.8 402.9L192 404.5L191.2 408.2L190.4 408L189.6 406.5L188.8 400.1L188 404.7L187.2 413L186.4 402.3L185.6 405L184.8 413L184 399.8L183.2 413L182.4 413L181.6 407.6L180.8 406.4L180 403.5L179.2 407.9L178.4 399.4L177.6 398.2L176.8 413L176 404.6L175.2 407L174.4 398.3L173.6 413L172.8 413L172 398.2L171.2 413L170.4 404.8L169.6 399.9L168.8 413L168 407.4L167.2 413L166.4 406.4L165.6 413L164.8 413L164 413L163.2 413L162.4 413L161.6 413L160.8 413L160 413L159.2 413L158.4 413L157.6 413L156.8 413L156 413L155.2 413L154.4 407.1L153.6 413L152.8 413L152 413L151.2 413L150.4 406.6L149.6 413L148.8 413L148 413L147.2 413L146.4 398.2L145.6 402.8L144.8 413L144 405L143.2 405L142.4 405.3L141.6 413L140.8 398.3L140 413L139.2 413L138.4 407.8L137.6 399.1L136.8 405.9L136 413L135.2 399.9L134.4 400L133.6 403.9L132.8 404.6L132 413L131.2 413L130.4 406.7L129.6 406.3L128.8 398.1L128 404.2L127.2 402.9L126.4 403.2L125.6 413L124.8 413L124 407.7L123.2 405.3L122.4 404.5L121.6 403.2L120.8 404.8L120 405.3L119.2 399.1L118.4 413L117.6 406L116.8 397.7L116 398.2L115.2 413L114.4 413L113.6 413L112.8 413L112 413L111.2 406.7L110.4 413L109.6 413L108.8 413L108 413L107.2 413L106.4 413L105.6 402.5L104.8 405.8L104 413L103.2 399.6L102.4 399.9L101.6 413L100.8 399.3L100 407.8L99.2 400.8L98.4 413L97.6 401.5L96.8 413L96 413L95.2 406.8L94.4 401.8L93.6 413L92.8 397.9L92 413L91.2 413L90.4 407.8L89.6 413L88.8 413L88 403.9L87.2 404L86.4 403.7L85.6 413L84.8 413L84 399.6L83.2 400.6L82.4 403.1L81.6 413L80.8 403.6L80 413Z" stroke="none"/>
<path d="M1000 400.8L1001 403.2L1002 401.1L1003 404.8L1004 404.9L1005 404.1L1006 405.6L1007 403.3L1008 404.2L1009 403.3L1010 403.1L1011 403L1012 402L1013 404.1L1014 399.6L1015 395L1016 399.9L1017 403.3L1018 400.4L1019 399.4L1020 399.2L1021 401.1L1022 400.2L1023 401.9L1024 399.5L1025 401.3L1026 394.2L1027 400.5L1028 404.1L1029 399.1L1030 399.1L1031 400.6L1032 397.5L1033 398.2L1034 397.9L1035 399L1036 396.5L1037 400.5L1038 398.5L1039 398.4L1040 397.8L1041 397.9L1042 394.4L1043 399.7L1044 396.4L1045 398.9L1046 397.4L1047 397.2L1048 398.2L1049 399.9L1050 397.2L1051 396.4L1052 397.9L1053 393.4L1054 395.7L1055 395.5L1056 396.3L1057 394.7L1058 398L1059 396.2L1060 396.8L1061 396.5L1062 396L1063 395.4L1064 398.2L1065 397.5L1066 398.4L1067 395.9L1068 396.4L1069 396.5L1070 394.3L1071 395.7L1072 393.3L1073 393.9L1074 394.2L1075 393.8L1076 396.1L1077 395.9L1078 395.9L1079 394.8L1080 396.7L1081 396.5L1082 395.9L1083 394.4L1084 397.2L1085 393L1086 392.3L1087 392.7L1088 396.4L1089 393.6L1090 393.6L1091 390.9L1092 394L1093 392.7L1094 391L1095 395.7L1096 394.1L1097 396L1098 393.8L1099 394.6L1100 392.7L1101 394.6L1102 393L1103 391.4L1104 393.8L1105 391.7L1106 393.3L1107 393.5L1108 392.1L1109 392.9L1110 394.4L1111 394.9L1112 393.1L1113 389.6L1114 394.2L1115 395.8L1116 392.7L1117 391.8L1118 393.5L1119 393.4L1120 394.4L1121 392.1L1122 395.7L1123 389.8L1124 391.6L1125 394.7L1126 392.9L1127 394.2L1128 393.7L1129 393.2L1130 393.6L1131 392.5L1132 392L1133 392.8L1134 392.7L1135 393.7L1136 393.4L1137 390.7L1138 394.4L1139 393.1L1140 394.5L1141 394.2L1142 393.6L1143 394L1144 391L1145 395.5L1146 396.1L1147 394.2L1148 392.4L1149 394.3L1150 392.7L1151 395.7L1152 392.6L1153 391.5L1154 392L1155 392.1L1156 394.3L1157 393.2L1158 393.7L1159 392.8L1160 395.2L1161 393.3L1162 393.6L1163 395.6L1164 393.7L1165 392.5L1166 392.9L1167 395L1168 393.9L1169 391.5L1170 395.1L1171 391.1L1172 390.1L1173 391.9L1174 390.5L1175 393L1176 393.4L1177 392.9L1178 392.5L1179 391.8L1180 394.7L1181 390.4L1182 394.5L1183 393.8L1184 393.3L1185 394L1186 390.7L1187 394.8L1188 394.2L1189 395.1L1190 390.3L1191 393.8L1192 393.2L1193 390L1194 392.9L1195 393.5L1196 392.2L1197 394L1198 394.3L1199 392.8L1200 392.9L1201 393.6L1202 392L1203 394.2L1204 395.4L1205 393.4L1206 394L1207 393.5L1208 394.7L1209 391.2L1210 390.9L1211 392.2L1212 392.6L1213 394.9L1214 395.5L1215 394.4L1216 395.4L1217 392.9L1218 392.7L1219 391.2L1220 395.3L1221 394.3L1222 393.5L1223 391.5L1224 392L1225 394.3L1226 393.5L1227 395.2L1228 393.8L1229 392.5L1230 391.8L1231 388.6L1232 396L1233 396.5L1234 392.5L1235 394.3L1236 392.5L1237 394L1238 389.3L1239 392.6L1240 390.9L1241 395.8L1242 393L1243 394.3L1244 393.6L1245 391.6L1246 394.5L1247 395.2L1248 393.9L1249 394.4L1250 395.3L1251 394.5L1252 393.5L1253 391.2L1254 392.4L1255 392.5L1256 394.8L1257 395.7L1258 393.7L1259 395.2L1260 390.1L1261 394.1L1262 391.9L1263 395.1L1264 395.6L1265 395.4L1266 394.9L1267 395.4L1268 396.4L1269 393L1270 396.1L1271 393.3L1272 391.7L1273 394.7L1274 395L1275 394.3L1276 392.9L1277 394.7L1278 393.5L1279 397.5L1280 394.4L1281 394.5L1282 393.1L1283 394.8L1284 396.4L1285 392.8L1286 393.3L1287 391L1288 393.8L1289 396.3L1290 392.1L1291 393.3L1292 392.8L1293 393.5L1294 391.6L1295 393.3L1296 392.2L1297 394.2L1298 395.3L1299 395L1300 391.1L1301 395.9L1302 395L1303 395.6L1304 392.6L1305 393L1306 394.9L1307 396.5L1308 392.5L1309 394.3L1310 394.6L1311 393.4L1312 394.5L1313 393.2L1314 395.9L1315 391.5L1316 394.4L1317 393.2L1318 393.9L1319 392.6L1320 389.5L1321 396.2L1322 395.1L1323 394.6L1324 394L1325 394.5L1326 393L1327 394.2L1328 396.1L1329 393.1L1330 392.8L1331 396.8L1332 393.3L1333 394.4L1334 393.8L1335 395L1336 395L1337 394.3L1338 392.6L1339 392.7L1340 394.2L1340 410.6L1339 418.1L1338 418.4L1337 413.1L1336 418.3L1335 410.3L1334 411.2L1333 412.6L1332 419L1331 409.9L1330 422.7L1329 411.9L1328 410.2L1327 413.2L1326 410.5L1325 414.9L1324 412L1323 412.2L1322 417.1L1321 417.7L1320 414.9L1319 415L1318 416.5L1317 416.9L1316 416.7L1315 414.7L1314 414.6L1313 412.2L1312 411.3L1311 418.4L1310 417.1L1309 415.7L1308 416.4L1307 408.2L1306 413.9L1305 412.6L1304 415.7L1303 413.5L1302 415.9L1301 412.7L1300 419.8L1299 410.1L1298 416.2L1297 412.5L1296 409.8L1295 415.4L1294 407.6L1293 421.2L1292 420.1L1291 420.4L1290 417.9L1289 418L1288 422.2L1287 417.4L1286 417.8L1285 417.2L1284 414.7L1283 412.7L1282 412.6L1281 415.7L1280 419L1279 410.9L1278 411.4L1277 410L1276 420.1L1275 415.5L1274 416.2L1273 413.1L1272 412.4L1271 413.2L1270 412.7L1269 412.3L1268 409.2L1267 414.2L1266 420.2L1265 414L1264 412.3L1263 413.4L1262 412.7L1261 416.7L1260 414.9L1259 415.3L1258 414.3L1257 415.3L1256 414L1255 416.7L1254 414L1253 415.8L1252 413.6L1251 416.2L1250 414.6L1249 414.8L1248 416.7L1247 426.8L1246 412.3L1245 411.6L1244 411.4L1243 413.1L1242 412.1L1241 415.9L1240 416.7L1239 412.6L1238 410.7L1237 415L1236 419.3L1235 410L1234 412L1233 411.1L1232 411.3L1231 412.7L1230 414.9L1229 411.4L1228 411.8L1227 412.2L1226 412.1L1225 414.1L1224 413.1L1223 412.3L1222 410.3L1221 409.9L1220 416.1L1219 415L1218 412L1217 417.1L1216 413.4L1215 424.7L1214 412.7L1213 413.8L1212 417L1211 418.2L1210 422.6L1209 417.4L1208 411.1L1207 416L1206 410.6L1205 411.9L1204 419.5L1203 414.5L1202 417.1L1201 414.3L1200 415.4L1199 414.1L1198 411.1L1197 414.3L1196 412.4L1195 413.9L1194 411.3L1193 415.3L1192 411.8L1191 419.3L1190 415.9L1189 417.1L1188 417.1L1187 413.9L1186 417.6L1185 413.4L1184 412L1183 416.8L1182 412L1181 413.7L1180 412.2L1179 412.4L1178 411.7L1177 413.6L1176 418L1175 412.7L1174 410.9L1173 417.8L1172 416.2L1171 414.4L1170 414.4L1169 413L1168 412.3L1167 413.8L1166 418.5L1165 414.5L1164 417.1L1163 414.3L1162 416.6L1161 417.3L1160 411.9L1159 413.9L1158 419.1L1157 414L1156 416.6L1155 412.6L1154 413.7L1153 415.7L1152 417.2L1151 412.6L1150 424.1L1149 416.2L1148 415.3L1147 418.4L1146 415.4L1145 413L1144 411.8L1143 416L1142 418.8L1141 411.3L1140 414.1L1139 415.8L1138 407.2L1137 415.8L1136 413.3L1135 415.7L1134 406.9L1133 413.6L1132 413.5L1131 412.6L1130 415.2L1129 417.9L1128 412.3L1127 418L1126 415.5L1125 416.1L1124 416.7L1123 411.2L1122 414.4L1121 419.9L1120 413.8L1119 415.9L1118 410.6L1117 412.4L1116 414.7L1115 414.9L1114 415.7L1113 413.7L1112 420.2L1111 416.4L1110 411.8L1109 419.6L1108 418L1107 409.8L1106 411.8L1105 410.3L1104 414.1L1103 413L1102 417.5L1101 416.7L1100 421.9L1099 416.7L1098 416L1097 413.6L1096 412.7L1095 412L1094 417.4L1093 413.8L1092 415.3L1091 413.2L1090 410.2L1089 414.1L1088 411L1087 411.7L1086 424L1085 415.7L1084 416.4L1083 411.4L1082 412.6L1081 411.9L1080 414.3L1079 409.9L1078 411.3L1077 411.5L1076 414.4L1075 412.1L1074 409.7L1073 412L1072 415.3L1071 414.2L1070 413.2L1069 419.5L1068 415.5L1067 409.3L1066 415.4L1065 417.8L1064 414.9L1063 413.2L1062 410.2L1061 412.4L1060 413.3L1059 411.7L1058 410.7L1057 418L1056 411.4L1055 408.9L1054 408.3L1053 414.2L1052 407.3L1051 411.8L1050 408.7L1049 414.6L1048 409.8L1047 407.4L1046 410.2L1045 414.2L1044 409.9L1043 412.2L1042 409.5L1041 414.3L1040 407.5L1039 411.6L1038 414.4L1037 411.6L1036 405.9L1035 412.7L1034 410.8L1033 411.9L1032 410.1L1031 412.8L1030 408.6L1029 411.2L1028 408.4L1027 411.2L1026 414.8L1025 417.4L1024 409.6L1023 410.8L1022 417L1021 412.9L1020 409.9L1019 411.3L1018 411.3L1017 414.6L1016 414.6L1015 411.9L1014 414.8L1013 408.6L1012 409.8L1011 411.8L1010 411.4L1009 409.2L1008 409.5L1007 407.5L1006 404.8L1005 414.5L1004 410.7L1003 413.1L1002 409.3L1001 410L1000 410.1Z" stroke="none"/>
<path d="M147.9 390L150.3 390L150.3 392L152.8 392L152.8 387L155.2 387L155.2 390L157.7 390L157.7 390L160.1 390L160.1 392L162.6 392L162.6 390L165 390L165 392L167.5 392L167.5 390L169.9 390L169.9 389L172.4 389L172.4 391L174.8 391L174.8 393L177.3 393L177.3 391L179.8 391L179.8 393L182.2 393L182.2 390L184.7 390L184.7 390L187.1 390L187.1 390L189.6 390L189.6 390L192.1 390L192.1 390L194.5 390L194.5 390L197 390L197 389L199.4 389L199.4 389L201.9 389L201.9 393L204.4 393L204.4 392L206.8 392L206.8 390L209.3 390L209.3 390L211.8 390L211.8 388L214.2 388L214.2 392L216.7 392L216.7 390L219.2 390L219.2 394L221.6 394L221.6 388L224.1 388L224.1 391L226.6 391L226.6 393L229.1 393L229.1 390L231.5 390L231.5 394L234 394L234 392L236.5 392L236.5 392L239 392L239 389L241.4 389L241.4 392L243.9 392L243.9 392L246.4 392L246.4 391L248.9 391L248.9 393L251.4 393L251.4 391L253.8 391L253.8 387L256.3 387L256.3 386L258.8 386L258.8 383L261.3 383L261.3 377L263.8 377L263.8 379L266.2 379L266.2 374L268.7 374L268.7 374L271.2 374L271.2 363L273.7 363L273.7 365L276.2 365L276.2 369L278.7 369L278.7 366L281.2 366L281.2 359L283.7 359L283.7 370L286.1 370L286.1 367L288.6 367L288.6 358L291.1 358L291.1 350L293.6 350L293.6 364L296.1 364L296.1 356L298.6 356L298.6 363L301.1 363L301.1 365L303.6 365L303.6 353L306.1 353L306.1 353L308.6 353L308.6 359L311.1 359L311.1 350L313.6 350L313.6 337L316.1 337L316.1 354L318.6 354L318.6 351L321.1 351L321.1 344L323.6 344L323.6 351L326.1 351L326.1 344L328.6 344L328.6 343L331.1 343L331.1 350L333.6 350L333.6 334L336.1 334L336.1 332L338.6 332L338.6 341L341.1 341L341.1 332L343.6 332L343.6 347L346.1 347L346.1 335L348.6 335L348.6 327L351.2 327L351.2 335L353.7 335L353.7 322L356.2 322L356.2 346L358.7 346L358.7 336L361.2 336L361.2 340L363.7 340L363.7 338L366.2 338L366.2 335L368.8 335L368.8 325L371.3 325L371.3 337L373.8 337L373.8 329L376.3 329L376.3 325L378.8 325L378.8 315L381.3 315L381.3 338L383.9 338L383.9 326L386.4 326L386.4 324L388.9 324L388.9 313L391.4 313L391.4 332L394 332L394 324L396.5 324L396.5 331L399 331L399 323L401.5 323L401.5 316L404.1 316L404.1 326L406.6 326L406.6 310L409.1 310L409.1 309L411.6 309L411.6 319L414.2 319L414.2 324L416.7 324L416.7 325L419.2 325L419.2 316L421.8 316L421.8 315L424.3 315L424.3 317L426.8 317L426.8 313L429.4 313L429.4 310L431.9 310L431.9 316L434.4 316L434.4 308L437 308L437 310L439.5 310L439.5 319L442.1 319L442.1 311L444.6 311L444.6 305L447.1 305L447.1 313L449.7 313L449.7 306L452.2 306L452.2 311L454.8 311L454.8 300L457.3 300L457.3 299L459.9 299L459.9 294L462.4 294L462.4 311L464.9 311L464.9 313L467.5 313L467.5 310L470 310L470 304L472.6 304L472.6 302L475.1 302L475.1 298L477.7 298L477.7 303L480.2 303L480.2 297L482.8 297L482.8 290L485.3 290L485.3 304L487.9 304L487.9 302L490.5 302L490.5 299L493 299L493 294L495.6 294L495.6 291L498.1 291L498.1 293L500.7 293L500.7 293L503.2 293L503.2 283L505.8 283L505.8 287L508.4 287L508.4 282L510.9 282L510.9 297L513.5 297L513.5 278L516 278L516 279L518.6 279L518.6 280L521.2 280L521.2 287L523.7 287L523.7 278L526.3 278L526.3 296L528.9 296L528.9 288L531.4 288L531.4 266L534 266L534 283L536.6 283L536.6 283L539.1 283L539.1 271L541.7 271L541.7 279L544.3 279L544.3 279L546.8 279L546.8 273L549.4 273L549.4 276L552 276L552 279L554.6 279L554.6 272L557.1 272L557.1 274L559.7 274L559.7 266L562.3 266L562.3 278L564.9 278L564.9 269L567.5 269L567.5 282L570 282L570 288L572.6 288L572.6 285L575.2 285L575.2 270L577.8 270L577.8 276L580.4 276L580.4 271L582.9 271L582.9 276L585.5 276L585.5 267L588.1 267L588.1 266L590.7 266L590.7 273L593.3 273L593.3 267L595.9 267L595.9 282L598.5 282L598.5 278L601 278L601 276L603.6 276L603.6 272L606.2 272L606.2 272L608.8 272L608.8 280L611.4 280L611.4 274L614 274L614 274L616.6 274L616.6 287L619.2 287L619.2 275L621.8 275L621.8 272L624.4 272L624.4 273L627 273L627 284L629.6 284L629.6 271L632.2 271L632.2 272L634.8 272L634.8 283L637.4 283L637.4 284L640 284L640 286L642.6 286L642.6 270L645.2 270L645.2 280L647.8 280L647.8 273L650.4 273L650.4 280L653 280L653 266L655.6 266L655.6 276L658.2 276L658.2 285L660.8 285L660.8 279L663.4 279L663.4 261L666 261L666 286L668.7 286L668.7 281L671.3 281L671.3 277L673.9 277L673.9 280L676.5 280L676.5 279L679.1 279L679.1 290L681.7 290L681.7 283L684.3 283L684.3 272L686.9 272L686.9 279L689.6 279L689.6 297L692.2 297L692.2 294L694.8 294L694.8 293L697.4 293L697.4 283L700 283L700 293L702.7 293L702.7 297L705.3 297L705.3 291L707.9 291L707.9 297L710.5 297L710.5 301L713.2 301L713.2 301L715.8 301L715.8 298L718.4 298L718.4 298L721 298L721 287L723.7 287L723.7 295L726.3 295L726.3 304L728.9 304L728.9 311L731.6 311L731.6 301L734.2 301L734.2 308L736.8 308L736.8 301L739.5 301L739.5 295L742.1 295L742.1 306L744.7 306L744.7 307L747.4 307L747.4 299L750 299L750 300L752.6 300L752.6 307L755.3 307L755.3 304L757.9 304L757.9 312L760.5 312L760.5 300L763.2 300L763.2 316L765.8 316L765.8 307L768.5 307L768.5 314L771.1 314L771.1 302L773.8 302L773.8 320L776.4 320L776.4 316L779.1 316L779.1 330L781.7 330L781.7 305L784.3 305L784.3 305L787 305L787 323L789.6 323L789.6 325L792.3 325L792.3 308L794.9 308L794.9 325L797.6 325L797.6 328L800.2 328L800.2 333L802.9 333L802.9 325L805.6 325L805.6 314L808.2 314L808.2 312L810.9 312L810.9 341L813.5 341L813.5 330L816.2 330L816.2 335L818.8 335L818.8 327L821.5 327L821.5 328L824.2 328L824.2 329L826.8 329L826.8 325L829.5 325L829.5 331L832.1 331L832.1 326L834.8 326L834.8 332L837.5 332L837.5 343L840.1 343L840.1 337L842.8 337L842.8 333L845.5 333L845.5 350L848.1 350L848.1 348L850.8 348L850.8 340L853.5 340L853.5 329L856.2 329L856.2 351L858.8 351L858.8 352L861.5 352L861.5 339L864.2 339L864.2 354L866.8 354L866.8 339L869.5 339L869.5 344L872.2 344L872.2 344L874.9 344L874.9 349L877.5 349L877.5 347L880.2 347L880.2 359L882.9 359L882.9 348L885.6 348L885.6 354L888.3 354L888.3 352L891 352L891 354L893.6 354L893.6 347L896.3 347L896.3 354L899 354L899 365L901.7 365L901.7 362L904.4 362L904.4 349L907.1 349L907.1 355L909.7 355L909.7 352L912.4 352L912.4 355L915.1 355L915.1 357L917.8 357L917.8 354L920.5 354L920.5 366L923.2 366L923.2 369L925.9 369L925.9 366L928.6 366L928.6 363L931.3 363L931.3 368L934 368L934 363L936.7 363L936.7 374L939.4 374L939.4 382L942.1 382L942.1 357L944.8 357L944.8 374L947.5 374L947.5 373L950.2 373L950.2 375L952.9 375L952.9 373L955.6 373L955.6 369L958.3 369L958.3 376L961 376L961 376L963.7 376L963.7 377L966.4 377L966.4 379L969.1 379L969.1 377L971.8 377L971.8 389L974.5 389L974.5 376L977.2 376L977.2 380L979.9 380L979.9 377L982.7 377L982.7 382L985.4 382L985.4 388L988.1 388L988.1 383L990.8 383L990.8 382L993.5 382L993.5 381L996.2 381L996.2 387L998.9 387L998.9 384L1001.7 384L1001.7 388L1004.4 388L1004.4 385L1007.1 385L1007.1 386L1009.8 386L1009.8 387L1012.5 387L1012.5 384L1015.3 384L1015.3 391L1018 391L1018 386L1020.7 386L1020.7 389L1023.4 389L1023.4 391L1026.2 391L1026.2 396L1028.9 396L1028.9 391L1031.6 391L1031.6 392L1034.3 392L1034.3 389L1037.1 389L1037.1 390L1039.8 390L1039.8 391L1042.5 391L1042.5 393L1045.3 393L1045.3 388L1048 388L1048 392L1050.7 392L1050.7 398L1053.5 398L1053.5 389L1056.2 389L1056.2 387L1058.9 387L1058.9 390L1061.7 390L1061.7 391L1064.4 391L1064.4 396L1067.2 396L1067.2 393L1069.9 393L1069.9 395L1072.6 395L1072.6 390L1075.4 390L1075.4 392L1078.1 392L1078.1 393L1080.9 393L1080.9 391L1083.6 391L1083.6 393L1086.3 393L1086.3 392L1089.1 392L1089.1 394L1091.8 394L1091.8 390L1094.6 390L1094.6 388L1097.3 388L1097.3 397L1100.1 397L1100.1 394L1102.8 394L1102.8 393L1105.6 393L1105.6 400L1108.3 400L1108.3 397L1111.1 397L1111.1 395L1113.9 395L1113.9 393L1116.6 393L1116.6 395L1119.4 395L1119.4 395L1122.1 395L1122.1 394L1124.9 394L1124.9 398L1127.6 398L1127.6 396L1130.4 396L1130.4 396L1133.2 396L1133.2 392L1135.9 392L1135.9 393L1138.7 393L1138.7 397L1141.4 397L1141.4 395L1144.2 395L1144.2 393L1147 393L1147 395L1149.7 395L1149.7 395L1152.5 395L1152.5 394L1155.3 394L1155.3 394L1158 394L1158 397L1160.8 397L1160.8 396L1163.6 396L1163.6 393L1166.4 393L1166.4 393L1169.1 393L1169.1 396L1171.9 396L1171.9 392L1174.7 392L1174.7 395L1177.5 395L1177.5 395L1180.2 395L1180.2 392L1183 392L1183 389L1185.8 389L1185.8 393L1188.6 393L1188.6 395L1191.3 395L1191.3 395L1194.1 395L1194.1 398L1196.9 398L1196.9 395L1199.7 395L1199.7 395L1202.5 395L1202.5 396L1205.3 396L1205.3 394L1208 394L1208 400L1210.8 400L1210.8 394L1213.6 394L1213.6 393L1216.4 393L1216.4 394L1219.2 394L1219.2 399L1222 399L1222 394L1224.8 394L1224.8 394L1227.6 394L1227.6 397L1230.4 397L1230.4 399L1233.1 399L1233.1 395L1235.9 395L1235.9 398L1238.7 398L1238.7 394L1241.5 394L1241.5 399L1244.3 399L1244.3 393L1247.1 393L1247.1 413L1244.3 413L1244.3 416L1241.5 416L1241.5 416L1238.7 416L1238.7 409L1235.9 409L1235.9 412L1233.1 412L1233.1 413L1230.4 413L1230.4 418L1227.6 418L1227.6 410L1224.8 410L1224.8 411L1222 411L1222 412L1219.2 412L1219.2 412L1216.4 412L1216.4 409L1213.6 409L1213.6 416L1210.8 416L1210.8 412L1208 412L1208 415L1205.3 415L1205.3 409L1202.5 409L1202.5 415L1199.7 415L1199.7 417L1196.9 417L1196.9 410L1194.1 410L1194.1 410L1191.3 410L1191.3 413L1188.6 413L1188.6 410L1185.8 410L1185.8 413L1183 413L1183 410L1180.2 410L1180.2 413L1177.5 413L1177.5 410L1174.7 410L1174.7 415L1171.9 415L1171.9 411L1169.1 411L1169.1 409L1166.4 409L1166.4 408L1163.6 408L1163.6 412L1160.8 412L1160.8 413L1158 413L1158 409L1155.3 409L1155.3 411L1152.5 411L1152.5 408L1149.7 408L1149.7 408L1147 408L1147 412L1144.2 412L1144.2 413L1141.4 413L1141.4 407L1138.7 407L1138.7 410L1135.9 410L1135.9 415L1133.2 415L1133.2 407L1130.4 407L1130.4 411L1127.6 411L1127.6 413L1124.9 413L1124.9 408L1122.1 408L1122.1 409L1119.4 409L1119.4 406L1116.6 406L1116.6 408L1113.9 408L1113.9 418L1111.1 418L1111.1 408L1108.3 408L1108.3 408L1105.6 408L1105.6 411L1102.8 411L1102.8 407L1100.1 407L1100.1 412L1097.3 412L1097.3 405L1094.6 405L1094.6 409L1091.8 409L1091.8 408L1089.1 408L1089.1 405L1086.3 405L1086.3 408L1083.6 408L1083.6 415L1080.9 415L1080.9 405L1078.1 405L1078.1 405L1075.4 405L1075.4 406L1072.6 406L1072.6 405L1069.9 405L1069.9 407L1067.2 407L1067.2 402L1064.4 402L1064.4 404L1061.7 404L1061.7 405L1058.9 405L1058.9 407L1056.2 407L1056.2 404L1053.5 404L1053.5 409L1050.7 409L1050.7 406L1048 406L1048 407L1045.3 407L1045.3 405L1042.5 405L1042.5 405L1039.8 405L1039.8 401L1037.1 401L1037.1 401L1034.3 401L1034.3 398L1031.6 398L1031.6 405L1028.9 405L1028.9 405L1026.2 405L1026.2 405L1023.4 405L1023.4 408L1020.7 408L1020.7 403L1018 403L1018 407L1015.3 407L1015.3 404L1012.5 404L1012.5 408L1009.8 408L1009.8 400L1007.1 400L1007.1 406L1004.4 406L1004.4 396L1001.7 396L1001.7 404L998.9 404L998.9 402L996.2 402L996.2 401L993.5 401L993.5 400L990.8 400L990.8 403L988.1 403L988.1 404L985.4 404L985.4 403L982.7 403L982.7 401L979.9 401L979.9 406L977.2 406L977.2 396L974.5 396L974.5 406L971.8 406L971.8 404L969.1 404L969.1 402L966.4 402L966.4 407L963.7 407L963.7 395L961 395L961 394L958.3 394L958.3 403L955.6 403L955.6 394L952.9 394L952.9 398L950.2 398L950.2 400L947.5 400L947.5 388L944.8 388L944.8 404L942.1 404L942.1 400L939.4 400L939.4 400L936.7 400L936.7 394L934 394L934 393L931.3 393L931.3 392L928.6 392L928.6 383L925.9 383L925.9 397L923.2 397L923.2 404L920.5 404L920.5 387L917.8 387L917.8 386L915.1 386L915.1 396L912.4 396L912.4 407L909.7 407L909.7 398L907.1 398L907.1 394L904.4 394L904.4 390L901.7 390L901.7 402L899 402L899 388L896.3 388L896.3 385L893.6 385L893.6 380L891 380L891 389L888.3 389L888.3 396L885.6 396L885.6 382L882.9 382L882.9 377L880.2 377L880.2 385L877.5 385L877.5 381L874.9 381L874.9 398L872.2 398L872.2 373L869.5 373L869.5 383L866.8 383L866.8 370L864.2 370L864.2 385L861.5 385L861.5 373L858.8 373L858.8 373L856.2 373L856.2 368L853.5 368L853.5 383L850.8 383L850.8 365L848.1 365L848.1 385L845.5 385L845.5 382L842.8 382L842.8 379L840.1 379L840.1 380L837.5 380L837.5 372L834.8 372L834.8 364L832.1 364L832.1 383L829.5 383L829.5 377L826.8 377L826.8 364L824.2 364L824.2 369L821.5 369L821.5 375L818.8 375L818.8 365L816.2 365L816.2 368L813.5 368L813.5 367L810.9 367L810.9 356L808.2 356L808.2 366L805.6 366L805.6 365L802.9 365L802.9 358L800.2 358L800.2 362L797.6 362L797.6 361L794.9 361L794.9 360L792.3 360L792.3 353L789.6 353L789.6 347L787 347L787 350L784.3 350L784.3 354L781.7 354L781.7 365L779.1 365L779.1 352L776.4 352L776.4 353L773.8 353L773.8 352L771.1 352L771.1 349L768.5 349L768.5 355L765.8 355L765.8 342L763.2 342L763.2 344L760.5 344L760.5 343L757.9 343L757.9 340L755.3 340L755.3 356L752.6 356L752.6 346L750 346L750 341L747.4 341L747.4 352L744.7 352L744.7 354L742.1 354L742.1 335L739.5 335L739.5 344L736.8 344L736.8 339L734.2 339L734.2 333L731.6 333L731.6 332L728.9 332L728.9 331L726.3 331L726.3 332L723.7 332L723.7 334L721 334L721 322L718.4 322L718.4 326L715.8 326L715.8 333L713.2 333L713.2 339L710.5 339L710.5 334L707.9 334L707.9 328L705.3 328L705.3 322L702.7 322L702.7 330L700 330L700 327L697.4 327L697.4 318L694.8 318L694.8 313L692.2 313L692.2 319L689.6 319L689.6 322L686.9 322L686.9 315L684.3 315L684.3 327L681.7 327L681.7 326L679.1 326L679.1 311L676.5 311L676.5 314L673.9 314L673.9 308L671.3 308L671.3 326L668.7 326L668.7 313L666 313L666 318L663.4 318L663.4 317L660.8 317L660.8 312L658.2 312L658.2 316L655.6 316L655.6 315L653 315L653 316L650.4 316L650.4 313L647.8 313L647.8 319L645.2 319L645.2 311L642.6 311L642.6 300L640 300L640 302L637.4 302L637.4 317L634.8 317L634.8 316L632.2 316L632.2 303L629.6 303L629.6 303L627 303L627 302L624.4 302L624.4 312L621.8 312L621.8 312L619.2 312L619.2 315L616.6 315L616.6 306L614 306L614 315L611.4 315L611.4 307L608.8 307L608.8 297L606.2 297L606.2 308L603.6 308L603.6 307L601 307L601 309L598.5 309L598.5 299L595.9 299L595.9 294L593.3 294L593.3 305L590.7 305L590.7 308L588.1 308L588.1 305L585.5 305L585.5 284L582.9 284L582.9 308L580.4 308L580.4 307L577.8 307L577.8 305L575.2 305L575.2 312L572.6 312L572.6 302L570 302L570 300L567.5 300L567.5 303L564.9 303L564.9 304L562.3 304L562.3 314L559.7 314L559.7 309L557.1 309L557.1 297L554.6 297L554.6 305L552 305L552 314L549.4 314L549.4 298L546.8 298L546.8 312L544.3 312L544.3 315L541.7 315L541.7 311L539.1 311L539.1 325L536.6 325L536.6 312L534 312L534 315L531.4 315L531.4 306L528.9 306L528.9 311L526.3 311L526.3 319L523.7 319L523.7 323L521.2 323L521.2 320L518.6 320L518.6 322L516 322L516 308L513.5 308L513.5 323L510.9 323L510.9 318L508.4 318L508.4 312L505.8 312L505.8 320L503.2 320L503.2 332L500.7 332L500.7 311L498.1 311L498.1 320L495.6 320L495.6 326L493 326L493 330L490.5 330L490.5 326L487.9 326L487.9 322L485.3 322L485.3 337L482.8 337L482.8 322L480.2 322L480.2 321L477.7 321L477.7 328L475.1 328L475.1 337L472.6 337L472.6 335L470 335L470 336L467.5 336L467.5 337L464.9 337L464.9 328L462.4 328L462.4 336L459.9 336L459.9 322L457.3 322L457.3 341L454.8 341L454.8 332L452.2 332L452.2 343L449.7 343L449.7 342L447.1 342L447.1 333L444.6 333L444.6 347L442.1 347L442.1 328L439.5 328L439.5 334L437 334L437 340L434.4 340L434.4 350L431.9 350L431.9 343L429.4 343L429.4 341L426.8 341L426.8 359L424.3 359L424.3 348L421.8 348L421.8 343L419.2 343L419.2 341L416.7 341L416.7 357L414.2 357L414.2 353L411.6 353L411.6 361L409.1 361L409.1 358L406.6 358L406.6 357L404.1 357L404.1 360L401.5 360L401.5 355L399 355L399 364L396.5 364L396.5 343L394 343L394 359L391.4 359L391.4 372L388.9 372L388.9 364L386.4 364L386.4 354L383.9 354L383.9 370L381.3 370L381.3 365L378.8 365L378.8 368L376.3 368L376.3 367L373.8 367L373.8 362L371.3 362L371.3 365L368.8 365L368.8 370L366.2 370L366.2 363L363.7 363L363.7 367L361.2 367L361.2 362L358.7 362L358.7 374L356.2 374L356.2 365L353.7 365L353.7 373L351.2 373L351.2 382L348.6 382L348.6 370L346.1 370L346.1 375L343.6 375L343.6 376L341.1 376L341.1 364L338.6 364L338.6 368L336.1 368L336.1 375L333.6 375L333.6 366L331.1 366L331.1 381L328.6 381L328.6 398L326.1 398L326.1 394L323.6 394L323.6 374L321.1 374L321.1 385L318.6 385L318.6 382L316.1 382L316.1 387L313.6 387L313.6 394L311.1 394L311.1 391L308.6 391L308.6 382L306.1 382L306.1 391L303.6 391L303.6 385L301.1 385L301.1 390L298.6 390L298.6 400L296.1 400L296.1 392L293.6 392L293.6 388L291.1 388L291.1 393L288.6 393L288.6 399L286.1 399L286.1 388L283.7 388L283.7 389L281.2 389L281.2 387L278.7 387L278.7 393L276.2 393L276.2 400L273.7 400L273.7 394L271.2 394L271.2 402L268.7 402L268.7 398L266.2 398L266.2 394L263.8 394L263.8 396L261.3 396L261.3 399L258.8 399L258.8 398L256.3 398L256.3 398L253.8 398L253.8 398L251.4 398L251.4 397L248.9 397L248.9 394L246.4 394L246.4 397L243.9 397L243.9 398L241.4 398L241.4 396L239 396L239 398L236.5 398L236.5 397L234 397L234 399L231.5 399L231.5 396L229.1 396L229.1 396L226.6 396L226.6 399L224.1 399L224.1 398L221.6 398L221.6 400L219.2 400L219.2 397L216.7 397L216.7 394L214.2 394L214.2 397L211.8 397L211.8 396L209.3 396L209.3 397L206.8 397L206.8 396L204.4 396L204.4 394L201.9 394L201.9 396L199.4 396L199.4 397L197 397L197 396L194.5 396L194.5 395L192.1 395L192.1 399L189.6 399L189.6 396L187.1 396L187.1 398L184.7 398L184.7 395L182.2 395L182.2 396L179.8 396L179.8 396L177.3 396L177.3 396L174.8 396L174.8 398L172.4 398L172.4 397L169.9 397L169.9 396L167.5 396L167.5 398L165 398L165 397L162.6 397L162.6 400L160.1 400L160.1 396L157.7 396L157.7 398L155.2 398L155.2 397L152.8 397L152.8 396L150.3 396L150.3 396L147.9 396Z" stroke="none"/>
<path d="M145.43 400L145.95 398L146.15 390L146.53 385L146.56 351L146.58 334L146.72 334L146.74 349L146.78 374L147.15 389L147.35 401L147.88 400L148.4 399L148.6 389L148.98 384L149.01 353L149.03 340L149.17 340L149.19 353L149.22 377L149.6 390L149.8 404L150.33 403L150.85 402L151.05 391L151.48 372L151.62 372L152.05 391L152.25 398L152.77 406L153.3 405L153.5 392L153.88 386L153.91 355L153.93 340L154.07 340L154.09 356L154.12 377L154.5 389L154.7 394L154.88 399L155.22 400L155.75 397L155.95 390L156.33 379L156.36 355L156.38 340L156.52 340L156.54 357L156.57 384L156.95 395L157.15 396L157.67 400L158.2 398L158.4 389L158.78 382L158.81 363L158.83 354L158.97 354L158.99 363L159.02 386L159.4 391L159.6 399L160.13 399L160.47 400L160.65 395L160.85 391L161.28 372L161.42 372L161.85 390L162.05 392L162.23 398L162.58 401L163.1 400L163.3 390L163.68 380L163.71 351L163.73 339L163.87 339L163.89 351L163.93 381L164.3 389L164.5 401L165.03 400L165.56 398L165.76 390L166.13 376L166.17 356L166.19 343L166.33 343L166.35 359L166.38 380L166.76 391L166.96 393L167.14 398L167.48 402L168.01 401L168.21 389L168.59 375L168.62 353L168.64 332L168.78 332L168.8 351L168.83 384L169.21 394L169.41 395L169.59 397L169.94 400L170.46 397L170.66 391L171.04 382L171.07 364L171.09 351L171.23 351L171.26 362L171.29 380L171.66 391L171.86 397L172.39 402L172.92 401L173.12 393L173.5 384L173.53 369L173.55 356L173.69 356L173.71 367L173.74 385L174.12 391L174.32 393L174.5 398L174.85 403L175.38 402L175.58 389L175.95 379L175.98 355L176.01 339L176.15 339L176.17 354L176.2 384L176.58 390L176.78 400L177.3 400L177.65 397L177.83 394L178.03 391L178.41 375L178.44 340L178.46 327L178.6 327L178.62 344L178.66 388L179.03 392L179.23 397L179.76 400L180.11 399L180.29 396L180.49 391L180.87 374L180.9 342L180.92 322L181.06 322L181.08 345L181.11 378L181.49 392L181.69 400L182.22 400L182.75 397L182.95 390L183.33 377L183.36 341L183.38 324L183.52 324L183.54 344L183.57 383L183.95 390L184.15 391L184.33 397L184.68 400L185.21 397L185.41 389L185.79 375L185.82 337L185.84 319L185.98 319L186 338L186.03 378L186.41 391L186.61 398L187.14 400L187.67 396L187.87 392L188.24 380L188.28 339L188.3 315L188.44 315L188.46 339L188.49 380L188.87 391L189.07 393L189.25 399L189.6 400L190.13 399L190.33 389L190.71 382L190.74 361L190.76 345L190.9 345L190.92 358L190.95 385L191.33 390L191.53 400L192.06 400L192.41 399L192.59 395L192.79 390L193.17 377L193.2 341L193.22 320L193.36 320L193.38 342L193.41 377L193.79 389L193.99 398L194.52 402L195.05 401L195.25 394L195.63 382L195.66 339L195.68 316L195.82 316L195.84 337L195.87 381L196.25 388L196.45 397L196.98 404L197.51 403L197.71 388L198.09 380L198.12 347L198.14 329L198.28 329L198.31 350L198.34 381L198.71 392L198.91 397L199.45 401L199.98 396L200.18 390L200.56 378L200.59 343L200.61 325L200.75 325L200.77 347L200.8 380L201.18 388L201.38 397L201.91 403L202.44 402L202.64 393L203.02 380L203.05 342L203.07 322L203.21 322L203.23 339L203.26 375L203.64 391L203.84 392L204.02 399L204.37 408L204.91 407L205.11 392L205.48 372L205.52 333L205.54 304L205.68 304L205.7 329L205.73 375L206.11 392L206.31 393L206.49 399L206.84 400L207.37 399L207.57 390L207.95 378L207.98 342L208 318L208.14 318L208.16 340L208.2 382L208.57 389L208.77 393L208.95 399L209.31 400L209.84 396L210.04 392L210.42 375L210.45 334L210.47 307L210.61 307L210.63 334L210.66 374L211.04 391L211.24 403L211.77 401L212.13 399L212.31 393L212.51 392L212.88 385L212.92 334L212.94 306L213.08 306L213.1 333L213.13 376L213.51 392L213.71 396L213.89 398L214.24 400L214.78 397L214.98 391L215.35 381L215.38 322L215.41 298L215.55 298L215.57 327L215.6 378L215.98 392L216.18 397L216.71 399L217.06 400L217.24 390L217.44 389L217.82 378L217.85 342L217.87 322L218.01 322L218.04 343L218.07 380L218.44 391L218.64 396L219.18 405L219.71 404L219.91 389L220.29 377L220.32 340L220.34 321L220.48 321L220.51 345L220.54 381L220.91 391L221.11 402L221.65 402L222.18 401L222.38 390L222.76 375L222.79 327L222.81 304L222.95 304L222.98 333L223.01 373L223.38 389L223.58 391L223.76 397L224.12 401L224.66 397L224.86 389L225.23 371L225.27 321L225.29 288L225.43 288L225.45 318L225.48 374L225.86 391L226.06 401L226.59 399L226.95 399L227.13 395L227.33 390L227.71 370L227.74 323L227.76 292L227.9 292L227.92 322L227.95 373L228.33 390L228.53 402L229.06 400L229.42 399L229.6 394L229.8 393L230.18 367L230.21 322L230.23 294L230.37 294L230.39 327L230.42 375L230.8 391L231 394L231.18 398L231.54 400L232.07 399L232.27 389L232.65 370L232.68 319L232.7 290L232.84 290L232.87 318L232.9 368L233.27 389L233.47 402L234.01 400L234.55 398L234.75 391L235.13 372L235.16 322L235.18 292L235.32 292L235.34 319L235.37 370L235.75 388L235.95 400L236.49 400L237.02 397L237.22 392L237.6 370L237.63 328L237.65 293L237.79 293L237.81 320L237.85 378L238.22 393L238.42 396L238.96 400L239.5 396L239.7 389L240.08 370L240.11 323L240.13 292L240.27 292L240.29 319L240.32 372L240.7 390L240.9 398L241.44 399L241.8 399L241.98 391L242.18 389L242.55 375L242.59 333L242.61 304L242.75 304L242.77 331L242.8 373L243.18 390L243.38 391L243.56 398L243.92 402L244.45 401L244.65 388L245.03 372L245.06 322L245.08 291L245.22 291L245.24 322L245.28 375L245.65 392L245.85 396L246.03 397L246.39 400L246.75 397L246.93 394L247.13 393L247.51 375L247.54 324L247.56 294L247.7 294L247.72 324L247.75 377L248.13 391L248.33 394L248.51 399L248.87 401L249.41 400L249.61 393L249.99 380L250.02 327L250.04 296L250.18 296L250.2 328L250.23 378L250.61 391L250.81 399L251.35 400L251.89 398L252.09 391L252.47 376L252.5 337L252.52 315L252.66 315L252.68 338L252.71 375L253.09 390L253.29 396L253.47 398L253.83 400L254.37 399L254.57 387L254.95 372L254.98 325L255 299L255.14 299L255.16 328L255.19 372L255.57 394L255.77 398L255.95 402L256.31 401L256.67 401L256.85 396L257.05 382L257.43 371L257.46 324L257.48 297L257.62 297L257.64 328L257.67 368L258.05 382L258.25 397L258.43 403L258.79 405L259.15 403L259.33 396L259.53 381L259.68 359L259.77 293L259.83 255L260.23 255L260.29 295L260.38 360L260.53 381L260.73 400L260.91 404L261.28 414L261.64 404L261.82 396L262.02 377L262.17 350L262.26 298L262.32 261L262.72 261L262.78 299L262.87 367L263.02 384L263.22 390L263.4 405L263.76 405L264.12 403L264.3 391L264.5 373L264.65 355L264.74 292L264.8 262L265.2 262L265.26 297L265.35 352L265.5 378L265.7 398L265.88 405L266.24 404L266.61 403L266.79 401L266.99 364L267.14 345L267.23 289L267.29 259L267.69 259L267.75 295L267.84 351L267.99 374L268.19 391L268.37 405L268.73 404L269.09 402L269.27 392L269.47 373L269.62 356L269.71 298L269.77 265L270.17 265L270.23 297L270.32 347L270.47 369L270.67 392L270.85 401L271.21 402L271.58 404L271.76 396L271.96 365L272.11 349L272.2 296L272.26 264L272.66 264L272.72 300L272.81 355L272.96 377L273.16 392L273.34 403L273.7 403L274.06 403L274.24 388L274.44 372L274.59 350L274.68 300L274.74 264L275.14 264L275.2 300L275.29 354L275.44 372L275.64 394L275.82 403L276.19 407L276.55 402L276.73 393L276.93 358L277.08 339L277.17 292L277.23 265L277.63 265L277.69 297L277.78 358L277.93 377L278.13 399L278.31 402L278.67 403L279.04 403L279.22 395L279.42 371L279.57 351L279.66 295L279.72 264L280.12 264L280.18 301L280.27 360L280.42 380L280.62 397L280.8 403L281.16 405L281.53 404L281.71 392L281.91 375L282.06 354L282.15 293L282.21 257L282.61 257L282.67 291L282.76 340L282.91 361L283.11 393L283.29 402L283.65 401L284.02 403L284.2 394L284.4 370L284.55 344L284.64 295L284.7 260L285.1 260L285.16 289L285.25 344L285.4 367L285.6 397L285.78 402L286.14 403L286.51 403L286.69 387L286.89 363L287.04 346L287.13 294L287.19 258L287.59 258L287.65 293L287.74 356L287.89 373L288.09 390L288.27 402L288.63 403L289 402L289.18 397L289.38 360L289.53 340L289.62 286L289.68 257L290.08 257L290.14 286L290.23 346L290.38 359L290.58 387L290.76 403L291.13 406L291.49 401L291.67 392L291.87 358L292.02 341L292.11 288L292.17 257L292.57 257L292.63 291L292.72 343L292.87 364L293.07 386L293.25 401L293.62 408L293.98 404L294.16 389L294.36 365L294.51 344L294.6 288L294.66 254L295.06 254L295.12 283L295.21 343L295.36 362L295.56 384L295.74 402L296.11 401L296.48 402L296.66 391L296.86 360L297.01 338L297.1 284L297.16 255L297.56 255L297.62 285L297.71 340L297.86 360L298.06 396L298.24 404L298.6 402L298.97 403L299.15 391L299.35 360L299.5 337L299.59 279L299.65 251L300.05 251L300.11 281L300.2 335L300.35 357L300.55 391L300.73 402L301.1 400L301.47 404L301.65 388L301.85 353L302 335L302.09 283L302.15 252L302.55 252L302.61 283L302.7 338L302.85 356L303.05 396L303.23 402L303.6 406L303.96 403L304.14 390L304.34 356L304.49 336L304.58 282L304.64 252L305.04 252L305.1 287L305.19 343L305.34 358L305.54 387L305.72 402L306.09 404L306.46 402L306.64 398L306.84 351L306.99 334L307.08 281L307.14 249L307.54 249L307.6 283L307.69 337L307.84 356L308.04 384L308.22 402L308.59 398L308.96 403L309.14 386L309.34 356L309.49 338L309.58 293L309.64 264L310.04 264L310.1 283L310.19 331L310.34 346L310.54 388L310.72 403L311.09 400L311.46 404L311.64 391L311.84 353L311.99 339L312.08 277L312.14 248L312.54 248L312.6 279L312.69 323L312.84 349L313.04 386L313.22 403L313.59 406L313.95 404L314.13 381L314.33 349L314.48 330L314.57 281L314.63 249L315.03 249L315.09 280L315.18 331L315.33 355L315.53 389L315.71 402L316.08 405L316.45 403L316.63 384L316.83 352L316.98 333L317.07 281L317.13 246L317.53 246L317.59 272L317.68 325L317.83 349L318.03 382L318.21 403L318.58 404L318.96 403L319.14 384L319.34 346L319.49 327L319.58 275L319.64 248L320.04 248L320.1 279L320.19 339L320.34 354L320.54 384L320.72 401L321.09 404L321.46 402L321.64 379L321.84 349L321.99 328L322.08 274L322.14 245L322.54 245L322.6 279L322.69 332L322.84 348L323.04 389L323.22 403L323.59 397L323.96 403L324.14 378L324.34 345L324.49 326L324.58 272L324.64 240L325.04 240L325.1 272L325.19 319L325.34 341L325.54 382L325.72 401L326.09 402L326.46 402L326.64 376L326.84 338L326.99 320L327.08 263L327.14 237L327.54 237L327.6 271L327.69 330L327.84 351L328.04 381L328.22 401L328.59 402L328.97 402L329.15 382L329.35 350L329.5 329L329.59 268L329.65 234L330.05 234L330.11 270L330.2 321L330.35 345L330.55 386L330.73 401L331.1 402L331.47 402L331.65 378L331.85 347L332 327L332.09 268L332.15 232L332.55 232L332.61 265L332.7 323L332.85 346L333.05 374L333.23 402L333.6 405L333.98 400L334.16 380L334.36 345L334.51 321L334.6 259L334.66 222L335.06 222L335.12 260L335.21 326L335.36 350L335.56 380L335.74 400L336.11 404L336.48 401L336.66 384L336.86 343L337.01 318L337.1 264L337.16 224L337.56 224L337.62 254L337.71 321L337.86 340L338.06 376L338.24 400L338.62 405L338.99 400L339.17 377L339.37 341L339.52 327L339.61 259L339.67 223L340.07 223L340.13 259L340.22 319L340.37 343L340.57 376L340.75 399L341.12 392L341.5 400L341.68 379L341.88 343L342.03 319L342.12 261L342.18 224L342.58 224L342.64 261L342.73 319L342.88 341L343.08 377L343.26 401L343.63 399L344 401L344.18 378L344.38 338L344.53 319L344.62 257L344.68 223L345.08 223L345.14 263L345.23 316L345.38 339L345.58 377L345.76 397L346.14 398L346.51 398L346.69 368L346.89 337L347.04 317L347.13 260L347.19 229L347.59 229L347.65 264L347.74 323L347.89 340L348.09 372L348.27 398L348.65 407L349.02 399L349.2 374L349.4 337L349.55 312L349.64 260L349.7 224L350.1 224L350.16 256L350.25 322L350.4 340L350.6 374L350.78 399L351.16 398L351.53 399L351.71 376L351.91 339L352.06 313L352.15 262L352.21 227L352.61 227L352.67 262L352.76 316L352.91 335L353.11 369L353.29 398L353.67 399L354.05 397L354.23 372L354.43 336L354.58 310L354.67 260L354.73 228L355.13 228L355.19 266L355.28 322L355.43 343L355.63 368L355.81 398L356.18 404L356.56 398L356.74 369L356.94 334L357.09 313L357.18 257L357.24 220L357.64 220L357.7 253L357.79 316L357.94 330L358.14 370L358.32 400L358.7 402L359.07 397L359.25 372L359.45 335L359.6 319L359.69 258L359.75 222L360.15 222L360.21 253L360.3 309L360.45 325L360.65 365L360.83 395L361.21 389L361.59 398L361.77 369L361.97 328L362.12 310L362.21 244L362.27 218L362.67 218L362.73 254L362.82 313L362.97 334L363.17 375L363.35 397L363.72 399L364.1 397L364.28 370L364.48 338L364.63 313L364.72 256L364.78 221L365.18 221L365.24 254L365.33 316L365.48 334L365.68 368L365.86 396L366.24 402L366.62 396L366.8 374L367 331L367.15 310L367.24 258L367.3 222L367.7 222L367.76 261L367.85 319L368 345L368.2 367L368.38 396L368.75 397L369.13 397L369.31 369L369.51 337L369.66 324L369.75 256L369.81 222L370.21 222L370.27 253L370.36 312L370.51 332L370.71 373L370.89 395L371.27 400L371.65 395L371.83 366L372.03 337L372.18 317L372.27 251L372.33 211L372.73 211L372.79 253L372.88 306L373.03 327L373.23 369L373.41 396L373.79 393L374.17 395L374.35 367L374.55 326L374.7 308L374.79 246L374.85 213L375.25 213L375.31 249L375.4 307L375.55 330L375.75 361L375.93 396L376.31 390L376.69 396L376.87 363L377.07 330L377.22 306L377.31 251L377.37 215L377.77 215L377.83 249L377.92 312L378.07 331L378.27 363L378.45 395L378.83 400L379.21 395L379.39 368L379.59 329L379.74 309L379.83 250L379.89 217L380.29 217L380.35 253L380.44 315L380.59 330L380.79 364L380.97 393L381.35 397L381.73 394L381.91 363L382.11 328L382.26 313L382.35 250L382.41 215L382.81 215L382.87 247L382.96 305L383.11 324L383.31 360L383.49 394L383.87 399L384.25 395L384.43 369L384.63 326L384.78 305L384.87 244L384.93 211L385.33 211L385.39 247L385.48 311L385.63 330L385.83 365L386.01 393L386.39 394L386.77 395L386.95 354L387.15 327L387.3 304L387.39 245L387.45 212L387.85 212L387.91 245L388 301L388.15 323L388.35 360L388.53 394L388.91 390L389.29 393L389.47 363L389.67 320L389.82 298L389.91 248L389.97 210L390.37 210L390.43 242L390.52 294L390.67 319L390.87 362L391.05 392L391.43 392L391.81 392L391.99 358L392.19 319L392.34 298L392.43 243L392.49 207L392.89 207L392.95 241L393.04 289L393.19 315L393.39 361L393.57 394L393.96 390L394.34 391L394.52 357L394.72 318L394.87 293L394.96 242L395.02 206L395.42 206L395.48 240L395.57 301L395.72 324L395.92 356L396.1 392L396.48 389L396.86 394L397.04 358L397.24 320L397.39 297L397.48 242L397.54 208L397.94 208L398 243L398.09 303L398.24 321L398.44 358L398.62 393L399.01 402L399.39 390L399.57 368L399.77 319L399.92 297L400.01 242L400.07 208L400.47 208L400.53 245L400.62 303L400.77 323L400.97 359L401.15 391L401.53 387L401.92 392L402.1 359L402.3 322L402.45 298L402.54 242L402.6 207L403 207L403.06 244L403.15 306L403.3 327L403.5 356L403.68 392L404.06 398L404.44 389L404.62 346L404.82 321L404.97 291L405.06 241L405.12 206L405.52 206L405.58 240L405.67 302L405.82 319L406.02 354L406.2 389L406.59 395L406.97 390L407.15 351L407.35 317L407.5 297L407.59 237L407.65 202L408.05 202L408.11 235L408.2 303L408.35 320L408.55 351L408.73 389L409.12 395L409.5 391L409.68 353L409.88 316L410.03 297L410.12 232L410.18 199L410.58 199L410.64 235L410.73 302L410.88 319L411.08 360L411.26 391L411.65 393L412.03 391L412.21 357L412.41 313L412.56 296L412.65 235L412.71 199L413.11 199L413.17 237L413.26 293L413.41 321L413.61 350L413.79 391L414.18 391L414.56 389L414.74 353L414.94 316L415.09 294L415.18 230L415.24 191L415.64 191L415.7 227L415.79 290L415.94 316L416.14 356L416.32 390L416.71 392L417.09 389L417.27 356L417.47 322L417.62 299L417.71 229L417.77 189L418.17 189L418.23 223L418.32 294L418.47 311L418.67 347L418.85 387L419.24 383L419.62 386L419.8 350L420 316L420.15 296L420.24 233L420.3 197L420.7 197L420.76 230L420.85 291L421 313L421.2 347L421.38 386L421.77 383L422.16 387L422.34 344L422.54 319L422.69 294L422.78 233L422.84 195L423.24 195L423.3 233L423.39 297L423.54 318L423.74 343L423.92 384L424.3 388L424.69 385L424.87 351L425.07 314L425.22 292L425.31 234L425.37 199L425.77 199L425.83 238L425.92 292L426.07 318L426.27 350L426.45 383L426.84 381L427.23 385L427.41 350L427.61 305L427.76 285L427.85 223L427.91 195L428.31 195L428.37 227L428.46 293L428.61 313L428.81 349L428.99 384L429.37 384L429.76 383L429.94 346L430.14 314L430.29 292L430.38 231L430.44 193L430.84 193L430.9 229L430.99 294L431.14 312L431.34 348L431.52 382L431.91 387L432.3 383L432.48 346L432.68 312L432.83 294L432.92 226L432.98 188L433.38 188L433.44 223L433.53 295L433.68 316L433.88 340L434.06 381L434.45 384L434.83 380L435.01 343L435.21 313L435.36 295L435.45 232L435.51 194L435.91 194L435.97 227L436.06 287L436.21 306L436.41 346L436.59 383L436.98 381L437.37 382L437.55 347L437.75 316L437.9 291L437.99 231L438.05 196L438.45 196L438.51 235L438.6 288L438.75 309L438.95 343L439.13 379L439.52 380L439.91 379L440.09 343L440.29 311L440.44 283L440.53 222L440.59 188L440.99 188L441.05 223L441.14 284L441.29 306L441.49 338L441.67 377L442.06 380L442.45 379L442.63 342L442.83 307L442.98 281L443.07 223L443.13 188L443.53 188L443.59 221L443.68 282L443.83 302L444.03 344L444.21 379L444.6 375L444.99 378L445.17 337L445.37 305L445.52 286L445.61 224L445.67 189L446.07 189L446.13 224L446.22 287L446.37 310L446.57 345L446.75 378L447.14 379L447.53 378L447.71 336L447.91 307L448.06 287L448.15 226L448.21 193L448.61 193L448.67 228L448.76 289L448.91 305L449.11 337L449.29 378L449.68 377L450.07 378L450.25 338L450.45 313L450.6 286L450.69 222L450.75 184L451.15 184L451.21 219L451.3 286L451.45 308L451.65 338L451.83 377L452.22 382L452.61 379L452.79 341L452.99 306L453.14 283L453.23 219L453.29 182L453.69 182L453.75 219L453.84 283L453.99 302L454.19 336L454.37 379L454.77 374L455.16 376L455.34 338L455.54 304L455.69 283L455.78 219L455.84 183L456.24 183L456.3 219L456.39 284L456.54 306L456.74 343L456.92 377L457.31 375L457.7 374L457.88 332L458.08 297L458.23 277L458.32 220L458.38 184L458.78 184L458.84 219L458.93 287L459.08 303L459.28 343L459.46 375L459.85 381L460.25 377L460.43 342L460.63 301L460.78 283L460.87 218L460.93 180L461.33 180L461.39 216L461.48 277L461.63 297L461.83 333L462.01 376L462.4 378L462.79 376L462.97 340L463.17 301L463.32 282L463.41 224L463.47 185L463.87 185L463.93 221L464.02 283L464.17 304L464.37 334L464.55 373L464.95 378L465.34 375L465.52 335L465.72 303L465.87 282L465.96 226L466.02 192L466.42 192L466.48 227L466.57 281L466.72 304L466.92 338L467.1 373L467.49 378L467.89 373L468.07 330L468.27 302L468.42 277L468.51 220L468.57 178L468.97 178L469.03 210L469.12 270L469.27 292L469.47 333L469.65 372L470.04 381L470.43 373L470.61 333L470.81 297L470.96 271L471.05 209L471.11 172L471.51 172L471.57 208L471.66 274L471.81 296L472.01 336L472.19 372L472.59 375L472.98 373L473.16 332L473.36 301L473.51 279L473.6 211L473.66 173L474.06 173L474.12 205L474.21 266L474.36 295L474.56 332L474.74 372L475.14 375L475.53 372L475.71 338L475.91 298L476.06 279L476.15 214L476.21 176L476.61 176L476.67 214L476.76 276L476.91 301L477.11 333L477.29 371L477.69 371L478.08 372L478.26 333L478.46 292L478.61 269L478.7 207L478.76 171L479.16 171L479.22 210L479.31 277L479.46 306L479.66 333L479.84 373L480.24 372L480.63 371L480.81 326L481.01 299L481.16 271L481.25 213L481.31 173L481.71 173L481.77 208L481.86 272L482.01 293L482.21 340L482.39 371L482.79 374L483.19 371L483.37 328L483.57 290L483.72 272L483.81 207L483.87 171L484.27 171L484.33 211L484.42 274L484.57 299L484.77 320L484.95 370L485.34 370L485.74 370L485.92 325L486.12 285L486.27 271L486.36 206L486.42 171L486.82 171L486.88 208L486.97 273L487.12 297L487.32 327L487.5 371L487.9 375L488.29 370L488.47 335L488.67 298L488.82 277L488.91 209L488.97 168L489.37 168L489.43 212L489.52 277L489.67 304L489.87 329L490.05 370L490.45 375L490.85 371L491.03 327L491.23 296L491.38 270L491.47 204L491.53 167L491.93 167L491.99 202L492.08 267L492.23 295L492.43 325L492.61 368L493.01 364L493.4 369L493.58 322L493.78 293L493.93 271L494.02 204L494.08 163L494.48 163L494.54 198L494.63 276L494.78 294L494.98 322L495.16 368L495.56 372L495.96 368L496.14 333L496.34 291L496.49 269L496.58 202L496.64 161L497.04 161L497.1 202L497.19 261L497.34 293L497.54 325L497.72 367L498.12 369L498.52 367L498.7 325L498.9 291L499.05 268L499.14 200L499.2 161L499.6 161L499.66 203L499.75 265L499.9 294L500.1 323L500.28 367L500.68 365L501.07 366L501.25 320L501.45 293L501.6 274L501.69 201L501.75 163L502.15 163L502.21 203L502.3 276L502.45 293L502.65 325L502.83 366L503.23 369L503.63 366L503.81 321L504.01 291L504.16 268L504.25 200L504.31 161L504.71 161L504.77 198L504.86 268L505.01 289L505.21 330L505.39 366L505.79 366L506.19 365L506.37 324L506.57 292L506.72 270L506.81 205L506.87 163L507.27 163L507.33 201L507.42 268L507.57 293L507.77 330L507.95 364L508.35 355L508.75 363L508.93 320L509.13 290L509.28 269L509.37 204L509.43 164L509.83 164L509.89 204L509.98 270L510.13 295L510.33 322L510.51 364L510.91 375L511.31 364L511.49 314L511.69 281L511.84 260L511.93 195L511.99 164L512.39 164L512.45 202L512.54 268L512.69 292L512.89 321L513.07 362L513.47 368L513.87 362L514.05 319L514.25 285L514.4 263L514.49 195L514.55 161L514.95 161L515.01 200L515.1 266L515.25 292L515.45 321L515.63 361L516.04 361L516.44 363L516.62 324L516.82 281L516.97 261L517.06 193L517.12 156L517.52 156L517.58 195L517.67 263L517.82 285L518.02 325L518.2 362L518.6 358L519 362L519.18 328L519.38 286L519.53 267L519.62 195L519.68 159L520.08 159L520.14 195L520.23 265L520.38 287L520.58 323L520.76 359L521.16 358L521.57 359L521.75 325L521.95 284L522.1 255L522.19 196L522.25 158L522.65 158L522.71 198L522.8 261L522.95 282L523.15 313L523.33 360L523.73 358L524.13 358L524.31 324L524.51 281L524.66 254L524.75 196L524.81 160L525.21 160L525.27 197L525.36 271L525.51 288L525.71 315L525.89 359L526.29 358L526.7 360L526.88 318L527.08 282L527.23 261L527.32 193L527.38 159L527.78 159L527.84 194L527.93 258L528.08 283L528.28 319L528.46 356L528.86 357L529.26 357L529.44 316L529.64 284L529.79 257L529.88 193L529.94 155L530.34 155L530.4 194L530.49 266L530.64 284L530.84 314L531.02 357L531.43 354L531.83 358L532.01 318L532.21 290L532.36 264L532.45 199L532.51 156L532.91 156L532.97 191L533.06 262L533.21 281L533.41 308L533.59 357L533.99 356L534.4 356L534.58 316L534.78 287L534.93 265L535.02 192L535.08 160L535.48 160L535.54 198L535.63 258L535.78 278L535.98 311L536.16 355L536.56 355L536.97 354L537.15 318L537.35 279L537.5 257L537.59 193L537.65 155L538.05 155L538.11 190L538.2 250L538.35 273L538.55 317L538.73 354L539.13 357L539.54 354L539.72 321L539.92 283L540.07 263L540.16 196L540.22 157L540.62 157L540.68 194L540.77 262L540.92 286L541.12 313L541.3 353L541.7 353L542.11 355L542.29 314L542.49 285L542.64 262L542.73 196L542.79 156L543.19 156L543.25 192L543.34 253L543.49 272L543.69 317L543.87 353L544.27 350L544.68 352L544.86 307L545.06 285L545.21 258L545.3 192L545.36 149L545.76 149L545.82 186L545.91 250L546.06 277L546.26 312L546.44 352L546.85 352L547.25 350L547.43 313L547.63 283L547.78 260L547.87 189L547.93 148L548.33 148L548.39 189L548.48 255L548.63 279L548.83 306L549.01 351L549.42 351L549.83 351L550.01 307L550.21 271L550.36 250L550.45 186L550.51 148L550.91 148L550.97 184L551.06 254L551.21 279L551.41 312L551.59 349L551.99 350L552.4 347L552.58 312L552.78 277L552.93 255L553.02 182L553.08 146L553.48 146L553.54 183L553.63 250L553.78 273L553.98 306L554.16 346L554.57 350L554.97 351L555.15 305L555.35 270L555.5 250L555.59 183L555.65 144L556.05 144L556.11 184L556.2 249L556.35 276L556.55 309L556.73 346L557.14 348L557.55 344L557.73 300L557.93 274L558.08 254L558.17 180L558.23 143L558.63 143L558.69 182L558.78 259L558.93 280L559.13 308L559.31 343L559.72 342L560.13 344L560.31 311L560.51 282L560.66 259L560.75 185L560.81 144L561.21 144L561.27 185L561.36 256L561.51 276L561.71 308L561.89 343L562.29 350L562.7 341L562.88 305L563.08 273L563.23 248L563.32 178L563.38 136L563.78 136L563.84 180L563.93 254L564.08 281L564.28 302L564.46 339L564.87 339L565.28 340L565.46 304L565.66 273L565.81 254L565.9 177L565.96 137L566.36 137L566.42 178L566.51 254L566.66 277L566.86 307L567.04 336L567.45 339L567.86 339L568.04 312L568.24 272L568.39 246L568.48 170L568.54 134L568.94 134L569 172L569.09 246L569.24 270L569.44 296L569.62 335L570.03 336L570.44 335L570.62 304L570.82 274L570.97 243L571.06 174L571.12 131L571.52 131L571.58 174L571.67 247L571.82 270L572.02 296L572.2 335L572.61 330L573.02 333L573.2 311L573.4 276L573.55 248L573.64 171L573.7 124L574.1 124L574.16 171L574.25 249L574.4 273L574.6 300L574.78 332L575.19 336L575.6 331L575.78 311L575.98 277L576.13 246L576.22 174L576.28 131L576.68 131L576.74 172L576.83 248L576.98 268L577.18 310L577.36 335L577.77 338L578.18 334L578.36 305L578.56 272L578.71 244L578.8 173L578.86 133L579.26 133L579.32 174L579.41 245L579.56 270L579.76 307L579.94 338L580.35 333L580.77 338L580.95 310L581.15 272L581.3 244L581.39 174L581.45 133L581.85 133L581.91 175L582 242L582.15 273L582.35 304L582.53 338L582.94 344L583.35 339L583.53 306L583.73 275L583.88 251L583.97 175L584.03 135L584.43 135L584.49 181L584.58 256L584.73 279L584.93 303L585.11 340L585.52 345L585.93 341L586.11 305L586.31 272L586.46 243L586.55 178L586.61 135L587.01 135L587.07 176L587.16 242L587.31 269L587.51 301L587.69 344L588.11 350L588.52 345L588.7 304L588.9 277L589.05 255L589.14 172L589.2 135L589.6 135L589.66 175L589.75 246L589.9 266L590.1 310L590.28 344L590.69 341L591.11 344L591.29 303L591.49 272L591.64 249L591.73 182L591.79 139L592.19 139L592.25 181L592.34 251L592.49 273L592.69 305L592.87 345L593.28 343L593.69 345L593.87 305L594.07 274L594.22 252L594.31 181L594.37 138L594.77 138L594.83 181L594.92 251L595.07 277L595.27 300L595.45 343L595.87 343L596.28 346L596.46 308L596.66 273L596.81 248L596.9 180L596.96 143L597.36 143L597.42 183L597.51 247L597.66 272L597.86 307L598.04 345L598.46 346L598.87 346L599.05 303L599.25 274L599.4 247L599.49 181L599.55 144L599.95 144L600.01 184L600.1 253L600.25 276L600.45 302L600.63 347L601.04 346L601.46 348L601.64 307L601.84 275L601.99 254L602.08 184L602.14 146L602.54 146L602.6 187L602.69 257L602.84 276L603.04 310L603.22 347L603.63 342L604.05 348L604.23 308L604.43 273L604.58 254L604.67 183L604.73 143L605.13 143L605.19 182L605.28 247L605.43 271L605.63 297L605.81 347L606.23 349L606.64 347L606.82 301L607.02 269L607.17 243L607.26 184L607.32 149L607.72 149L607.78 184L607.87 249L608.02 275L608.22 305L608.4 348L608.82 346L609.23 346L609.41 306L609.61 278L609.76 254L609.85 184L609.91 146L610.31 146L610.37 183L610.46 247L610.61 273L610.81 304L610.99 348L611.41 352L611.83 350L612.01 298L612.21 275L612.36 251L612.45 183L612.51 147L612.91 147L612.97 187L613.06 252L613.21 279L613.41 304L613.59 350L614 351L614.42 349L614.6 308L614.8 277L614.95 255L615.04 190L615.1 150L615.5 150L615.56 186L615.65 253L615.8 271L616 302L616.18 350L616.6 344L617.01 348L617.19 309L617.39 273L617.54 245L617.63 187L617.69 150L618.09 150L618.15 191L618.24 248L618.39 272L618.59 308L618.77 351L619.19 349L619.61 351L619.79 295L619.99 273L620.14 249L620.23 187L620.29 152L620.69 152L620.75 188L620.84 252L620.99 276L621.19 306L621.37 352L621.79 355L622.21 352L622.39 312L622.59 278L622.74 258L622.83 186L622.89 150L623.29 150L623.35 184L623.44 247L623.59 270L623.79 310L623.97 353L624.38 361L624.8 353L624.98 314L625.18 281L625.33 259L625.42 191L625.48 150L625.88 150L625.94 188L626.03 255L626.18 278L626.38 307L626.56 356L626.98 358L627.4 357L627.58 308L627.78 271L627.93 252L628.02 189L628.08 149L628.48 149L628.54 189L628.63 255L628.78 280L628.98 310L629.16 354L629.58 362L630 355L630.18 306L630.38 281L630.53 262L630.62 197L630.68 163L631.08 163L631.14 199L631.23 256L631.38 276L631.58 310L631.76 357L632.18 360L632.6 358L632.78 306L632.98 275L633.13 254L633.22 190L633.28 152L633.68 152L633.74 193L633.83 250L633.98 278L634.18 308L634.36 356L634.78 359L635.2 355L635.38 310L635.58 273L635.73 247L635.82 187L635.88 150L636.28 150L636.34 191L636.43 256L636.58 282L636.78 308L636.96 356L637.38 361L637.8 359L637.98 312L638.18 281L638.33 258L638.42 195L638.48 158L638.88 158L638.94 193L639.03 254L639.18 277L639.38 310L639.56 359L639.98 360L640.4 359L640.58 305L640.78 274L640.93 256L641.02 191L641.08 150L641.48 150L641.54 187L641.63 249L641.78 271L641.98 310L642.16 359L642.58 356L643 358L643.18 311L643.38 274L643.53 253L643.62 189L643.68 157L644.08 157L644.14 195L644.23 253L644.38 277L644.58 308L644.76 361L645.19 361L645.61 360L645.79 309L645.99 280L646.14 254L646.23 198L646.29 158L646.69 158L646.75 190L646.84 251L646.99 271L647.19 306L647.37 360L647.79 364L648.21 360L648.39 310L648.59 277L648.74 251L648.83 189L648.89 153L649.29 153L649.35 187L649.44 255L649.59 275L649.79 316L649.97 360L650.39 360L650.82 362L651 308L651.2 278L651.35 255L651.44 194L651.5 161L651.9 161L651.96 196L652.05 259L652.2 278L652.4 313L652.58 360L653 365L653.42 360L653.6 314L653.8 278L653.95 254L654.04 182L654.1 142L654.5 142L654.56 185L654.65 251L654.8 276L655 315L655.18 361L655.61 368L656.03 361L656.21 301L656.41 282L656.56 262L656.65 193L656.71 151L657.11 151L657.17 188L657.26 256L657.41 280L657.61 304L657.79 362L658.21 364L658.64 362L658.82 312L659.02 276L659.17 254L659.26 186L659.32 156L659.72 156L659.78 196L659.87 254L660.02 278L660.22 314L660.4 365L660.82 374L661.25 362L661.43 310L661.63 277L661.78 260L661.87 198L661.93 168L662.33 168L662.39 201L662.48 258L662.63 276L662.83 315L663.01 364L663.43 362L663.85 364L664.03 316L664.23 276L664.38 258L664.47 194L664.53 162L664.93 162L664.99 199L665.08 259L665.23 277L665.43 307L665.61 363L666.04 360L666.47 362L666.65 321L666.85 278L667 255L667.09 200L667.15 165L667.55 165L667.61 201L667.7 258L667.85 280L668.05 309L668.23 364L668.65 371L669.08 365L669.26 313L669.46 277L669.61 255L669.7 206L669.76 171L670.16 171L670.22 204L670.31 252L670.46 275L670.66 323L670.84 368L671.26 369L671.69 367L671.87 319L672.07 274L672.22 249L672.31 195L672.37 165L672.77 165L672.83 199L672.92 257L673.07 281L673.27 316L673.45 367L673.87 367L674.3 365L674.48 316L674.68 281L674.83 259L674.92 198L674.98 165L675.38 165L675.44 200L675.53 264L675.68 286L675.88 313L676.06 368L676.49 378L676.91 367L677.09 318L677.29 283L677.44 263L677.53 207L677.59 168L677.99 168L678.05 201L678.14 262L678.29 285L678.49 320L678.67 368L679.1 367L679.53 368L679.71 318L679.91 277L680.06 256L680.15 200L680.21 164L680.61 164L680.67 200L680.76 259L680.91 280L681.11 317L681.29 370L681.72 370L682.14 367L682.32 321L682.52 286L682.67 264L682.76 208L682.82 168L683.22 168L683.28 205L683.37 263L683.52 285L683.72 325L683.9 369L684.33 371L684.76 370L684.94 325L685.14 286L685.29 263L685.38 202L685.44 166L685.84 166L685.9 202L685.99 268L686.14 286L686.34 318L686.52 369L686.95 371L687.38 369L687.56 323L687.76 284L687.91 271L688 203L688.06 167L688.46 167L688.52 199L688.61 267L688.76 285L688.96 323L689.14 371L689.57 372L689.99 371L690.17 322L690.37 289L690.52 268L690.61 207L690.67 171L691.07 171L691.13 198L691.22 260L691.37 281L691.57 321L691.75 371L692.18 370L692.61 370L692.79 333L692.99 286L693.14 265L693.23 206L693.29 175L693.69 175L693.75 211L693.84 261L693.99 281L694.19 320L694.37 372L694.8 372L695.23 371L695.41 324L695.61 283L695.76 264L695.85 214L695.91 183L696.31 183L696.37 213L696.46 266L696.61 291L696.81 329L696.99 372L697.42 374L697.85 374L698.03 328L698.23 289L698.38 265L698.47 208L698.53 171L698.93 171L698.99 208L699.08 266L699.23 292L699.43 327L699.61 372L700.04 378L700.47 374L700.65 326L700.85 290L701 273L701.09 209L701.15 172L701.55 172L701.61 211L701.7 273L701.85 296L702.05 328L702.23 372L702.66 369L703.1 374L703.28 328L703.48 281L703.63 261L703.72 202L703.78 170L704.18 170L704.24 206L704.33 268L704.48 291L704.68 329L704.86 372L705.29 377L705.72 373L705.9 325L706.1 291L706.25 272L706.34 208L706.4 172L706.8 172L706.86 210L706.95 274L707.1 294L707.3 335L707.48 375L707.91 384L708.34 376L708.52 329L708.72 290L708.87 273L708.96 209L709.02 174L709.42 174L709.48 208L709.57 266L709.72 292L709.92 323L710.1 376L710.53 379L710.97 377L711.15 326L711.35 296L711.5 276L711.59 209L711.65 170L712.05 170L712.11 208L712.2 269L712.35 293L712.55 333L712.73 375L713.16 381L713.59 376L713.77 328L713.97 298L714.12 279L714.21 213L714.27 178L714.67 178L714.73 211L714.82 272L714.97 297L715.17 326L715.35 376L715.78 379L716.22 376L716.4 327L716.6 292L716.75 268L716.84 213L716.9 175L717.3 175L717.36 211L717.45 278L717.6 296L717.8 335L717.98 376L718.41 377L718.84 377L719.02 334L719.22 291L719.37 271L719.46 208L719.52 175L719.92 175L719.98 211L720.07 276L720.22 298L720.42 321L720.6 378L721.04 374L721.47 376L721.65 330L721.85 294L722 274L722.09 208L722.15 170L722.55 170L722.61 207L722.7 262L722.85 286L723.05 332L723.23 378L723.67 383L724.1 378L724.28 337L724.48 294L724.63 275L724.72 208L724.78 170L725.18 170L725.24 206L725.33 273L725.48 295L725.68 341L725.86 381L726.29 375L726.73 379L726.91 333L727.11 302L727.26 276L727.35 210L727.41 171L727.81 171L727.87 208L727.96 273L728.11 292L728.31 338L728.49 382L728.92 380L729.36 380L729.54 332L729.74 292L729.89 269L729.98 207L730.04 174L730.44 174L730.5 209L730.59 272L730.74 295L730.94 335L731.12 379L731.56 385L731.99 381L732.17 340L732.37 300L732.52 274L732.61 215L732.67 177L733.07 177L733.13 213L733.22 271L733.37 295L733.57 332L733.75 380L734.19 378L734.62 382L734.8 343L735 304L735.15 285L735.24 215L735.3 174L735.7 174L735.76 216L735.85 280L736 301L736.2 341L736.38 383L736.82 383L737.26 380L737.44 338L737.64 302L737.79 280L737.88 216L737.94 181L738.34 181L738.4 212L738.49 280L738.64 300L738.84 331L739.02 381L739.45 395L739.89 382L740.07 338L740.27 308L740.42 281L740.51 221L740.57 182L740.97 182L741.03 219L741.12 284L741.27 306L741.47 335L741.65 382L742.09 381L742.52 384L742.7 348L742.9 306L743.05 287L743.14 219L743.2 183L743.6 183L743.66 223L743.75 285L743.9 306L744.1 349L744.28 385L744.72 384L745.16 384L745.34 347L745.54 305L745.69 282L745.78 224L745.84 187L746.24 187L746.3 219L746.39 283L746.54 300L746.74 340L746.92 382L747.36 390L747.79 383L747.97 341L748.17 306L748.32 289L748.41 230L748.47 201L748.87 201L748.93 234L749.02 290L749.17 307L749.37 343L749.55 384L749.99 384L750.43 384L750.61 352L750.81 306L750.96 290L751.05 222L751.11 187L751.51 187L751.57 221L751.66 284L751.81 303L752.01 338L752.19 385L752.63 407L753.07 384L753.25 342L753.45 305L753.6 279L753.69 222L753.75 189L754.15 189L754.21 224L754.3 288L754.45 310L754.65 352L754.83 385L755.27 393L755.71 384L755.89 352L756.09 301L756.24 279L756.33 230L756.39 190L756.79 190L756.85 225L756.94 289L757.09 310L757.29 353L757.47 387L757.91 381L758.35 387L758.53 350L758.73 307L758.88 287L758.97 224L759.03 188L759.43 188L759.49 219L759.58 285L759.73 303L759.93 344L760.11 387L760.55 391L760.99 385L761.17 354L761.37 308L761.52 286L761.61 225L761.67 187L762.07 187L762.13 222L762.22 286L762.37 308L762.57 352L762.75 389L763.19 398L763.63 390L763.81 347L764.01 313L764.16 294L764.25 230L764.31 191L764.71 191L764.77 227L764.86 289L765.01 312L765.21 350L765.39 388L765.83 396L766.27 388L766.45 352L766.65 309L766.8 283L766.89 225L766.95 190L767.35 190L767.41 226L767.5 283L767.65 303L767.85 347L768.03 389L768.47 390L768.91 388L769.09 351L769.29 312L769.44 294L769.53 225L769.59 191L769.99 191L770.05 229L770.14 292L770.29 317L770.49 351L770.67 389L771.12 392L771.56 390L771.74 357L771.94 312L772.09 293L772.18 228L772.24 193L772.64 193L772.7 230L772.79 293L772.94 316L773.14 353L773.32 388L773.76 388L774.2 390L774.38 356L774.58 317L774.73 295L774.82 231L774.88 195L775.28 195L775.34 234L775.43 290L775.58 317L775.78 356L775.96 391L776.41 402L776.85 391L777.03 358L777.23 313L777.38 294L777.47 230L777.53 191L777.93 191L777.99 224L778.08 295L778.23 311L778.43 358L778.61 392L779.05 395L779.49 391L779.67 359L779.87 321L780.02 295L780.11 234L780.17 195L780.57 195L780.63 230L780.72 297L780.87 318L781.07 352L781.25 393L781.7 390L782.14 391L782.32 352L782.52 317L782.67 301L782.76 229L782.82 196L783.22 196L783.28 234L783.37 299L783.52 321L783.72 353L783.9 391L784.35 395L784.79 392L784.97 352L785.17 318L785.32 299L785.41 234L785.47 198L785.87 198L785.93 231L786.02 299L786.17 319L786.37 347L786.55 393L786.99 397L787.44 393L787.62 358L787.82 319L787.97 296L788.06 235L788.12 200L788.52 200L788.58 236L788.67 294L788.82 319L789.02 353L789.2 393L789.64 394L790.09 394L790.27 359L790.47 320L790.62 301L790.71 236L790.77 197L791.17 197L791.23 234L791.32 295L791.47 319L791.67 365L791.85 393L792.29 393L792.74 395L792.92 356L793.12 325L793.27 303L793.36 239L793.42 201L793.82 201L793.88 240L793.97 300L794.12 321L794.32 362L794.5 394L794.94 391L795.39 393L795.57 354L795.77 325L795.92 302L796.01 248L796.07 214L796.47 214L796.53 247L796.62 308L796.77 325L796.97 363L797.15 395L797.6 394L798.04 396L798.22 357L798.42 320L798.57 302L798.66 240L798.72 203L799.12 203L799.18 239L799.27 298L799.42 317L799.62 365L799.8 396L800.25 398L800.7 397L800.88 360L801.08 323L801.23 299L801.32 240L801.38 201L801.78 201L801.84 236L801.93 293L802.08 317L802.28 359L802.46 397L802.9 403L803.35 397L803.53 365L803.73 329L803.88 299L803.97 239L804.03 205L804.43 205L804.49 240L804.58 307L804.73 326L804.93 362L805.11 396L805.56 402L806 396L806.18 370L806.38 328L806.53 312L806.62 243L806.68 207L807.08 207L807.14 244L807.23 317L807.38 335L807.58 364L807.76 396L808.21 399L808.66 398L808.84 361L809.04 328L809.19 305L809.28 245L809.34 206L809.74 206L809.8 240L809.89 294L810.04 317L810.24 372L810.42 398L810.87 404L811.32 398L811.5 359L811.7 331L811.85 308L811.94 248L812 206L812.4 206L812.46 242L812.55 305L812.7 323L812.9 369L813.08 398L813.53 402L813.97 398L814.15 369L814.35 323L814.5 297L814.59 245L814.65 213L815.05 213L815.11 249L815.2 306L815.35 333L815.55 364L815.73 398L816.18 401L816.63 397L816.81 369L817.01 328L817.16 310L817.25 245L817.31 209L817.71 209L817.77 242L817.86 305L818.01 324L818.21 367L818.39 399L818.84 401L819.29 402L819.47 364L819.67 331L819.82 312L819.91 253L819.97 215L820.37 215L820.43 247L820.52 309L820.67 330L820.87 366L821.05 400L821.5 408L821.95 399L822.13 367L822.33 328L822.48 308L822.57 247L822.63 215L823.03 215L823.09 252L823.18 312L823.33 334L823.53 364L823.71 402L824.16 402L824.61 402L824.79 363L824.99 335L825.14 308L825.23 252L825.29 213L825.69 213L825.75 247L825.84 310L825.99 334L826.19 370L826.37 402L826.82 404L827.27 402L827.45 367L827.65 327L827.8 305L827.89 255L827.95 219L828.35 219L828.41 253L828.5 318L828.65 336L828.85 360L829.03 401L829.48 401L829.94 403L830.12 372L830.32 340L830.47 320L830.56 252L830.62 218L831.02 218L831.08 252L831.17 311L831.32 330L831.52 369L831.7 402L832.15 404L832.6 402L832.78 382L832.98 335L833.13 308L833.22 249L833.28 215L833.68 215L833.74 250L833.83 320L833.98 341L834.18 369L834.36 403L834.81 404L835.26 402L835.44 367L835.64 344L835.79 321L835.88 255L835.94 221L836.34 221L836.4 255L836.49 312L836.64 329L836.84 371L837.02 402L837.48 414L837.93 403L838.11 376L838.31 338L838.46 316L838.55 254L838.61 219L839.01 219L839.07 252L839.16 315L839.31 332L839.51 373L839.69 401L840.14 400L840.59 404L840.77 378L840.97 332L841.12 312L841.21 252L841.27 216L841.67 216L841.73 252L841.82 309L841.97 332L842.17 370L842.35 403L842.81 408L843.26 403L843.44 372L843.64 340L843.79 326L843.88 258L843.94 221L844.34 221L844.4 254L844.49 306L844.64 333L844.84 370L845.02 404L845.48 410L845.93 403L846.11 379L846.31 340L846.46 323L846.55 259L846.61 223L847.01 223L847.07 261L847.16 317L847.31 341L847.51 376L847.69 405L848.14 407L848.6 404L848.78 375L848.98 344L849.13 320L849.22 258L849.28 223L849.68 223L849.74 261L849.83 324L849.98 347L850.18 384L850.36 403L850.81 397L851.27 404L851.45 381L851.65 344L851.8 322L851.89 259L851.95 223L852.35 223L852.41 256L852.5 321L852.65 342L852.85 378L853.03 405L853.48 405L853.94 403L854.12 384L854.32 349L854.47 327L854.56 266L854.62 229L855.02 229L855.08 265L855.17 324L855.32 341L855.52 384L855.7 405L856.15 401L856.61 405L856.79 379L856.99 346L857.14 325L857.23 256L857.29 223L857.69 223L857.75 259L857.84 311L857.99 332L858.19 378L858.37 407L858.82 402L859.28 406L859.46 378L859.66 344L859.81 325L859.9 257L859.96 225L860.36 225L860.42 262L860.51 320L860.66 348L860.86 378L861.04 405L861.5 402L861.95 406L862.13 377L862.33 347L862.48 322L862.57 263L862.63 230L863.03 230L863.09 264L863.18 330L863.33 346L863.53 388L863.71 407L864.17 408L864.63 407L864.81 384L865.01 344L865.16 328L865.25 267L865.31 230L865.71 230L865.77 265L865.86 330L866.01 346L866.21 383L866.39 405L866.84 407L867.3 408L867.48 379L867.68 345L867.83 328L867.92 267L867.98 231L868.38 231L868.44 267L868.53 328L868.68 349L868.88 384L869.06 407L869.52 408L869.98 405L870.16 385L870.36 346L870.51 324L870.6 264L870.66 232L871.06 232L871.12 265L871.21 325L871.36 349L871.56 389L871.74 407L872.19 410L872.65 407L872.83 387L873.03 353L873.18 331L873.27 268L873.33 230L873.73 230L873.79 262L873.88 324L874.03 348L874.23 382L874.41 407L874.87 412L875.33 407L875.51 386L875.71 343L875.86 322L875.95 262L876.01 231L876.41 231L876.47 266L876.56 334L876.71 353L876.91 382L877.09 406L877.55 403L878.01 407L878.19 378L878.39 348L878.54 330L878.63 272L878.69 237L879.09 237L879.15 274L879.24 330L879.39 350L879.59 390L879.77 407L880.23 403L880.69 407L880.87 385L881.07 349L881.22 326L881.31 267L881.37 236L881.77 236L881.83 273L881.92 337L882.07 354L882.27 383L882.45 408L882.91 410L883.37 408L883.55 386L883.75 354L883.9 332L883.99 269L884.05 235L884.45 235L884.51 270L884.6 336L884.75 355L884.95 386L885.13 407L885.59 413L886.05 408L886.23 393L886.43 351L886.58 335L886.67 272L886.73 237L887.13 237L887.19 273L887.28 331L887.43 350L887.63 386L887.81 408L888.27 408L888.73 407L888.91 401L889.11 349L889.26 336L889.35 280L889.41 250L889.81 250L889.87 279L889.96 328L890.11 348L890.31 384L890.49 408L890.95 415L891.41 410L891.59 392L891.79 353L891.94 335L892.03 279L892.09 246L892.49 246L892.55 278L892.64 326L892.79 345L892.99 385L893.17 408L893.63 406L894.09 408L894.27 396L894.47 352L894.62 330L894.71 272L894.77 237L895.17 237L895.23 272L895.32 336L895.47 354L895.67 390L895.85 408L896.32 407L896.78 409L896.96 388L897.16 347L897.31 335L897.4 274L897.46 241L897.86 241L897.92 274L898.01 333L898.16 351L898.36 387L898.54 408L899 412L899.46 409L899.64 390L899.84 360L899.99 336L900.08 274L900.14 237L900.54 237L900.6 271L900.69 332L900.84 352L901.04 393L901.22 410L901.69 409L902.15 410L902.33 389L902.53 362L902.68 342L902.77 278L902.83 245L903.23 245L903.29 278L903.38 334L903.53 349L903.73 397L903.91 408L904.37 415L904.84 409L905.02 396L905.22 363L905.37 341L905.46 281L905.52 242L905.92 242L905.98 277L906.07 331L906.22 356L906.42 388L906.6 410L907.06 406L907.52 410L907.7 386L907.9 359L908.05 342L908.14 281L908.2 246L908.6 246L908.66 280L908.75 345L908.9 362L909.1 387L909.28 409L909.75 405L910.21 408L910.39 396L910.59 357L910.74 338L910.83 283L910.89 246L911.29 246L911.35 280L911.44 325L911.59 352L911.79 392L911.97 409L912.44 421L912.9 411L913.08 391L913.28 362L913.43 342L913.52 281L913.58 245L913.98 245L914.04 276L914.13 339L914.28 357L914.48 389L914.66 410L915.13 412L915.59 411L915.77 394L915.97 363L916.12 346L916.21 285L916.27 247L916.67 247L916.73 278L916.82 337L916.97 359L917.17 394L917.35 412L917.82 411L918.28 410L918.46 388L918.66 362L918.81 340L918.9 278L918.96 245L919.36 245L919.42 283L919.51 341L919.66 364L919.86 389L920.04 412L920.51 411L920.97 410L921.15 394L921.35 361L921.5 340L921.59 281L921.65 248L922.05 248L922.11 284L922.2 348L922.35 365L922.55 401L922.73 411L923.2 411L923.67 410L923.85 405L924.05 364L924.2 346L924.29 291L924.35 255L924.75 255L924.81 288L924.9 344L925.05 365L925.25 390L925.43 411L925.89 412L926.36 412L926.54 402L926.74 368L926.89 348L926.98 288L927.04 246L927.44 246L927.5 284L927.59 342L927.74 362L927.94 395L928.12 409L928.59 417L929.05 411L929.23 393L929.43 366L929.58 341L929.67 283L929.73 249L930.13 249L930.19 282L930.28 343L930.43 365L930.63 404L930.81 409L931.28 407L931.75 409L931.93 391L932.13 371L932.28 346L932.37 285L932.43 247L932.83 247L932.89 285L932.98 345L933.13 365L933.33 394L933.51 412L933.98 411L934.45 411L934.63 397L934.83 370L934.98 357L935.07 285L935.13 248L935.53 248L935.59 283L935.68 344L935.83 366L936.03 399L936.21 410L936.68 411L937.14 407L937.32 400L937.52 375L937.67 352L937.76 286L937.82 245L938.22 245L938.28 285L938.37 344L938.52 372L938.72 404L938.9 410L939.37 411L939.84 409L940.02 400L940.22 369L940.37 341L940.46 282L940.52 245L940.92 245L940.98 285L941.07 347L941.22 370L941.42 396L941.6 409L942.07 421L942.54 408L942.72 398L942.92 371L943.07 346L943.16 287L943.22 248L943.62 248L943.68 283L943.77 347L943.92 371L944.12 408L944.77 416L945.24 410L945.42 400L945.62 370L945.77 352L945.86 288L945.92 254L946.32 254L946.38 285L946.47 345L946.62 366L946.82 398L947 410L947.47 418L947.94 409L948.12 398L948.32 382L948.47 360L948.56 289L948.62 253L949.02 253L949.08 289L949.17 358L949.32 380L949.52 397L949.7 409L950.17 417L950.64 408L950.82 396L951.02 370L951.17 344L951.26 285L951.32 249L951.72 249L951.78 287L951.87 349L952.02 373L952.22 402L952.4 410L952.87 412L953.34 408L953.52 405L953.72 382L953.87 364L953.96 292L954.02 252L954.42 252L954.48 288L954.57 348L954.72 367L954.92 401L955.1 408L955.58 416L956.05 411L956.23 401L956.43 375L956.58 355L956.67 293L956.73 259L957.13 259L957.19 298L957.28 367L957.43 387L957.63 401L957.81 410L958.28 413L958.75 412L958.93 406L959.13 376L959.28 348L959.37 285L959.43 252L959.83 252L959.89 288L959.98 355L960.13 379L960.33 402L960.51 409L960.98 409L961.46 410L961.64 403L961.84 383L961.99 361L962.08 293L962.14 253L962.54 253L962.6 293L962.69 362L962.84 381L963.04 400L963.22 411L963.69 414L964.16 411L964.34 404L964.54 381L964.69 363L964.78 294L964.84 258L965.24 258L965.3 297L965.39 351L965.54 381L965.74 404L965.92 408L966.4 410L966.87 411L967.05 397L967.25 380L967.4 358L967.49 296L967.55 259L967.95 259L968.01 293L968.1 353L968.25 381L968.45 400L968.63 413L969.1 413L969.58 410L969.76 400L969.96 378L970.11 354L970.2 293L970.26 262L970.66 262L970.72 299L970.81 355L970.96 377L971.16 403L971.34 410L971.81 418L972.29 410L972.47 398L972.67 373L972.82 355L972.91 293L972.97 263L973.37 263L973.43 299L973.52 359L973.67 384L973.87 403L974.05 412L974.52 416L975 411L975.18 393L975.38 380L975.53 356L975.62 297L975.68 262L976.08 262L976.14 297L976.23 364L976.38 390L976.58 398L976.76 411L977.23 409L977.71 410L977.89 399L978.09 370L978.24 349L978.33 299L978.39 266L978.79 266L978.85 301L978.94 368L979.09 390L979.29 397L979.47 411L979.94 412L980.42 412L980.6 404L980.8 384L980.95 368L981.04 309L981.1 274L981.5 274L981.56 308L981.65 365L981.8 382L982 411L982.65 413L983.13 411L983.31 407L983.51 389L983.66 366L983.75 313L983.81 272L984.21 272L984.27 305L984.36 360L984.51 382L984.71 395L984.89 410L985.36 415L985.84 411L986.02 405L986.22 388L986.37 364L986.46 300L986.52 266L986.92 266L986.98 300L987.07 361L987.22 385L987.42 395L987.6 411L988.08 416L988.56 410L988.74 398L988.94 383L989.09 364L989.18 304L989.24 273L989.64 273L989.7 304L989.79 366L989.94 383L990.14 405L990.32 410L990.79 414L991.27 410L991.45 399L991.65 388L991.8 361L991.89 305L991.95 272L992.35 272L992.41 306L992.5 376L992.65 392L992.85 401L993.03 410L993.51 413L993.99 410L994.17 392L994.37 391L994.52 371L994.61 317L994.67 278L995.07 278L995.13 312L995.22 367L995.37 389L995.57 403L995.75 409L996.22 414L996.7 410L996.88 405L997.08 387L997.23 367L997.32 311L997.38 278L997.78 278L997.84 315L997.93 361L998.08 385L998.28 398L998.46 411L998.94 412L999.42 409L999.6 407L999.8 386L999.95 362L1000.04 315L1000.1 284L1000.5 284L1000.56 311L1000.65 361L1000.8 383L1001 399L1001.18 410L1001.66 415L1002.14 409L1002.32 401L1002.52 384L1002.67 371L1002.76 312L1002.82 285L1003.22 285L1003.28 315L1003.37 375L1003.52 393L1003.72 408L1003.9 411L1004.38 411L1004.86 411L1005.04 404L1005.24 391L1005.39 377L1005.48 318L1005.54 288L1005.94 288L1006 317L1006.09 376L1006.24 385L1006.44 400L1006.62 411L1007.1 415L1007.58 411L1007.76 401L1007.96 388L1008.11 366L1008.2 318L1008.26 287L1008.66 287L1008.72 318L1008.81 371L1008.96 387L1009.16 405L1009.34 411L1009.82 413L1010.3 412L1010.48 402L1010.68 392L1010.83 373L1010.92 322L1010.98 289L1011.38 289L1011.44 318L1011.53 367L1011.68 384L1011.88 405L1012.06 411L1012.54 418L1013.02 411L1013.2 399L1013.4 389L1013.55 374L1013.64 320L1013.7 294L1014.1 294L1014.16 324L1014.25 375L1014.4 392L1014.6 406L1014.78 410L1015.26 414L1015.74 411L1015.92 407L1016.12 378L1016.27 363L1016.36 321L1016.42 295L1016.82 295L1016.88 324L1016.97 375L1017.12 390L1017.32 402L1017.5 413L1017.98 412L1018.47 414L1018.65 406L1018.85 385L1019 368L1019.09 321L1019.15 295L1019.55 295L1019.61 322L1019.7 365L1019.85 387L1020.05 407L1020.23 411L1020.71 413L1021.19 410L1021.37 404L1021.57 393L1021.72 373L1021.81 325L1021.87 295L1022.27 295L1022.33 322L1022.42 374L1022.57 388L1022.77 400L1022.95 411L1023.43 410L1023.91 411L1024.09 406L1024.29 395L1024.44 375L1024.53 329L1024.59 301L1024.99 301L1025.05 325L1025.14 364L1025.29 384L1025.49 398L1025.67 411L1026.16 414L1026.64 411L1026.82 402L1027.02 387L1027.17 365L1027.26 328L1027.32 301L1027.72 301L1027.78 330L1027.87 378L1028.02 391L1028.22 401L1028.4 414L1028.88 415L1029.37 410L1029.55 404L1029.75 399L1029.9 382L1029.99 333L1030.05 301L1030.45 301L1030.51 323L1030.6 371L1030.75 381L1030.95 410L1031.61 411L1032.1 414L1032.28 405L1032.48 391L1032.63 374L1032.72 331L1032.78 300L1033.18 300L1033.24 326L1033.33 373L1033.48 386L1033.68 407L1033.86 413L1034.34 412L1035 409L1035.2 394L1035.35 377L1035.44 332L1035.5 303L1035.9 303L1035.96 328L1036.05 375L1036.2 394L1036.4 403L1036.58 411L1037.07 412L1037.55 409L1037.73 404L1037.93 392L1038.08 377L1038.17 328L1038.23 303L1038.63 303L1038.69 330L1038.78 377L1038.93 392L1039.13 410L1039.8 411L1040.29 410L1040.47 403L1040.67 391L1040.82 377L1040.91 328L1040.97 300L1041.37 300L1041.43 325L1041.52 370L1041.67 387L1041.87 400L1042.05 413L1042.53 412L1043.02 411L1043.2 402L1043.4 396L1043.55 382L1043.64 334L1043.7 309L1044.1 309L1044.16 332L1044.25 374L1044.4 394L1044.6 406L1044.78 411L1045.26 417L1045.75 413L1045.93 403L1046.13 392L1046.28 376L1046.37 331L1046.43 308L1046.83 308L1046.89 334L1046.98 378L1047.13 391L1047.33 406L1047.51 413L1048 411L1048.48 411L1048.66 402L1048.86 387L1049.01 375L1049.1 330L1049.16 307L1049.56 307L1049.62 334L1049.71 384L1049.86 397L1050.06 402L1050.24 412L1050.73 417L1051.22 414L1051.4 400L1051.6 395L1051.75 382L1051.84 335L1051.9 310L1052.3 310L1052.36 334L1052.45 373L1052.6 385L1052.8 402L1052.98 413L1053.46 410L1053.95 413L1054.13 404L1054.33 394L1054.48 376L1054.57 334L1054.63 310L1055.03 310L1055.09 333L1055.18 378L1055.33 392L1055.53 411L1056.2 413L1056.87 410L1057.07 387L1057.22 373L1057.31 333L1057.37 311L1057.77 311L1057.83 337L1057.92 372L1058.07 389L1058.27 404L1058.45 412L1058.94 418L1059.42 411L1059.6 402L1059.8 395L1059.95 380L1060.04 329L1060.1 307L1060.5 307L1060.56 334L1060.65 376L1060.8 390L1061 403L1061.18 414L1061.67 414L1062.16 413L1062.34 406L1062.54 388L1062.69 376L1062.78 335L1062.84 313L1063.24 313L1063.3 337L1063.39 375L1063.54 391L1063.74 408L1063.92 413L1064.41 414L1065.08 411L1065.28 384L1065.43 371L1065.52 334L1065.58 318L1065.98 318L1066.04 341L1066.13 383L1066.28 389L1066.48 405L1066.66 414L1067.15 418L1067.64 413L1067.82 404L1068.02 393L1068.17 383L1068.26 341L1068.32 321L1068.72 321L1068.78 342L1068.87 380L1069.02 397L1069.22 404L1069.4 413L1069.89 414L1070.38 413L1070.56 408L1070.76 391L1070.91 379L1071 340L1071.06 322L1071.46 322L1071.52 345L1071.61 379L1071.76 392L1071.96 406L1072.14 413L1072.63 414L1073.12 413L1073.3 409L1073.5 391L1073.65 378L1073.74 345L1073.8 323L1074.2 323L1074.26 340L1074.35 379L1074.5 392L1074.7 409L1074.88 414L1075.37 416L1075.86 413L1076.04 404L1076.24 395L1076.39 383L1076.48 341L1076.54 320L1076.94 320L1077 340L1077.09 375L1077.24 393L1077.44 412L1078.12 419L1078.61 412L1078.79 405L1078.99 396L1079.14 380L1079.23 342L1079.29 317L1079.69 317L1079.75 338L1079.84 373L1079.99 387L1080.19 407L1080.37 413L1080.86 412L1081.35 413L1081.53 407L1081.73 388L1081.88 378L1081.97 344L1082.03 324L1082.43 324L1082.49 345L1082.58 385L1082.73 398L1082.93 403L1083.11 413L1083.6 414L1084.1 415L1084.28 405L1084.48 392L1084.63 386L1084.72 345L1084.78 324L1085.18 324L1085.24 344L1085.33 374L1085.48 386L1085.68 409L1085.86 415L1086.35 415L1087.02 411L1087.22 396L1087.37 382L1087.46 343L1087.52 327L1087.92 327L1087.98 348L1088.07 377L1088.22 386L1088.42 406L1088.6 414L1089.1 416L1089.77 415L1089.97 394L1090.12 378L1090.21 340L1090.27 325L1090.67 325L1090.73 342L1090.82 380L1090.97 394L1091.17 407L1091.35 413L1091.84 415L1092.52 414L1092.72 389L1092.87 377L1092.96 348L1093.02 327L1093.42 327L1093.48 352L1093.57 378L1093.72 394L1093.92 407L1094.1 413L1094.59 415L1095.26 413L1095.46 397L1095.61 382L1095.7 344L1095.76 325L1096.16 325L1096.22 345L1096.31 382L1096.46 391L1096.66 408L1096.84 412L1097.34 411L1097.83 416L1098.01 408L1098.21 398L1098.36 385L1098.45 353L1098.51 332L1098.91 332L1098.97 353L1099.06 380L1099.21 392L1099.41 408L1099.59 414L1100.09 416L1100.58 413L1100.76 407L1100.96 399L1101.11 391L1101.2 355L1101.26 330L1101.66 330L1101.72 351L1101.81 384L1101.96 395L1102.16 413L1102.84 414L1103.34 414L1103.52 407L1103.72 392L1103.87 380L1103.96 348L1104.02 333L1104.42 333L1104.48 349L1104.57 374L1104.72 389L1104.92 412L1105.59 415L1106.27 414L1106.47 398L1106.62 386L1106.71 353L1106.77 334L1107.17 334L1107.23 355L1107.32 387L1107.47 398L1107.67 415L1108.34 415L1109.02 412L1109.22 395L1109.37 382L1109.46 356L1109.52 335L1109.92 335L1109.98 353L1110.07 376L1110.22 389L1110.42 411L1110.6 415L1111.1 417L1111.77 412L1111.97 397L1112.12 384L1112.21 358L1112.27 337L1112.67 337L1112.73 357L1112.82 386L1112.97 396L1113.17 404L1113.35 413L1113.85 414L1114.35 414L1114.53 411L1114.73 390L1114.88 382L1114.97 357L1115.03 339L1115.43 339L1115.49 354L1115.58 386L1115.73 393L1115.93 404L1116.11 414L1116.61 414L1117.11 415L1117.29 408L1117.49 393L1117.64 386L1117.73 358L1117.79 341L1118.19 341L1118.25 356L1118.34 381L1118.49 392L1118.69 405L1118.87 413L1119.36 416L1120.04 414L1120.24 394L1120.39 383L1120.48 359L1120.54 343L1120.94 343L1121 356L1121.09 388L1121.24 397L1121.44 409L1121.62 413L1122.12 415L1122.62 414L1122.8 409L1123 393L1123.15 381L1123.24 357L1123.3 339L1123.7 339L1123.76 358L1123.85 388L1124 398L1124.2 408L1124.38 412L1124.88 414L1125.38 414L1125.56 398L1125.76 387L1125.91 379L1126 354L1126.06 339L1126.46 339L1126.52 355L1126.61 379L1126.76 392L1126.96 410L1127.14 416L1127.64 418L1128.14 416L1128.32 409L1128.52 398L1128.67 396L1128.76 365L1128.82 344L1129.22 344L1129.28 358L1129.37 387L1129.52 393L1129.72 404L1129.9 414L1130.4 418L1131.08 417L1131.28 387L1131.43 383L1131.52 358L1131.58 340L1131.98 340L1132.04 357L1132.13 386L1132.28 391L1132.48 410L1132.66 414L1133.16 426L1133.66 414L1133.84 406L1134.04 393L1134.19 381L1134.28 358L1134.34 343L1134.74 343L1134.8 361L1134.89 382L1135.04 395L1135.24 414L1135.92 417L1136.6 413L1136.8 388L1136.95 384L1137.04 358L1137.1 344L1137.5 344L1137.56 361L1137.65 384L1137.8 396L1138 408L1138.18 414L1138.68 414L1139.18 417L1139.36 410L1139.56 396L1139.71 385L1139.8 360L1139.86 343L1140.26 343L1140.32 356L1140.41 386L1140.56 392L1140.76 416L1141.45 418L1141.95 415L1142.13 408L1142.33 382L1142.48 375L1142.57 359L1142.63 344L1143.03 344L1143.09 357L1143.18 384L1143.33 390L1143.53 411L1143.71 414L1144.21 411L1144.71 416L1144.89 405L1145.09 388L1145.24 382L1145.33 364L1145.39 352L1145.79 352L1145.85 365L1145.94 384L1146.09 392L1146.29 414L1146.97 417L1147.48 417L1147.66 412L1147.86 390L1148.01 386L1148.1 361L1148.16 349L1148.56 349L1148.62 367L1148.71 395L1148.86 404L1149.06 414L1149.74 416L1150.24 414L1150.42 411L1150.62 395L1150.77 383L1150.86 365L1150.92 351L1151.32 351L1151.38 361L1151.47 385L1151.62 395L1151.82 413L1152.51 416L1153.01 415L1153.19 412L1153.39 392L1153.54 390L1153.63 361L1153.69 348L1154.09 348L1154.15 364L1154.24 390L1154.39 402L1154.59 412L1154.77 415L1155.28 417L1155.96 416L1156.16 393L1156.31 384L1156.4 362L1156.46 350L1156.86 350L1156.92 365L1157.01 390L1157.16 396L1157.36 415L1158.04 416L1158.73 415L1158.93 395L1159.08 388L1159.17 366L1159.23 352L1159.63 352L1159.69 366L1159.78 389L1159.93 392L1160.13 404L1160.31 417L1160.81 418L1161.5 417L1161.7 397L1161.85 393L1161.94 365L1162 355L1162.4 355L1162.46 369L1162.55 390L1162.7 395L1162.9 413L1163.59 413L1164.09 415L1164.27 409L1164.47 392L1164.62 384L1164.71 359L1164.77 347L1165.17 347L1165.23 358L1165.32 380L1165.47 390L1165.67 409L1165.85 416L1166.36 420L1166.86 414L1167.04 406L1167.24 392L1167.39 382L1167.48 365L1167.54 355L1167.94 355L1168 369L1168.09 379L1168.24 389L1168.44 418L1169.13 416L1169.64 416L1169.82 410L1170.02 396L1170.17 380L1170.26 368L1170.32 354L1170.72 354L1170.78 367L1170.87 390L1171.02 398L1171.22 402L1171.4 416L1171.9 417L1172.59 415L1172.79 399L1172.94 394L1173.03 368L1173.09 357L1173.49 357L1173.55 368L1173.64 383L1173.79 394L1173.99 411L1174.17 416L1174.68 416L1175.36 415L1175.56 390L1175.71 380L1175.8 370L1175.86 358L1176.26 358L1176.32 373L1176.41 385L1176.56 393L1176.76 408L1176.94 415L1177.45 417L1177.96 415L1178.14 413L1178.34 394L1178.49 389L1178.58 374L1178.64 361L1179.04 361L1179.1 371L1179.19 384L1179.34 388L1179.54 412L1179.72 416L1180.23 418L1180.74 417L1180.92 413L1181.12 391L1181.27 387L1181.36 373L1181.42 364L1181.82 364L1181.88 373L1181.97 395L1182.12 396L1182.32 416L1183.01 416L1183.69 415L1183.89 400L1184.04 394L1184.13 371L1184.19 361L1184.59 361L1184.65 372L1184.74 392L1184.89 396L1185.09 409L1185.27 418L1185.78 422L1186.29 417L1186.47 406L1186.67 395L1186.82 389L1186.91 368L1186.97 363L1187.37 363L1187.43 371L1187.52 387L1187.67 392L1187.87 409L1188.05 417L1188.56 421L1189.25 420L1189.45 396L1189.6 391L1189.69 373L1189.75 363L1190.15 363L1190.21 369L1190.3 388L1190.45 393L1190.65 406L1190.83 417L1191.34 420L1192.03 415L1192.23 397L1192.38 388L1192.47 374L1192.53 361L1192.93 361L1192.99 373L1193.08 387L1193.23 398L1193.43 412L1193.61 416L1194.12 419L1194.63 416L1194.81 412L1195.01 392L1195.16 393L1195.25 372L1195.31 364L1195.71 364L1195.77 372L1195.86 392L1196.01 402L1196.21 417L1196.9 417L1197.42 415L1197.6 410L1197.8 396L1197.95 391L1198.04 374L1198.1 363L1198.5 363L1198.56 374L1198.65 389L1198.8 395L1199 413L1199.18 418L1199.69 419L1200.38 414L1200.58 390L1200.73 387L1200.82 370L1200.88 363L1201.28 363L1201.34 375L1201.43 391L1201.58 398L1201.78 416L1202.47 418L1203.16 417L1203.36 398L1203.51 394L1203.6 378L1203.66 366L1204.06 366L1204.12 376L1204.21 391L1204.36 392L1204.56 412L1204.74 417L1205.25 419L1205.95 415L1206.15 391L1206.45 379L1206.85 379L1207.15 393L1207.35 408L1207.53 416L1208.04 419L1208.73 417L1208.93 391L1209.23 372L1209.63 372L1209.69 379L1209.78 399L1209.93 402L1210.13 417L1210.83 417L1211.34 418L1211.52 407L1211.72 397L1211.87 391L1211.96 377L1212.02 372L1212.42 372L1212.48 377L1212.57 397L1212.72 396L1212.92 415L1213.61 419L1214.31 417L1214.51 392L1214.66 387L1214.75 379L1214.81 372L1215.21 372L1215.27 379L1215.36 385L1215.51 394L1215.71 416L1216.4 419L1216.92 417L1217.1 408L1217.3 396L1217.6 377L1218 377L1218.06 383L1218.15 401L1218.3 400L1218.5 413L1218.68 418L1219.19 419L1219.7 417L1219.88 413L1220.08 395L1220.38 378L1220.78 378L1220.84 381L1220.93 395L1221.08 403L1221.28 418L1221.98 421L1222.49 415L1222.67 410L1222.87 395L1223.17 380L1223.57 380L1223.87 398L1224.07 415L1224.25 419L1224.77 421L1225.47 420L1225.67 392L1225.97 378L1226.37 378L1226.43 382L1226.52 401L1226.67 400L1226.87 415L1227.05 418L1227.56 416L1228.08 417L1228.26 403L1228.46 389L1228.76 378L1229.16 378L1229.46 396L1229.66 414L1229.84 417L1230.35 418L1230.87 418L1231.05 411L1231.25 399L1231.4 388L1231.49 382L1231.55 379L1231.95 379L1232.25 392L1232.45 412L1232.63 418L1233.15 420L1233.67 418L1233.85 412L1234.05 387L1234.35 379L1234.75 379L1234.81 385L1234.9 403L1235.05 404L1235.25 410L1235.43 419L1235.94 421L1236.46 417L1236.64 412L1236.84 397L1237.14 383L1237.54 383L1237.84 392L1238.04 411L1238.22 417L1238.74 422L1239.26 419L1239.44 413L1239.64 398L1239.94 382L1240.34 382L1240.64 401L1240.84 418L1241.53 419L1242.05 419L1242.23 412L1242.43 402L1242.58 404L1242.67 387L1242.73 379L1243.13 379L1243.19 386L1243.28 404L1243.43 405L1243.63 412L1243.81 418L1244.33 418L1244.85 418L1245.03 408L1245.23 390L1245.53 383L1245.93 383L1246.23 394L1246.43 408L1246.61 417L1247.13 420L1247.83 419L1248.03 391L1248.33 381L1248.73 381L1249.03 399L1249.23 422" fill="none" stroke-width="1.25"/>
</g>
<g id="red" fill="#e8432c" stroke="#e8432c">
<path d="M1146 378.2L1146.7 378.8L1147.4 382.6L1148.1 380.6L1148.8 374.1L1149.5 375.4L1150.2 377.8L1150.9 369.4L1151.6 376.5L1152.3 375.2L1153 375.2L1153.7 371.1L1154.4 383.3L1155.1 373.9L1155.8 384.2L1156.5 379.2L1157.2 383.1L1157.9 376.3L1158.6 375.5L1159.3 379.1L1160 377.4L1160.7 377.8L1161.4 377.5L1162.1 379.9L1162.8 370.1L1163.5 377.3L1164.2 369.4L1164.9 377.5L1165.6 376.1L1166.3 380.5L1167 377.6L1167.7 377.7L1168.4 380.3L1169.1 381.6L1169.8 380.9L1170.5 376.7L1171.2 373.1L1171.9 382.3L1172.6 375.8L1173.3 364.7L1174 375L1174.7 374.2L1175.4 376.7L1176.1 374.1L1176.8 379.3L1177.5 370.8L1178.2 379.5L1178.9 367.3L1179.6 375.3L1180.3 376L1181 378.3L1181.7 373.9L1182.4 372.2L1183.1 376.3L1183.8 377.2L1184.5 377.2L1185.2 383.9L1185.9 380.2L1186.6 387.5L1187.3 376.7L1188 380.6L1188.7 370.9L1189.4 378.8L1190.1 380.3L1190.8 373.6L1191.5 374.4L1192.2 376.5L1192.9 375.7L1193.6 384.5L1194.3 378.4L1195 373.9L1195.7 374.1L1196.4 380.5L1197.1 380.4L1197.8 380.8L1198.5 375.8L1199.2 379.2L1199.9 380.6L1200.6 380.6L1201.3 376.6L1202 381.5L1202.7 378.5L1203.4 377.7L1204.1 376.2L1204.8 375.1L1205.5 375L1206.2 371.2L1206.9 373.2L1207.6 372.9L1208.3 377.6L1209 379L1209.7 384.3L1210.4 378.3L1211.1 366L1211.8 375.1L1212.5 375.5L1213.2 383.6L1213.9 374.1L1214.6 379.3L1215.3 381.6L1216 382.5L1216.7 383.2L1217.4 381.6L1218.1 376.1L1218.8 380.2L1219.5 378.7L1220.2 379.9L1220.9 375.6L1221.6 384.4L1222.3 374.7L1223 377.2L1223.7 367.6L1224.4 376.8L1225.1 381.4L1225.8 375.6L1226.5 374.2L1227.2 367.1L1227.9 372.7L1228.6 369.7L1229.3 379.4L1230 377.4L1230.7 378.1L1231.4 378.7L1232.1 378.2L1232.8 378.4L1233.5 368.6L1234.2 381.4L1234.9 380.3L1235.6 380.5L1236.3 380.4L1237 368.3L1237.7 374.6L1238.4 378.4L1239.1 381.1L1239.8 379.5L1240.5 381.3L1241.2 378.9L1241.9 382.4L1242.6 374.5L1243.3 379.3L1244 369.6L1244.7 379.2L1245.4 373.3L1246.1 374.5L1246.8 380.1L1247.5 368.9L1248.2 376.5L1248.9 379.2L1249.6 374.7L1250.3 378.7L1251 375.3L1251.7 379.4L1252.4 378.1L1253.1 374.3L1253.8 375L1254.5 380.1L1255.2 374L1255.9 373.8L1256.6 373.1L1257.3 377.4L1258 384L1258.7 364.7L1259.4 376L1260.1 381.9L1260.8 379.4L1261.5 377.9L1262.2 368.3L1262.9 371.8L1263.6 379.4L1264.3 376.6L1265 374L1265.7 373.9L1266.4 379.4L1267.1 368L1267.8 389.4L1268.5 375.8L1269.2 384.8L1269.9 366.4L1270.6 371.3L1271.3 380.3L1272 375.2L1272.7 378.8L1273.4 378.2L1274.1 377.9L1274.8 376.3L1275.5 369.5L1276.2 380.9L1276.9 376.2L1277.6 378.7L1278.3 380.6L1279 374.8L1279.7 377.9L1280.4 374.9L1281.1 382.8L1281.8 383.4L1282.5 367.8L1283.2 376.7L1283.9 373L1284.6 382.8L1285.3 377.2L1286 374L1286.7 366.8L1287.4 376.5L1288.1 380.3L1288.8 379L1289.5 379.8L1290.2 382.1L1290.9 373.8L1291.6 377.1L1292.3 374.1L1293 367L1293.7 381.5L1294.4 375.9L1295.1 362.5L1295.8 382.7L1296.5 373.9L1297.2 382.2L1297.9 369.6L1298.6 384.5L1299.3 379.5L1300 377.6L1300.7 382.3L1301.4 379.3L1302.1 377.2L1302.8 378.6L1303.5 380.9L1304.2 379.9L1304.9 385.2L1305.6 381.4L1306.3 379.2L1307 376.9L1307.7 365L1308.4 373L1309.1 378.6L1309.8 372.5L1310.5 366.2L1311.2 374.3L1311.9 383.8L1312.6 373.3L1313.3 363.7L1314 374.6L1314.7 378.9L1315.4 378.4L1316.1 378.4L1316.8 374.2L1317.5 378.5L1318.2 375.1L1318.9 381.3L1319.6 375.3L1320.3 377.1L1321 380.9L1321.7 374.6L1322.4 360.8L1323.1 377.5L1323.8 376.3L1324.5 377.4L1325.2 379.6L1325.9 379.9L1326.6 369L1327.3 381.5L1328 375.4L1328.7 381.7L1329.4 375L1330.1 378.6L1330.8 374.6L1331.5 380.2L1332.2 377.6L1332.9 380.8L1333.6 364.5L1334.3 377.1L1335 377.9L1335.7 376.9L1336.4 383L1337.1 372.7L1337.8 378.8L1338.5 373.7L1339.2 376.2L1339.9 376.5L1340.6 377L1341.3 358.4L1342 377.8L1342.7 385.7L1343.4 383.3L1344.1 377.3L1344.8 380.1L1345.5 379.2L1346.2 376.6L1346.9 374.6L1347.6 378.7L1348.3 376.1L1349 375.1L1349.7 359.4L1350.4 366.7L1351.1 378.6L1351.8 374.8L1352.5 381.6L1353.2 377L1353.9 377.9L1354.6 372.3L1355.3 374.2L1356 375.7L1356.7 374.5L1357.4 372.4L1358.1 381.6L1358.8 376.8L1359.5 378.3L1360.2 363.8L1360.9 368.9L1361.6 383.3L1362.3 376.6L1363 376.9L1363.7 385.6L1364.4 378.4L1365.1 376L1365.8 376.5L1366.5 378.1L1367.2 373.3L1367.9 361.1L1368.6 372.5L1369.3 382.8L1370 382.2L1370.7 371.6L1371.4 378.6L1372.1 376.2L1372.8 377.9L1373.5 378.4L1374.2 377.7L1374.9 376.8L1375.6 377.3L1376.3 375.2L1377 373.6L1377.7 375.3L1378.4 381L1379.1 381.4L1379.8 378.4L1380.5 385.6L1381.2 378.5L1381.9 378.9L1382.6 362.8L1383.3 379.2L1384 375.2L1384.7 379.5L1385.4 376L1386.1 381.7L1386.8 377.1L1387.5 372.7L1388.2 379.8L1388.9 389.1L1389.6 381.5L1390.3 381L1391 380.9L1391.7 381L1392.4 364.5L1393.1 377.4L1393.8 374.2L1394.5 377.5L1395.2 366.5L1395.9 382.4L1396.6 375.4L1397.3 377.8L1398 383L1398.7 373.1L1399.4 385.8L1400.1 376.8L1400.8 372.3L1401.5 375.6L1402.2 378L1402.9 382L1403.6 379.9L1404.3 375.1L1405 377.4L1405.7 376.7L1406.4 377.8L1407.1 383.5L1407.8 378.8L1408.5 379.1L1409.2 379.6L1409.9 378.2L1410.6 374.9L1411.3 386.6L1412 364.7L1412.7 377.3L1413.4 375.7L1414.1 379.6L1414.8 382L1415.5 378.2L1416.2 370.2L1416.9 378.5L1417.6 377.2L1418.3 377.6L1419 391.3L1419.7 374.4L1420.4 375.8L1421.1 388.6L1421.8 377.7L1422.5 379.3L1423.2 374L1423.9 371.6L1424.6 372.9L1425.3 377.1L1426 365L1426.7 379L1427.4 380L1428.1 374.7L1428.8 374.4L1429.5 374L1430.2 377.5L1430.9 377.7L1431.6 377.6L1432.3 379.6L1433 376.8L1433.7 378.1L1434.4 376.4L1435.1 383.1L1435.8 377.6L1436.5 376.8L1437.2 378.9L1437.9 370.3L1438.6 381.4L1439.3 375.5L1440 378L1440.7 376.6L1441.4 383.1L1442.1 373.5L1442.8 361.1L1443.5 375.7L1444.2 375.2L1444.9 383.1L1445.6 378.6L1446.3 380.1L1447 379.6L1447.7 376.4L1448.4 381.7L1449.1 378.1L1449.8 372.3L1450.5 372.2L1451.2 374.6L1451.9 377.4L1452.6 379L1453.3 369.8L1454 381.5L1454.7 376.5L1455.4 382.3L1456.1 382.6L1456.8 375.2L1457.5 370.8L1458.2 383L1458.9 387.3L1459.6 367.2L1460.3 377.9L1461 373.9L1461.7 373.2L1462.4 376.6L1463.1 382.4L1463.8 383.8L1464.5 377L1465.2 379.2L1465.9 375L1466.6 377L1467.3 381.8L1468 376.9L1468.7 375.9L1469.4 379.8L1470.1 372.5L1470.8 380.1L1471.5 376.7L1472.2 381.9L1472.9 370.2L1473.6 373L1474.3 375.6L1475 377.7L1475.7 382L1476.4 370.4L1477.1 380.9L1477.8 384.4L1478.5 374.4L1479.2 372.4L1479.9 375.4L1480.6 382.2L1481.3 379.1L1482 375.4L1482.7 379.4L1483.4 379.8L1484.1 378.4L1484.8 377.8L1485.5 374.7L1486.2 380.3L1486.9 382.7L1487.6 376L1488.3 377.6L1489 373.2L1489.7 365.6L1490.4 368.7L1491.1 372.1L1491.8 368.6L1492.5 375.6L1493.2 380.3L1493.9 374.8L1494.6 377.9L1495.3 356L1496 372.4L1496.7 378.6L1497.4 371.9L1498.1 382.1L1498.8 376.7L1499.5 373.7L1500.2 378.5L1500.9 373.9L1501.6 370.9L1502.3 380L1503 378.4L1503.7 365.7L1504.4 378L1505.1 373.9L1505.8 381.7L1506.5 385.4L1506.5 413L1505.8 413L1505.1 413L1504.4 413L1503.7 413L1503 413L1502.3 413L1501.6 413L1500.9 413L1500.2 413L1499.5 413L1498.8 413L1498.1 413L1497.4 413L1496.7 413L1496 413L1495.3 413L1494.6 413L1493.9 413L1493.2 413L1492.5 413L1491.8 413L1491.1 413L1490.4 413L1489.7 413L1489 413L1488.3 413L1487.6 413L1486.9 413L1486.2 413L1485.5 413L1484.8 413L1484.1 413L1483.4 413L1482.7 413L1482 413L1481.3 413L1480.6 413L1479.9 413L1479.2 413L1478.5 413L1477.8 413L1477.1 413L1476.4 413L1475.7 413L1475 413L1474.3 413L1473.6 413L1472.9 413L1472.2 413L1471.5 413L1470.8 413L1470.1 413L1469.4 413L1468.7 413L1468 413L1467.3 413L1466.6 413L1465.9 413L1465.2 413L1464.5 413L1463.8 413L1463.1 413L1462.4 413L1461.7 413L1461 413L1460.3 413L1459.6 413L1458.9 413L1458.2 413L1457.5 413L1456.8 413L1456.1 413L1455.4 413L1454.7 413L1454 413L1453.3 413L1452.6 413L1451.9 413L1451.2 413L1450.5 413L1449.8 413L1449.1 413L1448.4 413L1447.7 413L1447 413L1446.3 413L1445.6 413L1444.9 413L1444.2 413L1443.5 413L1442.8 413L1442.1 413L1441.4 413L1440.7 413L1440 413L1439.3 413L1438.6 413L1437.9 413L1437.2 413L1436.5 413L1435.8 413L1435.1 413L1434.4 413L1433.7 413L1433 413L1432.3 413L1431.6 413L1430.9 413L1430.2 413L1429.5 413L1428.8 413L1428.1 413L1427.4 413L1426.7 413L1426 413L1425.3 413L1424.6 413L1423.9 413L1423.2 413L1422.5 413L1421.8 413L1421.1 413L1420.4 413L1419.7 413L1419 413L1418.3 413L1417.6 413L1416.9 413L1416.2 413L1415.5 413L1414.8 413L1414.1 413L1413.4 413L1412.7 413L1412 413L1411.3 413L1410.6 413L1409.9 413L1409.2 413L1408.5 413L1407.8 413L1407.1 413L1406.4 413L1405.7 413L1405 413L1404.3 413L1403.6 413L1402.9 413L1402.2 413L1401.5 413L1400.8 413L1400.1 413L1399.4 413L1398.7 413L1398 413L1397.3 413L1396.6 413L1395.9 413L1395.2 413L1394.5 413L1393.8 413L1393.1 413L1392.4 413L1391.7 413L1391 413L1390.3 413L1389.6 413L1388.9 413L1388.2 413L1387.5 413L1386.8 413L1386.1 413L1385.4 413L1384.7 413L1384 413L1383.3 413L1382.6 413L1381.9 413L1381.2 413L1380.5 413L1379.8 413L1379.1 413L1378.4 413L1377.7 413L1377 413L1376.3 413L1375.6 413L1374.9 413L1374.2 413L1373.5 413L1372.8 413L1372.1 413L1371.4 413L1370.7 413L1370 413L1369.3 413L1368.6 413L1367.9 413L1367.2 413L1366.5 413L1365.8 413L1365.1 413L1364.4 413L1363.7 413L1363 413L1362.3 413L1361.6 413L1360.9 413L1360.2 413L1359.5 413L1358.8 413L1358.1 413L1357.4 413L1356.7 413L1356 413L1355.3 413L1354.6 413L1353.9 413L1353.2 413L1352.5 413L1351.8 413L1351.1 413L1350.4 413L1349.7 413L1349 413L1348.3 413L1347.6 413L1346.9 413L1346.2 413L1345.5 413L1344.8 413L1344.1 413L1343.4 413L1342.7 413L1342 413L1341.3 413L1340.6 413L1339.9 413L1339.2 413L1338.5 413L1337.8 413L1337.1 413L1336.4 413L1335.7 413L1335 413L1334.3 413L1333.6 413L1332.9 413L1332.2 413L1331.5 413L1330.8 413L1330.1 413L1329.4 413L1328.7 413L1328 413L1327.3 413L1326.6 413L1325.9 413L1325.2 413L1324.5 413L1323.8 413L1323.1 413L1322.4 413L1321.7 413L1321 413L1320.3 413L1319.6 413L1318.9 413L1318.2 413L1317.5 413L1316.8 413L1316.1 413L1315.4 413L1314.7 413L1314 413L1313.3 413L1312.6 413L1311.9 413L1311.2 413L1310.5 413L1309.8 413L1309.1 413L1308.4 413L1307.7 413L1307 413L1306.3 413L1305.6 413L1304.9 413L1304.2 413L1303.5 413L1302.8 413L1302.1 413L1301.4 413L1300.7 413L1300 413L1299.3 413L1298.6 413L1297.9 413L1297.2 413L1296.5 413L1295.8 413L1295.1 413L1294.4 413L1293.7 413L1293 413L1292.3 413L1291.6 413L1290.9 413L1290.2 413L1289.5 413L1288.8 413L1288.1 413L1287.4 413L1286.7 413L1286 413L1285.3 413L1284.6 413L1283.9 413L1283.2 413L1282.5 413L1281.8 413L1281.1 413L1280.4 413L1279.7 413L1279 413L1278.3 413L1277.6 413L1276.9 413L1276.2 413L1275.5 413L1274.8 413L1274.1 413L1273.4 413L1272.7 413L1272 413L1271.3 413L1270.6 413L1269.9 413L1269.2 413L1268.5 413L1267.8 413L1267.1 413L1266.4 413L1265.7 413L1265 413L1264.3 413L1263.6 413L1262.9 413L1262.2 413L1261.5 413L1260.8 413L1260.1 413L1259.4 413L1258.7 413L1258 413L1257.3 413L1256.6 413L1255.9 413L1255.2 413L1254.5 413L1253.8 413L1253.1 413L1252.4 413L1251.7 413L1251 413L1250.3 413L1249.6 413L1248.9 413L1248.2 413L1247.5 413L1246.8 413L1246.1 413L1245.4 413L1244.7 413L1244 413L1243.3 413L1242.6 413L1241.9 413L1241.2 413L1240.5 413L1239.8 413L1239.1 413L1238.4 413L1237.7 413L1237 413L1236.3 413L1235.6 413L1234.9 413L1234.2 413L1233.5 413L1232.8 413L1232.1 413L1231.4 413L1230.7 413L1230 413L1229.3 413L1228.6 413L1227.9 413L1227.2 413L1226.5 413L1225.8 413L1225.1 413L1224.4 413L1223.7 413L1223 413L1222.3 413L1221.6 413L1220.9 413L1220.2 413L1219.5 413L1218.8 413L1218.1 413L1217.4 413L1216.7 413L1216 413L1215.3 413L1214.6 413L1213.9 413L1213.2 413L1212.5 413L1211.8 413L1211.1 413L1210.4 413L1209.7 413L1209 413L1208.3 413L1207.6 413L1206.9 413L1206.2 413L1205.5 413L1204.8 413L1204.1 413L1203.4 413L1202.7 413L1202 413L1201.3 413L1200.6 413L1199.9 413L1199.2 413L1198.5 413L1197.8 413L1197.1 413L1196.4 413L1195.7 413L1195 413L1194.3 413L1193.6 413L1192.9 413L1192.2 413L1191.5 413L1190.8 413L1190.1 413L1189.4 413L1188.7 413L1188 413L1187.3 413L1186.6 413L1185.9 413L1185.2 413L1184.5 413L1183.8 413L1183.1 413L1182.4 413L1181.7 413L1181 413L1180.3 413L1179.6 413L1178.9 413L1178.2 413L1177.5 413L1176.8 413L1176.1 413L1175.4 413L1174.7 413L1174 413L1173.3 413L1172.6 413L1171.9 413L1171.2 413L1170.5 413L1169.8 413L1169.1 413L1168.4 413L1167.7 413L1167 413L1166.3 413L1165.6 413L1164.9 413L1164.2 413L1163.5 413L1162.8 413L1162.1 413L1161.4 413L1160.7 413L1160 413L1159.3 413L1158.6 413L1157.9 413L1157.2 413L1156.5 413L1155.8 413L1155.1 413L1154.4 413L1153.7 413L1153 413L1152.3 413L1151.6 413L1150.9 413L1150.2 413L1149.5 413L1148.8 413L1148.1 413L1147.4 413L1146.7 413L1146 413Z" stroke="none"/>
<path d="M1326.8 400L1327.6 350L1328.6 310L1329.8 275L1331 250L1332 236L1333.2 225L1334.4 236L1335.6 250L1337 275L1338.4 310L1339.4 350L1340.2 400Z" stroke-width="1"/>
</g>
<path d="M1328.5 413L1331.5 390L1333 396L1334.5 390L1338 413Z" fill="#9d9ecc"/>
</g>
<g id="axes" fill="none" stroke="#231f20">
<rect x="79.7" y="0.5" width="2018.8" height="412.3" stroke-width="1.4"/>
<path d="M238 412.8V405.8M238 0.5V7.5M450.8 412.8V405.8M450.8 0.5V7.5M663.5 412.8V405.8M663.5 0.5V7.5M876.2 412.8V405.8M876.2 0.5V7.5M1089 412.8V405.8M1089 0.5V7.5M1301.8 412.8V405.8M1301.8 0.5V7.5M1514.5 412.8V405.8M1514.5 0.5V7.5M1727.2 412.8V405.8M1727.2 0.5V7.5M1940 412.8V405.8M1940 0.5V7.5M79.7 27.8H88.2M2098.5 27.8H2090M79.7 74.3H88.2M2098.5 74.3H2090M79.7 120.8H88.2M2098.5 120.8H2090M79.7 167.2H88.2M2098.5 167.2H2090M79.7 213.7H88.2M2098.5 213.7H2090M79.7 260.2H88.2M2098.5 260.2H2090M79.7 306.7H88.2M2098.5 306.7H2090M79.7 353.1H88.2M2098.5 353.1H2090M79.7 399.6H88.2M2098.5 399.6H2090" stroke-width="1.8"/>
</g>
<g class="tk"><text x="234.1" y="441" text-anchor="middle">1500</text><text x="447.5" y="441" text-anchor="middle">1520</text><text x="661" y="441" text-anchor="middle">1540</text><text x="874.4" y="441" text-anchor="middle">1560</text><text x="1087.9" y="441" text-anchor="middle">1580</text><text x="1301.4" y="441" text-anchor="middle">1600</text><text x="1514.8" y="441" text-anchor="middle">1620</text><text x="1728.3" y="441" text-anchor="middle">1640</text><text x="1941.7" y="441" text-anchor="middle">1660</text><text x="74.8" y="37.8" text-anchor="end">0</text><text x="74.8" y="84.3" text-anchor="end">-10</text><text x="74.8" y="130.8" text-anchor="end">-20</text><text x="74.8" y="177.2" text-anchor="end">-30</text><text x="74.8" y="223.7" text-anchor="end">-40</text><text x="74.8" y="270.2" text-anchor="end">-50</text><text x="74.8" y="316.7" text-anchor="end">-60</text><text x="74.8" y="363.1" text-anchor="end">-70</text><text x="74.8" y="409.6" text-anchor="end">-80</text></g>
<text class="lb" x="1117.6" y="473.4" text-anchor="middle">Wavelength [nm]</text>
<text class="lb" transform="translate(21.2 232.5) rotate(-90)" text-anchor="middle">Optical power [dBm]</text>
<g class="lg">
<path d="M1740 42.3H1803" stroke="#9d9ecc" stroke-width="4.2"/>
<path d="M1740 84H1803" stroke="#27a2dc" stroke-width="4.2"/>
<path d="M1740 120.7H1803" stroke="#dc4a3a" stroke-width="4.2"/>
<text x="1819.8" y="51.5">Pump at 1530 nm</text>
<text x="1819.8" y="92.7">Pump at 1603 nm</text>
<text x="1819.8" y="129.7">Turn-off using heater</text>
</g>
</svg>
</body>
</html>
